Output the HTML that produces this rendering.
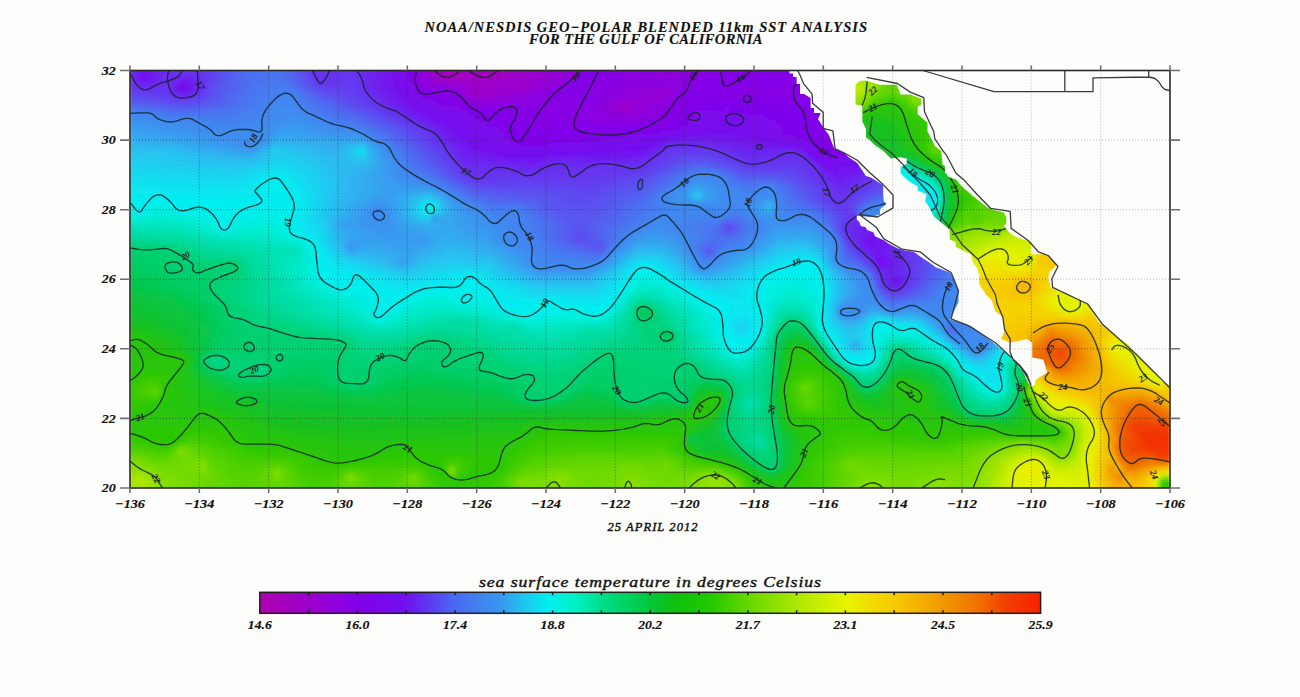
<!DOCTYPE html><html><head><meta charset="utf-8"><style>html,body{margin:0;padding:0;background:#fdfdfb;width:1300px;height:697px;overflow:hidden}svg{display:block}</style></head><body>
<svg width="1300" height="697" viewBox="0 0 1300 697">
<defs><clipPath id="plot"><rect x="130.0" y="70.5" width="1040.0" height="417.5"/></clipPath>
<filter id="vb" x="0" y="0" width="1300" height="697" filterUnits="userSpaceOnUse"><feGaussianBlur stdDeviation="1 2.2"/></filter>
<linearGradient id="g0" gradientUnits="userSpaceOnUse" x1="130" x2="1170"><stop offset=".001" stop-color="#692cf0"/><stop offset=".013" stop-color="#7310f0"/><stop offset=".039" stop-color="#6830f0"/><stop offset=".064" stop-color="#6830f0"/><stop offset=".113" stop-color="#4c6ff0"/><stop offset=".145" stop-color="#4a75f0"/><stop offset=".166" stop-color="#5b51f0"/><stop offset=".178" stop-color="#6830f0"/><stop offset=".214" stop-color="#6634f0"/><stop offset=".261" stop-color="#7a09ec"/><stop offset=".280" stop-color="#8a00e1"/><stop offset=".293" stop-color="#a500c0"/><stop offset=".357" stop-color="#a200c3"/><stop offset=".411" stop-color="#9400d5"/><stop offset=".439" stop-color="#8400e8"/><stop offset=".511" stop-color="#8e00dc"/><stop offset=".576" stop-color="#8400e8"/><stop offset=".670" stop-color="#8400e8"/><stop offset=".672" stop-color="#b8ea00"/><stop offset=".695" stop-color="#b8ea00"/><stop offset=".697" stop-color="#a8e600"/><stop offset=".705" stop-color="#a1e500"/><stop offset=".709" stop-color="#87df00"/><stop offset=".711" stop-color="#96e200"/><stop offset=".716" stop-color="#96e200"/><stop offset=".722" stop-color="#9fe400"/><stop offset=".724" stop-color="#6bd900"/><stop offset=".738" stop-color="#60d600"/><stop offset=".757" stop-color="#60d600"/><stop offset=".759" stop-color="#6dd900"/><stop offset=".761" stop-color="#6dd900"/><stop offset=".762" stop-color="#87df00"/><stop offset=".770" stop-color="#87df00"/><stop offset=".774" stop-color="#7edd00"/><stop offset=".905" stop-color="#7edd00"/><stop offset=".907" stop-color="#51d100"/><stop offset=".916" stop-color="#51d100"/><stop offset=".918" stop-color="#68d800"/><stop offset=".999" stop-color="#68d800"/></linearGradient><linearGradient id="g1" gradientUnits="userSpaceOnUse" x1="130" x2="1170"><stop offset=".001" stop-color="#692ef0"/><stop offset=".013" stop-color="#730ff0"/><stop offset=".039" stop-color="#6830f0"/><stop offset=".064" stop-color="#6830f0"/><stop offset=".113" stop-color="#4c6ff0"/><stop offset=".145" stop-color="#4a75f0"/><stop offset=".166" stop-color="#5b52f0"/><stop offset=".178" stop-color="#6830f0"/><stop offset=".214" stop-color="#6634f0"/><stop offset=".261" stop-color="#7a09ec"/><stop offset=".280" stop-color="#8a00e1"/><stop offset=".295" stop-color="#a500c0"/><stop offset=".355" stop-color="#a400c1"/><stop offset=".409" stop-color="#9400d5"/><stop offset=".439" stop-color="#8400e8"/><stop offset=".511" stop-color="#8e00dc"/><stop offset=".576" stop-color="#8400e8"/><stop offset=".670" stop-color="#8400e8"/><stop offset=".672" stop-color="#b8ea00"/><stop offset=".695" stop-color="#b8ea00"/><stop offset=".697" stop-color="#a8e600"/><stop offset=".705" stop-color="#a1e500"/><stop offset=".709" stop-color="#87df00"/><stop offset=".711" stop-color="#96e200"/><stop offset=".716" stop-color="#96e200"/><stop offset=".722" stop-color="#9fe400"/><stop offset=".724" stop-color="#6bd900"/><stop offset=".738" stop-color="#60d600"/><stop offset=".757" stop-color="#66d700"/><stop offset=".761" stop-color="#6dd900"/><stop offset=".762" stop-color="#87df00"/><stop offset=".770" stop-color="#87df00"/><stop offset=".774" stop-color="#7edd00"/><stop offset=".899" stop-color="#7edd00"/><stop offset=".901" stop-color="#66d700"/><stop offset=".905" stop-color="#66d700"/><stop offset=".907" stop-color="#51d100"/><stop offset=".914" stop-color="#51d100"/><stop offset=".918" stop-color="#68d800"/><stop offset=".999" stop-color="#68d800"/></linearGradient><linearGradient id="g2" gradientUnits="userSpaceOnUse" x1="130" x2="1170"><stop offset=".001" stop-color="#6830f0"/><stop offset=".013" stop-color="#750eef"/><stop offset=".036" stop-color="#6830f0"/><stop offset=".049" stop-color="#6a2bf0"/><stop offset=".061" stop-color="#6a2bf0"/><stop offset=".111" stop-color="#4d6ef0"/><stop offset=".145" stop-color="#4976f0"/><stop offset=".164" stop-color="#5858f0"/><stop offset=".180" stop-color="#6830f0"/><stop offset=".214" stop-color="#6635f0"/><stop offset=".259" stop-color="#780aed"/><stop offset=".284" stop-color="#8f00dc"/><stop offset=".305" stop-color="#a700bc"/><stop offset=".328" stop-color="#a200c3"/><stop offset=".349" stop-color="#a400c1"/><stop offset=".409" stop-color="#9400d5"/><stop offset=".418" stop-color="#9200d8"/><stop offset=".430" stop-color="#8400e8"/><stop offset=".512" stop-color="#8e00dc"/><stop offset=".570" stop-color="#8400e8"/><stop offset=".670" stop-color="#8400e8"/><stop offset=".672" stop-color="#00eacb"/><stop offset=".674" stop-color="#b8ea00"/><stop offset=".697" stop-color="#b8ea00"/><stop offset=".699" stop-color="#a8e600"/><stop offset=".705" stop-color="#a1e500"/><stop offset=".709" stop-color="#87df00"/><stop offset=".711" stop-color="#96e200"/><stop offset=".720" stop-color="#9fe400"/><stop offset=".724" stop-color="#6bd900"/><stop offset=".738" stop-color="#60d600"/><stop offset=".753" stop-color="#60d600"/><stop offset=".755" stop-color="#6dd900"/><stop offset=".759" stop-color="#6dd900"/><stop offset=".762" stop-color="#87df00"/><stop offset=".768" stop-color="#87df00"/><stop offset=".772" stop-color="#7edd00"/><stop offset=".889" stop-color="#7edd00"/><stop offset=".891" stop-color="#66d700"/><stop offset=".895" stop-color="#66d700"/><stop offset=".897" stop-color="#51d100"/><stop offset=".911" stop-color="#51d100"/><stop offset=".914" stop-color="#68d800"/><stop offset=".999" stop-color="#68d800"/></linearGradient><linearGradient id="g3" gradientUnits="userSpaceOnUse" x1="130" x2="1170"><stop offset=".001" stop-color="#6831f0"/><stop offset=".005" stop-color="#6830f0"/><stop offset=".011" stop-color="#7310f0"/><stop offset=".016" stop-color="#7015f0"/><stop offset=".030" stop-color="#692ef0"/><stop offset=".045" stop-color="#6b27f0"/><stop offset=".053" stop-color="#6f1af0"/><stop offset=".099" stop-color="#5264f0"/><stop offset=".139" stop-color="#477af0"/><stop offset=".161" stop-color="#5264f0"/><stop offset=".182" stop-color="#6830f0"/><stop offset=".211" stop-color="#643af0"/><stop offset=".263" stop-color="#7a08ec"/><stop offset=".295" stop-color="#9900d0"/><stop offset=".307" stop-color="#a100c4"/><stop offset=".330" stop-color="#a000c6"/><stop offset=".364" stop-color="#9d00ca"/><stop offset=".409" stop-color="#9300d7"/><stop offset=".416" stop-color="#9900d0"/><stop offset=".424" stop-color="#8400e8"/><stop offset=".514" stop-color="#8e00dc"/><stop offset=".564" stop-color="#8301e8"/><stop offset=".672" stop-color="#8400e8"/><stop offset=".674" stop-color="#b8ea00"/><stop offset=".699" stop-color="#b8ea00"/><stop offset=".707" stop-color="#95e200"/><stop offset=".709" stop-color="#87df00"/><stop offset=".711" stop-color="#96e200"/><stop offset=".713" stop-color="#96e200"/><stop offset=".714" stop-color="#a6e600"/><stop offset=".718" stop-color="#9fe400"/><stop offset=".722" stop-color="#71da00"/><stop offset=".734" stop-color="#5fd500"/><stop offset=".751" stop-color="#66d700"/><stop offset=".759" stop-color="#6dd900"/><stop offset=".761" stop-color="#87df00"/><stop offset=".766" stop-color="#87df00"/><stop offset=".770" stop-color="#7edd00"/><stop offset=".878" stop-color="#7edd00"/><stop offset=".880" stop-color="#56d300"/><stop offset=".882" stop-color="#66d700"/><stop offset=".884" stop-color="#66d700"/><stop offset=".886" stop-color="#51d100"/><stop offset=".907" stop-color="#51d100"/><stop offset=".911" stop-color="#68d800"/><stop offset=".999" stop-color="#68d800"/></linearGradient><linearGradient id="g4" gradientUnits="userSpaceOnUse" x1="130" x2="1170"><stop offset=".001" stop-color="#6733f0"/><stop offset=".014" stop-color="#6d21f0"/><stop offset=".032" stop-color="#6831f0"/><stop offset=".041" stop-color="#6a29f0"/><stop offset=".049" stop-color="#750def"/><stop offset=".057" stop-color="#7017f0"/><stop offset=".080" stop-color="#5d4cf0"/><stop offset=".120" stop-color="#4976f0"/><stop offset=".151" stop-color="#4878f0"/><stop offset=".176" stop-color="#5f46f0"/><stop offset=".184" stop-color="#6634f0"/><stop offset=".209" stop-color="#633df0"/><stop offset=".261" stop-color="#780aed"/><stop offset=".291" stop-color="#8f00db"/><stop offset=".347" stop-color="#9e00c9"/><stop offset=".388" stop-color="#9500d4"/><stop offset=".418" stop-color="#8600e5"/><stop offset=".461" stop-color="#8b00e0"/><stop offset=".518" stop-color="#8d00de"/><stop offset=".564" stop-color="#8301e8"/><stop offset=".637" stop-color="#8500e7"/><stop offset=".672" stop-color="#8400e8"/><stop offset=".674" stop-color="#00eacb"/><stop offset=".676" stop-color="#b9ea00"/><stop offset=".703" stop-color="#b3e900"/><stop offset=".707" stop-color="#99e300"/><stop offset=".709" stop-color="#87df00"/><stop offset=".711" stop-color="#a6e600"/><stop offset=".714" stop-color="#a6e600"/><stop offset=".718" stop-color="#92e100"/><stop offset=".720" stop-color="#7bdc00"/><stop offset=".730" stop-color="#61d600"/><stop offset=".747" stop-color="#60d600"/><stop offset=".753" stop-color="#6dd900"/><stop offset=".757" stop-color="#6dd900"/><stop offset=".759" stop-color="#87df00"/><stop offset=".764" stop-color="#87df00"/><stop offset=".768" stop-color="#7edd00"/><stop offset=".863" stop-color="#7edd00"/><stop offset=".864" stop-color="#56d300"/><stop offset=".870" stop-color="#56d300"/><stop offset=".872" stop-color="#31c800"/><stop offset=".874" stop-color="#41cd00"/><stop offset=".876" stop-color="#41cd00"/><stop offset=".878" stop-color="#51d100"/><stop offset=".903" stop-color="#51d100"/><stop offset=".907" stop-color="#68d800"/><stop offset=".997" stop-color="#68d800"/><stop offset=".999" stop-color="#caee00"/></linearGradient><linearGradient id="g5" gradientUnits="userSpaceOnUse" x1="130" x2="1170"><stop offset=".001" stop-color="#6439f0"/><stop offset=".018" stop-color="#682ff0"/><stop offset=".036" stop-color="#6732f0"/><stop offset=".043" stop-color="#6c22f0"/><stop offset=".049" stop-color="#770bee"/><stop offset=".057" stop-color="#7016f0"/><stop offset=".082" stop-color="#5b51f0"/><stop offset=".124" stop-color="#477af0"/><stop offset=".153" stop-color="#467cf0"/><stop offset=".186" stop-color="#6142f0"/><stop offset=".216" stop-color="#643af0"/><stop offset=".261" stop-color="#770bee"/><stop offset=".293" stop-color="#8a00e1"/><stop offset=".314" stop-color="#8e00dd"/><stop offset=".336" stop-color="#9c00cc"/><stop offset=".384" stop-color="#9900d0"/><stop offset=".424" stop-color="#8400e8"/><stop offset=".514" stop-color="#9100d9"/><stop offset=".551" stop-color="#8202e9"/><stop offset=".622" stop-color="#8900e2"/><stop offset=".634" stop-color="#8800e3"/><stop offset=".674" stop-color="#8400e8"/><stop offset=".676" stop-color="#bdeb00"/><stop offset=".705" stop-color="#c0eb00"/><stop offset=".709" stop-color="#87df00"/><stop offset=".711" stop-color="#9ce400"/><stop offset=".714" stop-color="#9be300"/><stop offset=".722" stop-color="#6dd900"/><stop offset=".734" stop-color="#5ed500"/><stop offset=".741" stop-color="#69d800"/><stop offset=".743" stop-color="#72da00"/><stop offset=".747" stop-color="#61d600"/><stop offset=".753" stop-color="#6dd900"/><stop offset=".755" stop-color="#6dd900"/><stop offset=".759" stop-color="#87df00"/><stop offset=".762" stop-color="#87df00"/><stop offset=".766" stop-color="#7edd00"/><stop offset=".847" stop-color="#7edd00"/><stop offset=".849" stop-color="#56d300"/><stop offset=".855" stop-color="#56d300"/><stop offset=".857" stop-color="#31c800"/><stop offset=".864" stop-color="#31c800"/><stop offset=".866" stop-color="#41cd00"/><stop offset=".868" stop-color="#41cd00"/><stop offset=".870" stop-color="#51d100"/><stop offset=".899" stop-color="#51d100"/><stop offset=".903" stop-color="#68d800"/><stop offset=".995" stop-color="#68d800"/><stop offset=".997" stop-color="#f7cb00"/><stop offset=".999" stop-color="#f7cb00"/></linearGradient><linearGradient id="g6" gradientUnits="userSpaceOnUse" x1="130" x2="1170"><stop offset=".001" stop-color="#6141f0"/><stop offset=".018" stop-color="#6538f0"/><stop offset=".036" stop-color="#6537f0"/><stop offset=".051" stop-color="#7113f0"/><stop offset=".084" stop-color="#5956f0"/><stop offset=".128" stop-color="#457df0"/><stop offset=".155" stop-color="#4185f0"/><stop offset=".184" stop-color="#5c4ef0"/><stop offset=".222" stop-color="#6537f0"/><stop offset=".263" stop-color="#770bee"/><stop offset=".291" stop-color="#8500e7"/><stop offset=".316" stop-color="#8800e3"/><stop offset=".330" stop-color="#9c00cc"/><stop offset=".389" stop-color="#9000da"/><stop offset=".422" stop-color="#8400e8"/><stop offset=".514" stop-color="#9300d6"/><stop offset=".537" stop-color="#8301e8"/><stop offset=".622" stop-color="#8900e2"/><stop offset=".632" stop-color="#8b00e0"/><stop offset=".653" stop-color="#8400e8"/><stop offset=".674" stop-color="#8400e8"/><stop offset=".676" stop-color="#b6e900"/><stop offset=".705" stop-color="#b3e900"/><stop offset=".707" stop-color="#92e100"/><stop offset=".713" stop-color="#82de00"/><stop offset=".722" stop-color="#62d600"/><stop offset=".734" stop-color="#58d300"/><stop offset=".738" stop-color="#63d700"/><stop offset=".739" stop-color="#72da00"/><stop offset=".741" stop-color="#72da00"/><stop offset=".745" stop-color="#5bd400"/><stop offset=".753" stop-color="#6dd900"/><stop offset=".757" stop-color="#87df00"/><stop offset=".761" stop-color="#87df00"/><stop offset=".764" stop-color="#7edd00"/><stop offset=".832" stop-color="#7edd00"/><stop offset=".834" stop-color="#56d300"/><stop offset=".839" stop-color="#56d300"/><stop offset=".841" stop-color="#31c800"/><stop offset=".857" stop-color="#31c800"/><stop offset=".859" stop-color="#41cd00"/><stop offset=".861" stop-color="#41cd00"/><stop offset=".863" stop-color="#51d100"/><stop offset=".895" stop-color="#51d100"/><stop offset=".899" stop-color="#68d800"/><stop offset=".991" stop-color="#68d800"/><stop offset=".993" stop-color="#caee00"/><stop offset=".995" stop-color="#f7cb00"/><stop offset=".999" stop-color="#f7cb00"/></linearGradient><linearGradient id="g7" gradientUnits="userSpaceOnUse" x1="130" x2="1170"><stop offset=".001" stop-color="#5d4bf0"/><stop offset=".036" stop-color="#623ef0"/><stop offset=".053" stop-color="#6a2bf0"/><stop offset=".066" stop-color="#633df0"/><stop offset=".099" stop-color="#4e6cf0"/><stop offset=".151" stop-color="#4088f0"/><stop offset=".161" stop-color="#447ff0"/><stop offset=".189" stop-color="#5a54f0"/><stop offset=".224" stop-color="#6439f0"/><stop offset=".266" stop-color="#780bed"/><stop offset=".293" stop-color="#8202e9"/><stop offset=".320" stop-color="#8600e5"/><stop offset=".326" stop-color="#9c00cc"/><stop offset=".401" stop-color="#8600e5"/><stop offset=".453" stop-color="#8900e2"/><stop offset=".489" stop-color="#9100d9"/><stop offset=".512" stop-color="#9900d0"/><stop offset=".530" stop-color="#8400e8"/><stop offset=".622" stop-color="#8700e4"/><stop offset=".676" stop-color="#8400e8"/><stop offset=".678" stop-color="#a5e500"/><stop offset=".701" stop-color="#a3e500"/><stop offset=".718" stop-color="#60d600"/><stop offset=".724" stop-color="#5fd500"/><stop offset=".732" stop-color="#48cf00"/><stop offset=".747" stop-color="#60d600"/><stop offset=".755" stop-color="#87df00"/><stop offset=".759" stop-color="#87df00"/><stop offset=".762" stop-color="#7edd00"/><stop offset=".816" stop-color="#7edd00"/><stop offset=".818" stop-color="#56d300"/><stop offset=".824" stop-color="#56d300"/><stop offset=".826" stop-color="#31c800"/><stop offset=".849" stop-color="#31c800"/><stop offset=".851" stop-color="#41cd00"/><stop offset=".853" stop-color="#41cd00"/><stop offset=".855" stop-color="#51d100"/><stop offset=".889" stop-color="#51d100"/><stop offset=".893" stop-color="#68d800"/><stop offset=".988" stop-color="#68d800"/><stop offset=".989" stop-color="#caee00"/><stop offset=".991" stop-color="#f7cb00"/><stop offset=".999" stop-color="#f7cb00"/></linearGradient><linearGradient id="g8" gradientUnits="userSpaceOnUse" x1="130" x2="1170"><stop offset=".001" stop-color="#5857f0"/><stop offset=".037" stop-color="#5f46f0"/><stop offset=".059" stop-color="#633ef0"/><stop offset=".105" stop-color="#4b73f0"/><stop offset=".153" stop-color="#4089f0"/><stop offset=".170" stop-color="#4a75f0"/><stop offset=".203" stop-color="#5a54f0"/><stop offset=".270" stop-color="#780bed"/><stop offset=".322" stop-color="#8400e8"/><stop offset=".330" stop-color="#9200d7"/><stop offset=".438" stop-color="#8400e8"/><stop offset=".480" stop-color="#9300d6"/><stop offset=".516" stop-color="#8d00de"/><stop offset=".536" stop-color="#8102e9"/><stop offset=".678" stop-color="#8400e8"/><stop offset=".680" stop-color="#97e300"/><stop offset=".701" stop-color="#95e200"/><stop offset=".707" stop-color="#87df00"/><stop offset=".713" stop-color="#5dd500"/><stop offset=".732" stop-color="#2fc801"/><stop offset=".747" stop-color="#5ad400"/><stop offset=".753" stop-color="#87df00"/><stop offset=".770" stop-color="#7ddd00"/><stop offset=".801" stop-color="#7ddd00"/><stop offset=".803" stop-color="#56d300"/><stop offset=".809" stop-color="#56d300"/><stop offset=".811" stop-color="#31c800"/><stop offset=".841" stop-color="#31c800"/><stop offset=".843" stop-color="#41cd00"/><stop offset=".845" stop-color="#41cd00"/><stop offset=".847" stop-color="#51d100"/><stop offset=".886" stop-color="#51d100"/><stop offset=".889" stop-color="#68d800"/><stop offset=".984" stop-color="#68d800"/><stop offset=".986" stop-color="#caee00"/><stop offset=".988" stop-color="#f7cb00"/><stop offset=".999" stop-color="#f7cb00"/></linearGradient><linearGradient id="g9" gradientUnits="userSpaceOnUse" x1="130" x2="1170"><stop offset=".001" stop-color="#5165f0"/><stop offset=".043" stop-color="#5c4ef0"/><stop offset=".070" stop-color="#5857f0"/><stop offset=".138" stop-color="#4089f0"/><stop offset=".166" stop-color="#4382f0"/><stop offset=".234" stop-color="#6536f0"/><stop offset=".276" stop-color="#780bed"/><stop offset=".330" stop-color="#8a00e1"/><stop offset=".449" stop-color="#8800e3"/><stop offset=".474" stop-color="#9a00ce"/><stop offset=".505" stop-color="#8e00dc"/><stop offset=".545" stop-color="#7e05eb"/><stop offset=".678" stop-color="#8400e8"/><stop offset=".680" stop-color="#00efe6"/><stop offset=".682" stop-color="#93e200"/><stop offset=".703" stop-color="#8de000"/><stop offset=".705" stop-color="#87df00"/><stop offset=".711" stop-color="#4ed100"/><stop offset=".716" stop-color="#30c800"/><stop offset=".736" stop-color="#2ac608"/><stop offset=".743" stop-color="#3ccb00"/><stop offset=".755" stop-color="#6bd900"/><stop offset=".761" stop-color="#6ad800"/><stop offset=".764" stop-color="#75db00"/><stop offset=".787" stop-color="#75db00"/><stop offset=".789" stop-color="#53d200"/><stop offset=".795" stop-color="#53d200"/><stop offset=".797" stop-color="#31c800"/><stop offset=".834" stop-color="#31c800"/><stop offset=".836" stop-color="#41cd00"/><stop offset=".838" stop-color="#41cd00"/><stop offset=".839" stop-color="#51d100"/><stop offset=".882" stop-color="#51d100"/><stop offset=".886" stop-color="#68d800"/><stop offset=".980" stop-color="#68d800"/><stop offset=".982" stop-color="#caee00"/><stop offset=".984" stop-color="#f7cb00"/><stop offset=".999" stop-color="#f7cb00"/></linearGradient><linearGradient id="g10" gradientUnits="userSpaceOnUse" x1="130" x2="1170"><stop offset=".001" stop-color="#4a75f0"/><stop offset=".032" stop-color="#5165f0"/><stop offset=".059" stop-color="#555ef0"/><stop offset=".151" stop-color="#3e8df0"/><stop offset=".184" stop-color="#4a74f0"/><stop offset=".263" stop-color="#6d1ff0"/><stop offset=".278" stop-color="#760dee"/><stop offset=".355" stop-color="#8500e7"/><stop offset=".451" stop-color="#8900e2"/><stop offset=".474" stop-color="#9c00cc"/><stop offset=".497" stop-color="#8d00de"/><stop offset=".574" stop-color="#7c07ec"/><stop offset=".680" stop-color="#8400e8"/><stop offset=".682" stop-color="#93e200"/><stop offset=".699" stop-color="#93e200"/><stop offset=".701" stop-color="#65d700"/><stop offset=".703" stop-color="#4bd000"/><stop offset=".707" stop-color="#42cd00"/><stop offset=".711" stop-color="#2ec702"/><stop offset=".734" stop-color="#28c50a"/><stop offset=".743" stop-color="#2dc704"/><stop offset=".755" stop-color="#53d200"/><stop offset=".762" stop-color="#5fd500"/><stop offset=".766" stop-color="#75db00"/><stop offset=".774" stop-color="#75db00"/><stop offset=".776" stop-color="#53d200"/><stop offset=".782" stop-color="#53d200"/><stop offset=".784" stop-color="#31c800"/><stop offset=".826" stop-color="#31c800"/><stop offset=".828" stop-color="#41cd00"/><stop offset=".830" stop-color="#41cd00"/><stop offset=".832" stop-color="#51d100"/><stop offset=".878" stop-color="#51d100"/><stop offset=".882" stop-color="#68d800"/><stop offset=".976" stop-color="#68d800"/><stop offset=".978" stop-color="#caee00"/><stop offset=".980" stop-color="#f7cb00"/><stop offset=".999" stop-color="#f7cb00"/></linearGradient><linearGradient id="g11" gradientUnits="userSpaceOnUse" x1="130" x2="1170"><stop offset=".001" stop-color="#4284f0"/><stop offset=".024" stop-color="#457df0"/><stop offset=".045" stop-color="#4e6cf0"/><stop offset=".103" stop-color="#477bf0"/><stop offset=".157" stop-color="#3e8ef0"/><stop offset=".214" stop-color="#5460f0"/><stop offset=".268" stop-color="#6d1ff0"/><stop offset=".286" stop-color="#750def"/><stop offset=".366" stop-color="#8400e8"/><stop offset=".455" stop-color="#8b00e0"/><stop offset=".476" stop-color="#9400d5"/><stop offset=".547" stop-color="#7b08ec"/><stop offset=".680" stop-color="#8400e8"/><stop offset=".682" stop-color="#00efe6"/><stop offset=".684" stop-color="#93e200"/><stop offset=".693" stop-color="#93e200"/><stop offset=".697" stop-color="#2ac608"/><stop offset=".736" stop-color="#26c50d"/><stop offset=".747" stop-color="#33c900"/><stop offset=".759" stop-color="#44ce00"/><stop offset=".768" stop-color="#33c900"/><stop offset=".818" stop-color="#31c800"/><stop offset=".820" stop-color="#41cd00"/><stop offset=".822" stop-color="#41cd00"/><stop offset=".824" stop-color="#51d100"/><stop offset=".874" stop-color="#51d100"/><stop offset=".878" stop-color="#68d800"/><stop offset=".972" stop-color="#68d800"/><stop offset=".974" stop-color="#a2e500"/><stop offset=".976" stop-color="#f7cb00"/><stop offset=".999" stop-color="#f7cb00"/></linearGradient><linearGradient id="g12" gradientUnits="userSpaceOnUse" x1="130" x2="1170"><stop offset=".001" stop-color="#3e8df0"/><stop offset=".028" stop-color="#4382f0"/><stop offset=".047" stop-color="#467cf0"/><stop offset=".061" stop-color="#447ff0"/><stop offset=".087" stop-color="#4878f0"/><stop offset=".161" stop-color="#3d90f0"/><stop offset=".214" stop-color="#4f69f0"/><stop offset=".274" stop-color="#6d20f0"/><stop offset=".291" stop-color="#740eef"/><stop offset=".368" stop-color="#8400e8"/><stop offset=".459" stop-color="#8b00e0"/><stop offset=".486" stop-color="#8c00de"/><stop offset=".574" stop-color="#790aed"/><stop offset=".682" stop-color="#8400e8"/><stop offset=".684" stop-color="#00efe6"/><stop offset=".686" stop-color="#93e200"/><stop offset=".688" stop-color="#56d300"/><stop offset=".689" stop-color="#56d300"/><stop offset=".691" stop-color="#26c50e"/><stop offset=".732" stop-color="#22c312"/><stop offset=".757" stop-color="#38ca00"/><stop offset=".811" stop-color="#31c800"/><stop offset=".812" stop-color="#41cd00"/><stop offset=".814" stop-color="#41cd00"/><stop offset=".816" stop-color="#51d100"/><stop offset=".870" stop-color="#51d100"/><stop offset=".874" stop-color="#68d800"/><stop offset=".968" stop-color="#68d800"/><stop offset=".970" stop-color="#a2e500"/><stop offset=".972" stop-color="#ede700"/><stop offset=".974" stop-color="#f7cb00"/><stop offset=".999" stop-color="#f7cb00"/></linearGradient><linearGradient id="g13" gradientUnits="userSpaceOnUse" x1="130" x2="1170"><stop offset=".001" stop-color="#3c92f0"/><stop offset=".045" stop-color="#4186f0"/><stop offset=".066" stop-color="#4283f0"/><stop offset=".099" stop-color="#447ff0"/><stop offset=".161" stop-color="#3b94f0"/><stop offset=".216" stop-color="#4c70f0"/><stop offset=".297" stop-color="#740eef"/><stop offset=".370" stop-color="#8400e8"/><stop offset=".466" stop-color="#8c00df"/><stop offset=".578" stop-color="#780bed"/><stop offset=".684" stop-color="#8400e8"/><stop offset=".686" stop-color="#2bbdf0"/><stop offset=".688" stop-color="#22c312"/><stop offset=".718" stop-color="#1ac11d"/><stop offset=".743" stop-color="#28c50a"/><stop offset=".764" stop-color="#32c900"/><stop offset=".803" stop-color="#31c800"/><stop offset=".805" stop-color="#45ce00"/><stop offset=".807" stop-color="#45ce00"/><stop offset=".809" stop-color="#55d300"/><stop offset=".868" stop-color="#4dd000"/><stop offset=".870" stop-color="#68d800"/><stop offset=".963" stop-color="#68d800"/><stop offset=".964" stop-color="#a2e500"/><stop offset=".966" stop-color="#a2e500"/><stop offset=".968" stop-color="#ede700"/><stop offset=".970" stop-color="#f7cb00"/><stop offset=".999" stop-color="#f7cb00"/></linearGradient><linearGradient id="g14" gradientUnits="userSpaceOnUse" x1="130" x2="1170"><stop offset=".001" stop-color="#3a98f0"/><stop offset=".049" stop-color="#3e8ef0"/><stop offset=".097" stop-color="#4382f0"/><stop offset=".136" stop-color="#3d90f0"/><stop offset=".168" stop-color="#3a96f0"/><stop offset=".220" stop-color="#4976f0"/><stop offset=".305" stop-color="#740eef"/><stop offset=".376" stop-color="#8400e8"/><stop offset=".497" stop-color="#8500e7"/><stop offset=".572" stop-color="#760cee"/><stop offset=".686" stop-color="#8400e8"/><stop offset=".688" stop-color="#22c313"/><stop offset=".716" stop-color="#18c020"/><stop offset=".724" stop-color="#14c128"/><stop offset=".759" stop-color="#30c800"/><stop offset=".795" stop-color="#37ca00"/><stop offset=".797" stop-color="#45ce00"/><stop offset=".799" stop-color="#45ce00"/><stop offset=".801" stop-color="#5ad400"/><stop offset=".816" stop-color="#51d100"/><stop offset=".864" stop-color="#4bd000"/><stop offset=".866" stop-color="#49cf00"/><stop offset=".868" stop-color="#68d800"/><stop offset=".959" stop-color="#68d800"/><stop offset=".963" stop-color="#d2ef00"/><stop offset=".964" stop-color="#d2ef00"/><stop offset=".966" stop-color="#ede700"/><stop offset=".968" stop-color="#f7cb00"/><stop offset=".999" stop-color="#f7cb00"/></linearGradient><linearGradient id="g15" gradientUnits="userSpaceOnUse" x1="130" x2="1170"><stop offset=".001" stop-color="#379ef0"/><stop offset=".080" stop-color="#4186f0"/><stop offset=".132" stop-color="#3e8ef0"/><stop offset=".155" stop-color="#379ef0"/><stop offset=".220" stop-color="#4480f0"/><stop offset=".286" stop-color="#692ef0"/><stop offset=".311" stop-color="#750eef"/><stop offset=".388" stop-color="#8301e9"/><stop offset=".501" stop-color="#8102e9"/><stop offset=".572" stop-color="#740eef"/><stop offset=".688" stop-color="#8400e8"/><stop offset=".689" stop-color="#22c313"/><stop offset=".726" stop-color="#16c024"/><stop offset=".759" stop-color="#2fc802"/><stop offset=".791" stop-color="#3ccb00"/><stop offset=".795" stop-color="#5ad400"/><stop offset=".816" stop-color="#51d100"/><stop offset=".859" stop-color="#4cd000"/><stop offset=".861" stop-color="#45ce00"/><stop offset=".864" stop-color="#49cf00"/><stop offset=".866" stop-color="#68d800"/><stop offset=".955" stop-color="#68d800"/><stop offset=".959" stop-color="#d2ef00"/><stop offset=".961" stop-color="#d2ef00"/><stop offset=".963" stop-color="#ede700"/><stop offset=".964" stop-color="#f7cb00"/><stop offset=".999" stop-color="#f7cb00"/></linearGradient><linearGradient id="g16" gradientUnits="userSpaceOnUse" x1="130" x2="1170"><stop offset=".001" stop-color="#35a4f0"/><stop offset=".076" stop-color="#3f8cf0"/><stop offset=".130" stop-color="#3e8df0"/><stop offset=".149" stop-color="#35a2f0"/><stop offset=".220" stop-color="#3f8af0"/><stop offset=".286" stop-color="#6634f0"/><stop offset=".297" stop-color="#6b26f0"/><stop offset=".312" stop-color="#740fef"/><stop offset=".386" stop-color="#8202e9"/><stop offset=".499" stop-color="#7f05ea"/><stop offset=".570" stop-color="#730ff0"/><stop offset=".647" stop-color="#8103e9"/><stop offset=".689" stop-color="#8400e8"/><stop offset=".691" stop-color="#1dc219"/><stop offset=".728" stop-color="#16c023"/><stop offset=".762" stop-color="#30c800"/><stop offset=".787" stop-color="#44ce00"/><stop offset=".791" stop-color="#5ad400"/><stop offset=".812" stop-color="#51d100"/><stop offset=".855" stop-color="#4cd000"/><stop offset=".859" stop-color="#44ce00"/><stop offset=".863" stop-color="#49cf00"/><stop offset=".864" stop-color="#68d800"/><stop offset=".951" stop-color="#68d800"/><stop offset=".955" stop-color="#d2ef00"/><stop offset=".959" stop-color="#d2ef00"/><stop offset=".961" stop-color="#ede700"/><stop offset=".963" stop-color="#f7cb00"/><stop offset=".999" stop-color="#f7cb00"/></linearGradient><linearGradient id="g17" gradientUnits="userSpaceOnUse" x1="130" x2="1170"><stop offset=".001" stop-color="#33aaf0"/><stop offset=".072" stop-color="#3b95f0"/><stop offset=".091" stop-color="#3f8cf0"/><stop offset=".128" stop-color="#3f8af0"/><stop offset=".143" stop-color="#34a7f0"/><stop offset=".222" stop-color="#3b94f0"/><stop offset=".286" stop-color="#643af0"/><stop offset=".318" stop-color="#740eef"/><stop offset=".384" stop-color="#8102e9"/><stop offset=".447" stop-color="#8202e9"/><stop offset=".511" stop-color="#760cee"/><stop offset=".559" stop-color="#7017f0"/><stop offset=".647" stop-color="#7f05ea"/><stop offset=".689" stop-color="#8400e8"/><stop offset=".691" stop-color="#2bbdf0"/><stop offset=".693" stop-color="#17c022"/><stop offset=".736" stop-color="#18c020"/><stop offset=".762" stop-color="#31c800"/><stop offset=".782" stop-color="#44ce00"/><stop offset=".789" stop-color="#5ad400"/><stop offset=".805" stop-color="#51d100"/><stop offset=".851" stop-color="#4cd000"/><stop offset=".855" stop-color="#44ce00"/><stop offset=".861" stop-color="#49cf00"/><stop offset=".863" stop-color="#68d800"/><stop offset=".947" stop-color="#68d800"/><stop offset=".951" stop-color="#d2ef00"/><stop offset=".955" stop-color="#d2ef00"/><stop offset=".957" stop-color="#ede700"/><stop offset=".959" stop-color="#f7cb00"/><stop offset=".999" stop-color="#f7ca00"/></linearGradient><linearGradient id="g18" gradientUnits="userSpaceOnUse" x1="130" x2="1170"><stop offset=".001" stop-color="#30b1f0"/><stop offset=".068" stop-color="#379ef0"/><stop offset=".124" stop-color="#4088f0"/><stop offset=".141" stop-color="#31aef0"/><stop offset=".211" stop-color="#34a5f0"/><stop offset=".224" stop-color="#36a1f0"/><stop offset=".236" stop-color="#4087f0"/><stop offset=".257" stop-color="#5067f0"/><stop offset=".312" stop-color="#7017f0"/><stop offset=".380" stop-color="#8202e9"/><stop offset=".439" stop-color="#7e05eb"/><stop offset=".509" stop-color="#740eef"/><stop offset=".539" stop-color="#6c22f0"/><stop offset=".647" stop-color="#7c07ec"/><stop offset=".676" stop-color="#8400e8"/><stop offset=".693" stop-color="#7f05ea"/><stop offset=".695" stop-color="#17c022"/><stop offset=".736" stop-color="#16c125"/><stop offset=".761" stop-color="#2fc801"/><stop offset=".774" stop-color="#44ce00"/><stop offset=".786" stop-color="#5ad400"/><stop offset=".801" stop-color="#51d100"/><stop offset=".832" stop-color="#51d100"/><stop offset=".834" stop-color="#41cd00"/><stop offset=".838" stop-color="#3ecc00"/><stop offset=".839" stop-color="#4cd000"/><stop offset=".849" stop-color="#45ce00"/><stop offset=".851" stop-color="#3dcc00"/><stop offset=".853" stop-color="#49cf00"/><stop offset=".857" stop-color="#49cf00"/><stop offset=".861" stop-color="#68d800"/><stop offset=".943" stop-color="#68d800"/><stop offset=".947" stop-color="#d2ef00"/><stop offset=".953" stop-color="#d2ef00"/><stop offset=".955" stop-color="#f7cb00"/><stop offset=".999" stop-color="#f7ca00"/></linearGradient><linearGradient id="g19" gradientUnits="userSpaceOnUse" x1="130" x2="1170"><stop offset=".001" stop-color="#2db7f0"/><stop offset=".047" stop-color="#31adf0"/><stop offset=".109" stop-color="#3e8ef0"/><stop offset=".124" stop-color="#3e8df0"/><stop offset=".139" stop-color="#2cb9f0"/><stop offset=".205" stop-color="#32abf0"/><stop offset=".222" stop-color="#2bbcf0"/><stop offset=".239" stop-color="#3f8cf0"/><stop offset=".251" stop-color="#457ef0"/><stop offset=".282" stop-color="#5e49f0"/><stop offset=".326" stop-color="#730ff0"/><stop offset=".382" stop-color="#7e05eb"/><stop offset=".503" stop-color="#730fef"/><stop offset=".520" stop-color="#692cf0"/><stop offset=".564" stop-color="#6c24f0"/><stop offset=".647" stop-color="#780aed"/><stop offset=".670" stop-color="#8400e8"/><stop offset=".695" stop-color="#7f05ea"/><stop offset=".697" stop-color="#29c2f0"/><stop offset=".699" stop-color="#17c022"/><stop offset=".734" stop-color="#10c230"/><stop offset=".757" stop-color="#2cc706"/><stop offset=".770" stop-color="#47cf00"/><stop offset=".778" stop-color="#5dd500"/><stop offset=".795" stop-color="#51d100"/><stop offset=".824" stop-color="#51d100"/><stop offset=".826" stop-color="#3ccb00"/><stop offset=".828" stop-color="#3ccb00"/><stop offset=".830" stop-color="#2ec703"/><stop offset=".834" stop-color="#3ecc00"/><stop offset=".836" stop-color="#4cd000"/><stop offset=".845" stop-color="#45ce00"/><stop offset=".847" stop-color="#3dcc00"/><stop offset=".853" stop-color="#49cf00"/><stop offset=".855" stop-color="#49cf00"/><stop offset=".859" stop-color="#68d800"/><stop offset=".938" stop-color="#68d800"/><stop offset=".939" stop-color="#a2e500"/><stop offset=".941" stop-color="#a2e500"/><stop offset=".943" stop-color="#d2ef00"/><stop offset=".949" stop-color="#d2ef00"/><stop offset=".951" stop-color="#ede700"/><stop offset=".953" stop-color="#f7cb00"/><stop offset=".999" stop-color="#f7ca00"/></linearGradient><linearGradient id="g20" gradientUnits="userSpaceOnUse" x1="130" x2="1170"><stop offset=".001" stop-color="#2bbdf0"/><stop offset=".036" stop-color="#2cbaf0"/><stop offset=".111" stop-color="#3b94f0"/><stop offset=".118" stop-color="#3e8ef0"/><stop offset=".139" stop-color="#24c9f0"/><stop offset=".195" stop-color="#31adf0"/><stop offset=".214" stop-color="#29c0f0"/><stop offset=".222" stop-color="#17d8f0"/><stop offset=".224" stop-color="#18d7f0"/><stop offset=".232" stop-color="#33aaf0"/><stop offset=".249" stop-color="#4088f0"/><stop offset=".286" stop-color="#5e4af0"/><stop offset=".332" stop-color="#730ff0"/><stop offset=".389" stop-color="#780aed"/><stop offset=".499" stop-color="#7211f0"/><stop offset=".518" stop-color="#6732f0"/><stop offset=".557" stop-color="#6830f0"/><stop offset=".611" stop-color="#6e1cf0"/><stop offset=".636" stop-color="#6d1ff0"/><stop offset=".666" stop-color="#8400e8"/><stop offset=".699" stop-color="#760cee"/><stop offset=".701" stop-color="#20cdf0"/><stop offset=".703" stop-color="#17c022"/><stop offset=".736" stop-color="#12c12b"/><stop offset=".764" stop-color="#35c900"/><stop offset=".772" stop-color="#5fd500"/><stop offset=".791" stop-color="#51d100"/><stop offset=".816" stop-color="#51d100"/><stop offset=".818" stop-color="#3ccb00"/><stop offset=".820" stop-color="#3ccb00"/><stop offset=".822" stop-color="#2bc607"/><stop offset=".828" stop-color="#30c800"/><stop offset=".832" stop-color="#4cd000"/><stop offset=".841" stop-color="#45ce00"/><stop offset=".843" stop-color="#3dcc00"/><stop offset=".849" stop-color="#49cf00"/><stop offset=".853" stop-color="#49cf00"/><stop offset=".857" stop-color="#68d800"/><stop offset=".934" stop-color="#68d800"/><stop offset=".938" stop-color="#d2ef00"/><stop offset=".947" stop-color="#d2ef00"/><stop offset=".949" stop-color="#f7cb00"/><stop offset=".999" stop-color="#f7cb00"/></linearGradient><linearGradient id="g21" gradientUnits="userSpaceOnUse" x1="130" x2="1170"><stop offset=".001" stop-color="#28c3f0"/><stop offset=".030" stop-color="#26c7f0"/><stop offset=".116" stop-color="#36a0f0"/><stop offset=".139" stop-color="#20cdf0"/><stop offset=".197" stop-color="#2fb2f0"/><stop offset=".214" stop-color="#26c7f0"/><stop offset=".220" stop-color="#10e0f0"/><stop offset=".224" stop-color="#10e0f0"/><stop offset=".230" stop-color="#2cbaf0"/><stop offset=".243" stop-color="#3b94f0"/><stop offset=".320" stop-color="#6e1ef0"/><stop offset=".357" stop-color="#750def"/><stop offset=".493" stop-color="#7113f0"/><stop offset=".516" stop-color="#6636f0"/><stop offset=".553" stop-color="#633cf0"/><stop offset=".603" stop-color="#6c22f0"/><stop offset=".636" stop-color="#692ef0"/><stop offset=".645" stop-color="#6c22f0"/><stop offset=".655" stop-color="#770bee"/><stop offset=".676" stop-color="#8300e8"/><stop offset=".705" stop-color="#7310f0"/><stop offset=".707" stop-color="#1cd2f0"/><stop offset=".709" stop-color="#14c127"/><stop offset=".741" stop-color="#14c127"/><stop offset=".755" stop-color="#1fc217"/><stop offset=".768" stop-color="#3ecc00"/><stop offset=".772" stop-color="#55d300"/><stop offset=".809" stop-color="#4fd100"/><stop offset=".811" stop-color="#3ccb00"/><stop offset=".812" stop-color="#3ccb00"/><stop offset=".814" stop-color="#2bc607"/><stop offset=".824" stop-color="#30c800"/><stop offset=".828" stop-color="#4cd000"/><stop offset=".838" stop-color="#45ce00"/><stop offset=".841" stop-color="#3bcb00"/><stop offset=".847" stop-color="#49cf00"/><stop offset=".851" stop-color="#49cf00"/><stop offset=".855" stop-color="#68d800"/><stop offset=".930" stop-color="#68d800"/><stop offset=".934" stop-color="#d2ef00"/><stop offset=".943" stop-color="#d2ef00"/><stop offset=".945" stop-color="#ede700"/><stop offset=".947" stop-color="#f7cb00"/><stop offset=".999" stop-color="#f7cb00"/></linearGradient><linearGradient id="g22" gradientUnits="userSpaceOnUse" x1="130" x2="1170"><stop offset=".001" stop-color="#25c8f0"/><stop offset=".034" stop-color="#25c8f0"/><stop offset=".113" stop-color="#31adf0"/><stop offset=".143" stop-color="#1fcef0"/><stop offset=".199" stop-color="#2db7f0"/><stop offset=".224" stop-color="#1ecff0"/><stop offset=".241" stop-color="#389bf0"/><stop offset=".318" stop-color="#6b25f0"/><stop offset=".368" stop-color="#740eef"/><stop offset=".422" stop-color="#7114f0"/><stop offset=".489" stop-color="#6f1af0"/><stop offset=".530" stop-color="#5f46f0"/><stop offset=".561" stop-color="#6142f0"/><stop offset=".591" stop-color="#6a29f0"/><stop offset=".647" stop-color="#6830f0"/><stop offset=".657" stop-color="#750eef"/><stop offset=".680" stop-color="#8301e8"/><stop offset=".709" stop-color="#7310f0"/><stop offset=".711" stop-color="#1ed0f0"/><stop offset=".713" stop-color="#13c12a"/><stop offset=".741" stop-color="#14c128"/><stop offset=".743" stop-color="#10c231"/><stop offset=".747" stop-color="#14c128"/><stop offset=".753" stop-color="#12c12b"/><stop offset=".768" stop-color="#30c800"/><stop offset=".778" stop-color="#42cd00"/><stop offset=".795" stop-color="#42cd00"/><stop offset=".797" stop-color="#36ca00"/><stop offset=".805" stop-color="#37ca00"/><stop offset=".809" stop-color="#2bc607"/><stop offset=".820" stop-color="#30c800"/><stop offset=".824" stop-color="#4cd000"/><stop offset=".834" stop-color="#45ce00"/><stop offset=".838" stop-color="#3bcb00"/><stop offset=".843" stop-color="#49cf00"/><stop offset=".849" stop-color="#49cf00"/><stop offset=".853" stop-color="#68d800"/><stop offset=".926" stop-color="#68d800"/><stop offset=".930" stop-color="#d2ef00"/><stop offset=".939" stop-color="#d2ef00"/><stop offset=".941" stop-color="#ede700"/><stop offset=".943" stop-color="#f7cb00"/><stop offset=".999" stop-color="#f7cb00"/></linearGradient><linearGradient id="g23" gradientUnits="userSpaceOnUse" x1="130" x2="1170"><stop offset=".001" stop-color="#22cbf0"/><stop offset=".045" stop-color="#26c7f0"/><stop offset=".113" stop-color="#2cb9f0"/><stop offset=".145" stop-color="#1cd2f0"/><stop offset=".201" stop-color="#2cb9f0"/><stop offset=".224" stop-color="#28c4f0"/><stop offset=".253" stop-color="#3f8cf0"/><stop offset=".322" stop-color="#6b26f0"/><stop offset=".386" stop-color="#7113f0"/><stop offset=".416" stop-color="#6c24f0"/><stop offset=".439" stop-color="#6e1ef0"/><stop offset=".474" stop-color="#6d20f0"/><stop offset=".495" stop-color="#6a2bf0"/><stop offset=".541" stop-color="#5a53f0"/><stop offset=".568" stop-color="#5f46f0"/><stop offset=".591" stop-color="#692ef0"/><stop offset=".645" stop-color="#6733f0"/><stop offset=".653" stop-color="#692cf0"/><stop offset=".661" stop-color="#740eef"/><stop offset=".684" stop-color="#7c08ec"/><stop offset=".711" stop-color="#7113f0"/><stop offset=".713" stop-color="#6f1af0"/><stop offset=".714" stop-color="#19d6f0"/><stop offset=".716" stop-color="#12c12b"/><stop offset=".739" stop-color="#13c12a"/><stop offset=".741" stop-color="#0bc33a"/><stop offset=".745" stop-color="#08c440"/><stop offset=".747" stop-color="#04ca58"/><stop offset=".749" stop-color="#04ca5a"/><stop offset=".755" stop-color="#0bc33a"/><stop offset=".770" stop-color="#2ac608"/><stop offset=".784" stop-color="#34c900"/><stop offset=".801" stop-color="#2bc607"/><stop offset=".816" stop-color="#30c800"/><stop offset=".820" stop-color="#4cd000"/><stop offset=".830" stop-color="#45ce00"/><stop offset=".836" stop-color="#39cb00"/><stop offset=".838" stop-color="#49cf00"/><stop offset=".847" stop-color="#49cf00"/><stop offset=".851" stop-color="#68d800"/><stop offset=".922" stop-color="#68d800"/><stop offset=".926" stop-color="#d2ef00"/><stop offset=".938" stop-color="#d2ef00"/><stop offset=".939" stop-color="#ede700"/><stop offset=".941" stop-color="#f7cb00"/><stop offset=".999" stop-color="#f7cb00"/></linearGradient><linearGradient id="g24" gradientUnits="userSpaceOnUse" x1="130" x2="1170"><stop offset=".001" stop-color="#1ed0f0"/><stop offset=".068" stop-color="#28c4f0"/><stop offset=".116" stop-color="#26c6f0"/><stop offset=".145" stop-color="#17d8f0"/><stop offset=".201" stop-color="#2cbaf0"/><stop offset=".226" stop-color="#2cb9f0"/><stop offset=".324" stop-color="#6a29f0"/><stop offset=".351" stop-color="#6a2af0"/><stop offset=".388" stop-color="#6e1ef0"/><stop offset=".412" stop-color="#6830f0"/><stop offset=".436" stop-color="#6b25f0"/><stop offset=".463" stop-color="#6831f0"/><stop offset=".489" stop-color="#692cf0"/><stop offset=".547" stop-color="#5362f0"/><stop offset=".572" stop-color="#5c4df0"/><stop offset=".599" stop-color="#6830f0"/><stop offset=".639" stop-color="#643af0"/><stop offset=".657" stop-color="#692cf0"/><stop offset=".666" stop-color="#740eef"/><stop offset=".703" stop-color="#7211f0"/><stop offset=".713" stop-color="#6f1af0"/><stop offset=".716" stop-color="#6830f0"/><stop offset=".718" stop-color="#12ddf0"/><stop offset=".720" stop-color="#12c22d"/><stop offset=".734" stop-color="#12c12b"/><stop offset=".736" stop-color="#00d992"/><stop offset=".738" stop-color="#00f0f0"/><stop offset=".741" stop-color="#00f0f0"/><stop offset=".745" stop-color="#00eaca"/><stop offset=".747" stop-color="#00db9d"/><stop offset=".751" stop-color="#00d278"/><stop offset=".753" stop-color="#04ca58"/><stop offset=".772" stop-color="#1fc217"/><stop offset=".778" stop-color="#2bc606"/><stop offset=".811" stop-color="#2ec703"/><stop offset=".814" stop-color="#3ecc00"/><stop offset=".816" stop-color="#4cd000"/><stop offset=".826" stop-color="#45ce00"/><stop offset=".832" stop-color="#39cb00"/><stop offset=".838" stop-color="#49cf00"/><stop offset=".845" stop-color="#49cf00"/><stop offset=".847" stop-color="#68d800"/><stop offset=".918" stop-color="#68d800"/><stop offset=".922" stop-color="#d2ef00"/><stop offset=".934" stop-color="#d2ef00"/><stop offset=".936" stop-color="#ede700"/><stop offset=".938" stop-color="#f7cb00"/><stop offset=".999" stop-color="#f7cb00"/></linearGradient><linearGradient id="g25" gradientUnits="userSpaceOnUse" x1="130" x2="1170"><stop offset=".001" stop-color="#1ad4f0"/><stop offset=".109" stop-color="#23caf0"/><stop offset=".145" stop-color="#12def0"/><stop offset=".201" stop-color="#2bbcf0"/><stop offset=".230" stop-color="#30b0f0"/><stop offset=".295" stop-color="#565cf0"/><stop offset=".322" stop-color="#692ef0"/><stop offset=".347" stop-color="#682ff0"/><stop offset=".376" stop-color="#6b26f0"/><stop offset=".420" stop-color="#6830f0"/><stop offset=".441" stop-color="#6831f0"/><stop offset=".493" stop-color="#6634f0"/><stop offset=".549" stop-color="#4b72f0"/><stop offset=".570" stop-color="#555ef0"/><stop offset=".599" stop-color="#633cf0"/><stop offset=".637" stop-color="#6240f0"/><stop offset=".661" stop-color="#692cf0"/><stop offset=".670" stop-color="#730ff0"/><stop offset=".703" stop-color="#7017f0"/><stop offset=".711" stop-color="#6e1ef0"/><stop offset=".714" stop-color="#6830f0"/><stop offset=".722" stop-color="#6538f0"/><stop offset=".724" stop-color="#0ae6f0"/><stop offset=".726" stop-color="#12c12b"/><stop offset=".728" stop-color="#12c12b"/><stop offset=".730" stop-color="#00d992"/><stop offset=".732" stop-color="#00d992"/><stop offset=".734" stop-color="#00f0f0"/><stop offset=".745" stop-color="#00f0f0"/><stop offset=".751" stop-color="#00dea7"/><stop offset=".753" stop-color="#00d27a"/><stop offset=".757" stop-color="#00d173"/><stop offset=".761" stop-color="#02cd65"/><stop offset=".764" stop-color="#03cc5e"/><stop offset=".772" stop-color="#0ec233"/><stop offset=".782" stop-color="#2ac608"/><stop offset=".786" stop-color="#2ac608"/><stop offset=".787" stop-color="#1cc11a"/><stop offset=".791" stop-color="#1ec218"/><stop offset=".793" stop-color="#14c128"/><stop offset=".795" stop-color="#2bc607"/><stop offset=".809" stop-color="#30c800"/><stop offset=".812" stop-color="#4cd000"/><stop offset=".822" stop-color="#45ce00"/><stop offset=".830" stop-color="#3acb00"/><stop offset=".832" stop-color="#49cf00"/><stop offset=".843" stop-color="#49cf00"/><stop offset=".845" stop-color="#68d800"/><stop offset=".912" stop-color="#68d800"/><stop offset=".914" stop-color="#a2e500"/><stop offset=".916" stop-color="#a2e500"/><stop offset=".918" stop-color="#d2ef00"/><stop offset=".932" stop-color="#d2ef00"/><stop offset=".934" stop-color="#ede700"/><stop offset=".936" stop-color="#f7cb00"/><stop offset=".999" stop-color="#f7cb00"/></linearGradient><linearGradient id="g26" gradientUnits="userSpaceOnUse" x1="130" x2="1170"><stop offset=".001" stop-color="#17d8f0"/><stop offset=".107" stop-color="#1ecff0"/><stop offset=".143" stop-color="#0ae6f0"/><stop offset=".199" stop-color="#2bbdf0"/><stop offset=".234" stop-color="#33a8f0"/><stop offset=".289" stop-color="#4d6ef0"/><stop offset=".326" stop-color="#682ff0"/><stop offset=".372" stop-color="#6831f0"/><stop offset=".397" stop-color="#6732f0"/><stop offset=".443" stop-color="#6634f0"/><stop offset=".491" stop-color="#643af0"/><stop offset=".551" stop-color="#4283f0"/><stop offset=".566" stop-color="#4977f0"/><stop offset=".589" stop-color="#5c4ef0"/><stop offset=".641" stop-color="#6043f0"/><stop offset=".664" stop-color="#6a2af0"/><stop offset=".678" stop-color="#7210f0"/><stop offset=".705" stop-color="#6d1ff0"/><stop offset=".716" stop-color="#6830f0"/><stop offset=".724" stop-color="#6141f0"/><stop offset=".726" stop-color="#6141f0"/><stop offset=".728" stop-color="#36a0f0"/><stop offset=".730" stop-color="#00f0f0"/><stop offset=".751" stop-color="#00f0f0"/><stop offset=".757" stop-color="#00e0b1"/><stop offset=".766" stop-color="#00d37d"/><stop offset=".772" stop-color="#02cd63"/><stop offset=".776" stop-color="#0ac33b"/><stop offset=".782" stop-color="#16c024"/><stop offset=".787" stop-color="#13c12a"/><stop offset=".789" stop-color="#14c128"/><stop offset=".793" stop-color="#2bc607"/><stop offset=".805" stop-color="#30c800"/><stop offset=".809" stop-color="#4cd000"/><stop offset=".818" stop-color="#45ce00"/><stop offset=".826" stop-color="#3acb00"/><stop offset=".832" stop-color="#49cf00"/><stop offset=".841" stop-color="#49cf00"/><stop offset=".843" stop-color="#68d800"/><stop offset=".909" stop-color="#68d800"/><stop offset=".912" stop-color="#d2ef00"/><stop offset=".928" stop-color="#d2ef00"/><stop offset=".930" stop-color="#ede700"/><stop offset=".932" stop-color="#f7cb00"/><stop offset=".999" stop-color="#f7cb00"/></linearGradient><linearGradient id="g27" gradientUnits="userSpaceOnUse" x1="130" x2="1170"><stop offset=".001" stop-color="#13dcf0"/><stop offset=".105" stop-color="#1ad4f0"/><stop offset=".143" stop-color="#02eef0"/><stop offset=".193" stop-color="#29c0f0"/><stop offset=".245" stop-color="#389cf0"/><stop offset=".289" stop-color="#4977f0"/><stop offset=".330" stop-color="#6830f0"/><stop offset=".368" stop-color="#6538f0"/><stop offset=".391" stop-color="#6634f0"/><stop offset=".441" stop-color="#6536f0"/><stop offset=".495" stop-color="#5f46f0"/><stop offset=".545" stop-color="#3f8af0"/><stop offset=".568" stop-color="#4284f0"/><stop offset=".588" stop-color="#565cf0"/><stop offset=".632" stop-color="#5b50f0"/><stop offset=".668" stop-color="#6b27f0"/><stop offset=".684" stop-color="#7016f0"/><stop offset=".716" stop-color="#6732f0"/><stop offset=".722" stop-color="#6141f0"/><stop offset=".730" stop-color="#5b50f0"/><stop offset=".732" stop-color="#00f0f0"/><stop offset=".755" stop-color="#00f0f0"/><stop offset=".761" stop-color="#00e8c5"/><stop offset=".772" stop-color="#00d68a"/><stop offset=".780" stop-color="#08c440"/><stop offset=".787" stop-color="#1ec218"/><stop offset=".789" stop-color="#2ac608"/><stop offset=".801" stop-color="#30c800"/><stop offset=".805" stop-color="#4cd000"/><stop offset=".814" stop-color="#45ce00"/><stop offset=".824" stop-color="#3acb00"/><stop offset=".826" stop-color="#49cf00"/><stop offset=".839" stop-color="#4cd000"/><stop offset=".841" stop-color="#68d800"/><stop offset=".905" stop-color="#68d800"/><stop offset=".909" stop-color="#d2ef00"/><stop offset=".926" stop-color="#d2ef00"/><stop offset=".928" stop-color="#f7cb00"/><stop offset=".999" stop-color="#f7cb00"/></linearGradient><linearGradient id="g28" gradientUnits="userSpaceOnUse" x1="130" x2="1170"><stop offset=".001" stop-color="#10e0f0"/><stop offset=".103" stop-color="#16d9f0"/><stop offset=".141" stop-color="#00f0f0"/><stop offset=".201" stop-color="#2bbdf0"/><stop offset=".291" stop-color="#457df0"/><stop offset=".336" stop-color="#6830f0"/><stop offset=".359" stop-color="#6141f0"/><stop offset=".399" stop-color="#643af0"/><stop offset=".443" stop-color="#643af0"/><stop offset=".495" stop-color="#5c4df0"/><stop offset=".543" stop-color="#3d90f0"/><stop offset=".572" stop-color="#4185f0"/><stop offset=".588" stop-color="#5067f0"/><stop offset=".618" stop-color="#5166f0"/><stop offset=".684" stop-color="#6e1ef0"/><stop offset=".716" stop-color="#6439f0"/><stop offset=".728" stop-color="#5b50f0"/><stop offset=".732" stop-color="#5b50f0"/><stop offset=".734" stop-color="#36a0f0"/><stop offset=".736" stop-color="#00f0f0"/><stop offset=".761" stop-color="#00f0f0"/><stop offset=".764" stop-color="#00eee0"/><stop offset=".774" stop-color="#00da96"/><stop offset=".776" stop-color="#00d37d"/><stop offset=".780" stop-color="#02ce66"/><stop offset=".786" stop-color="#13c12a"/><stop offset=".789" stop-color="#26c50d"/><stop offset=".797" stop-color="#30c800"/><stop offset=".801" stop-color="#4cd000"/><stop offset=".811" stop-color="#45ce00"/><stop offset=".820" stop-color="#3acb00"/><stop offset=".826" stop-color="#49cf00"/><stop offset=".836" stop-color="#4cd000"/><stop offset=".841" stop-color="#68d800"/><stop offset=".901" stop-color="#68d800"/><stop offset=".905" stop-color="#d2ef00"/><stop offset=".922" stop-color="#d2ef00"/><stop offset=".924" stop-color="#ede700"/><stop offset=".926" stop-color="#f7cb00"/><stop offset=".999" stop-color="#f7cb00"/></linearGradient><linearGradient id="g29" gradientUnits="userSpaceOnUse" x1="130" x2="1170"><stop offset=".001" stop-color="#0de3f0"/><stop offset=".105" stop-color="#12def0"/><stop offset=".136" stop-color="#00f0f0"/><stop offset=".157" stop-color="#0ae6f0"/><stop offset=".207" stop-color="#2db8f0"/><stop offset=".261" stop-color="#3999f0"/><stop offset=".293" stop-color="#4185f0"/><stop offset=".336" stop-color="#623ff0"/><stop offset=".372" stop-color="#6044f0"/><stop offset=".447" stop-color="#623ef0"/><stop offset=".497" stop-color="#5956f0"/><stop offset=".545" stop-color="#399af0"/><stop offset=".576" stop-color="#4382f0"/><stop offset=".593" stop-color="#4c6ff0"/><stop offset=".613" stop-color="#4381f0"/><stop offset=".647" stop-color="#5c4df0"/><stop offset=".684" stop-color="#6c24f0"/><stop offset=".713" stop-color="#6439f0"/><stop offset=".728" stop-color="#5b50f0"/><stop offset=".734" stop-color="#5b50f0"/><stop offset=".736" stop-color="#36a0f0"/><stop offset=".738" stop-color="#00f0f0"/><stop offset=".768" stop-color="#00f0f0"/><stop offset=".780" stop-color="#00d278"/><stop offset=".782" stop-color="#00d070"/><stop offset=".784" stop-color="#06c74b"/><stop offset=".791" stop-color="#27c50c"/><stop offset=".795" stop-color="#37ca00"/><stop offset=".797" stop-color="#4cd000"/><stop offset=".807" stop-color="#45ce00"/><stop offset=".816" stop-color="#3acb00"/><stop offset=".826" stop-color="#49cf00"/><stop offset=".834" stop-color="#4ed100"/><stop offset=".836" stop-color="#5fd500"/><stop offset=".845" stop-color="#68d800"/><stop offset=".897" stop-color="#68d800"/><stop offset=".901" stop-color="#d2ef00"/><stop offset=".920" stop-color="#d2ef00"/><stop offset=".922" stop-color="#f7cb00"/><stop offset=".999" stop-color="#f7cb00"/></linearGradient><linearGradient id="g30" gradientUnits="userSpaceOnUse" x1="130" x2="1170"><stop offset=".001" stop-color="#0ae6f0"/><stop offset=".064" stop-color="#10e0f0"/><stop offset=".113" stop-color="#09e7f0"/><stop offset=".136" stop-color="#00f0f0"/><stop offset=".157" stop-color="#07e9f0"/><stop offset=".205" stop-color="#2cb9f0"/><stop offset=".255" stop-color="#389bf0"/><stop offset=".286" stop-color="#389bf0"/><stop offset=".334" stop-color="#5c4ef0"/><stop offset=".445" stop-color="#6142f0"/><stop offset=".495" stop-color="#575af0"/><stop offset=".547" stop-color="#34a7f0"/><stop offset=".574" stop-color="#4088f0"/><stop offset=".593" stop-color="#4879f0"/><stop offset=".614" stop-color="#4088f0"/><stop offset=".649" stop-color="#5b50f0"/><stop offset=".680" stop-color="#6a2af0"/><stop offset=".705" stop-color="#6536f0"/><stop offset=".726" stop-color="#5a53f0"/><stop offset=".736" stop-color="#5a53f0"/><stop offset=".738" stop-color="#35a4f0"/><stop offset=".739" stop-color="#00f0f0"/><stop offset=".770" stop-color="#02eef0"/><stop offset=".772" stop-color="#00f0f0"/><stop offset=".778" stop-color="#00dda5"/><stop offset=".786" stop-color="#0ac43d"/><stop offset=".795" stop-color="#2ec702"/><stop offset=".797" stop-color="#43cd00"/><stop offset=".803" stop-color="#45ce00"/><stop offset=".812" stop-color="#3acb00"/><stop offset=".816" stop-color="#3dcc00"/><stop offset=".818" stop-color="#49cf00"/><stop offset=".830" stop-color="#4ed100"/><stop offset=".838" stop-color="#68d800"/><stop offset=".893" stop-color="#68d800"/><stop offset=".897" stop-color="#d2ef00"/><stop offset=".916" stop-color="#d2ef00"/><stop offset=".918" stop-color="#ede700"/><stop offset=".920" stop-color="#f7cb00"/><stop offset=".999" stop-color="#f7cb00"/></linearGradient><linearGradient id="g31" gradientUnits="userSpaceOnUse" x1="130" x2="1170"><stop offset=".001" stop-color="#07e9f0"/><stop offset=".039" stop-color="#07e9f0"/><stop offset=".107" stop-color="#0ae6f0"/><stop offset=".141" stop-color="#00f0ee"/><stop offset=".161" stop-color="#09e7f0"/><stop offset=".207" stop-color="#2eb6f0"/><stop offset=".249" stop-color="#389cf0"/><stop offset=".287" stop-color="#32acf0"/><stop offset=".326" stop-color="#5264f0"/><stop offset=".353" stop-color="#5956f0"/><stop offset=".443" stop-color="#6044f0"/><stop offset=".495" stop-color="#5461f0"/><stop offset=".518" stop-color="#4088f0"/><stop offset=".534" stop-color="#3b95f0"/><stop offset=".541" stop-color="#30b0f0"/><stop offset=".545" stop-color="#2bbdf0"/><stop offset=".549" stop-color="#30b1f0"/><stop offset=".562" stop-color="#3c92f0"/><stop offset=".593" stop-color="#447ff0"/><stop offset=".616" stop-color="#3f8af0"/><stop offset=".678" stop-color="#692df0"/><stop offset=".699" stop-color="#6536f0"/><stop offset=".724" stop-color="#575bf0"/><stop offset=".738" stop-color="#575bf0"/><stop offset=".739" stop-color="#33aaf0"/><stop offset=".741" stop-color="#00f0f0"/><stop offset=".762" stop-color="#0ae6f0"/><stop offset=".766" stop-color="#13dcf0"/><stop offset=".774" stop-color="#00f0f0"/><stop offset=".776" stop-color="#00eee0"/><stop offset=".780" stop-color="#00db9c"/><stop offset=".782" stop-color="#00d070"/><stop offset=".787" stop-color="#0dc336"/><stop offset=".797" stop-color="#2fc802"/><stop offset=".814" stop-color="#3fcc00"/><stop offset=".818" stop-color="#49cf00"/><stop offset=".830" stop-color="#59d400"/><stop offset=".841" stop-color="#68d800"/><stop offset=".887" stop-color="#68d800"/><stop offset=".889" stop-color="#a2e500"/><stop offset=".891" stop-color="#a2e500"/><stop offset=".893" stop-color="#d2ef00"/><stop offset=".912" stop-color="#d2ef00"/><stop offset=".914" stop-color="#ede700"/><stop offset=".916" stop-color="#f7cb00"/><stop offset=".999" stop-color="#f7cb00"/></linearGradient><linearGradient id="g32" gradientUnits="userSpaceOnUse" x1="130" x2="1170"><stop offset=".001" stop-color="#04ecf0"/><stop offset=".047" stop-color="#06eaf0"/><stop offset=".111" stop-color="#06eaf0"/><stop offset=".159" stop-color="#04ecf0"/><stop offset=".205" stop-color="#2db7f0"/><stop offset=".245" stop-color="#399af0"/><stop offset=".276" stop-color="#2eb6f0"/><stop offset=".289" stop-color="#29c0f0"/><stop offset=".312" stop-color="#4186f0"/><stop offset=".341" stop-color="#5362f0"/><stop offset=".439" stop-color="#5f46f0"/><stop offset=".493" stop-color="#5264f0"/><stop offset=".516" stop-color="#4088f0"/><stop offset=".536" stop-color="#3999f0"/><stop offset=".541" stop-color="#2fb3f0"/><stop offset=".543" stop-color="#28c4f0"/><stop offset=".547" stop-color="#28c4f0"/><stop offset=".553" stop-color="#35a2f0"/><stop offset=".574" stop-color="#4089f0"/><stop offset=".595" stop-color="#4186f0"/><stop offset=".616" stop-color="#3d8ff0"/><stop offset=".670" stop-color="#6537f0"/><stop offset=".688" stop-color="#682ff0"/><stop offset=".724" stop-color="#5068f0"/><stop offset=".734" stop-color="#5068f0"/><stop offset=".736" stop-color="#4976f0"/><stop offset=".739" stop-color="#4976f0"/><stop offset=".741" stop-color="#28c4f0"/><stop offset=".743" stop-color="#01eff0"/><stop offset=".759" stop-color="#08e8f0"/><stop offset=".764" stop-color="#18d7f0"/><stop offset=".776" stop-color="#00f0f0"/><stop offset=".778" stop-color="#00eedd"/><stop offset=".782" stop-color="#00d47e"/><stop offset=".784" stop-color="#00d070"/><stop offset=".787" stop-color="#0bc33a"/><stop offset=".795" stop-color="#28c50b"/><stop offset=".807" stop-color="#3ccb00"/><stop offset=".826" stop-color="#53d200"/><stop offset=".830" stop-color="#5fd500"/><stop offset=".845" stop-color="#68d800"/><stop offset=".884" stop-color="#68d800"/><stop offset=".887" stop-color="#d2ef00"/><stop offset=".911" stop-color="#d2ef00"/><stop offset=".912" stop-color="#ede700"/><stop offset=".914" stop-color="#f7cb00"/><stop offset=".999" stop-color="#f7cb00"/></linearGradient><linearGradient id="g33" gradientUnits="userSpaceOnUse" x1="130" x2="1170"><stop offset=".001" stop-color="#01eff0"/><stop offset=".109" stop-color="#04ecf0"/><stop offset=".161" stop-color="#04ecf0"/><stop offset=".205" stop-color="#2eb6f0"/><stop offset=".243" stop-color="#3a98f0"/><stop offset=".270" stop-color="#2fb3f0"/><stop offset=".287" stop-color="#16d9f0"/><stop offset=".297" stop-color="#2abff0"/><stop offset=".311" stop-color="#3d90f0"/><stop offset=".345" stop-color="#4f69f0"/><stop offset=".380" stop-color="#555ff0"/><stop offset=".436" stop-color="#5e49f0"/><stop offset=".489" stop-color="#5165f0"/><stop offset=".514" stop-color="#4088f0"/><stop offset=".537" stop-color="#3a98f0"/><stop offset=".545" stop-color="#33aaf0"/><stop offset=".570" stop-color="#3f8af0"/><stop offset=".597" stop-color="#4089f0"/><stop offset=".614" stop-color="#389cf0"/><stop offset=".630" stop-color="#477bf0"/><stop offset=".666" stop-color="#5f47f0"/><stop offset=".678" stop-color="#6830f0"/><stop offset=".693" stop-color="#643af0"/><stop offset=".718" stop-color="#4b73f0"/><stop offset=".728" stop-color="#457df0"/><stop offset=".732" stop-color="#4088f0"/><stop offset=".743" stop-color="#4088f0"/><stop offset=".745" stop-color="#06eaf0"/><stop offset=".768" stop-color="#0be5f0"/><stop offset=".776" stop-color="#00f0f0"/><stop offset=".786" stop-color="#06c74d"/><stop offset=".787" stop-color="#0dc336"/><stop offset=".799" stop-color="#2ec702"/><stop offset=".832" stop-color="#62d600"/><stop offset=".880" stop-color="#68d800"/><stop offset=".884" stop-color="#d2ef00"/><stop offset=".907" stop-color="#d2ef00"/><stop offset=".909" stop-color="#ede700"/><stop offset=".911" stop-color="#f7cb00"/><stop offset=".999" stop-color="#f7cb00"/></linearGradient><linearGradient id="g34" gradientUnits="userSpaceOnUse" x1="130" x2="1170"><stop offset=".001" stop-color="#00f0f0"/><stop offset=".036" stop-color="#00efea"/><stop offset=".114" stop-color="#01eff0"/><stop offset=".163" stop-color="#06eaf0"/><stop offset=".207" stop-color="#2fb2f0"/><stop offset=".241" stop-color="#3c93f0"/><stop offset=".268" stop-color="#2fb2f0"/><stop offset=".280" stop-color="#19d6f0"/><stop offset=".286" stop-color="#04ecf0"/><stop offset=".293" stop-color="#07e9f0"/><stop offset=".299" stop-color="#28c3f0"/><stop offset=".311" stop-color="#3999f0"/><stop offset=".349" stop-color="#4c71f0"/><stop offset=".374" stop-color="#4c6ff0"/><stop offset=".412" stop-color="#5c4ff0"/><stop offset=".459" stop-color="#5a53f0"/><stop offset=".520" stop-color="#4088f0"/><stop offset=".561" stop-color="#3d8ff0"/><stop offset=".593" stop-color="#4088f0"/><stop offset=".609" stop-color="#36a0f0"/><stop offset=".614" stop-color="#30b1f0"/><stop offset=".616" stop-color="#30b0f0"/><stop offset=".622" stop-color="#4088f0"/><stop offset=".661" stop-color="#575af0"/><stop offset=".682" stop-color="#6732f0"/><stop offset=".697" stop-color="#5d4af0"/><stop offset=".713" stop-color="#467cf0"/><stop offset=".734" stop-color="#4088f0"/><stop offset=".743" stop-color="#4088f0"/><stop offset=".745" stop-color="#29c0f0"/><stop offset=".747" stop-color="#07e9f0"/><stop offset=".770" stop-color="#05ebf0"/><stop offset=".776" stop-color="#00f0f0"/><stop offset=".782" stop-color="#00d070"/><stop offset=".784" stop-color="#02ce66"/><stop offset=".786" stop-color="#09c43e"/><stop offset=".787" stop-color="#14c128"/><stop offset=".791" stop-color="#14c128"/><stop offset=".799" stop-color="#2fc801"/><stop offset=".824" stop-color="#5fd500"/><stop offset=".855" stop-color="#68d800"/><stop offset=".876" stop-color="#68d800"/><stop offset=".880" stop-color="#d2ef00"/><stop offset=".905" stop-color="#d2ef00"/><stop offset=".907" stop-color="#ede700"/><stop offset=".909" stop-color="#f7cb00"/><stop offset=".999" stop-color="#f7cb00"/></linearGradient><linearGradient id="g35" gradientUnits="userSpaceOnUse" x1="130" x2="1170"><stop offset=".001" stop-color="#00f0ed"/><stop offset=".014" stop-color="#00efeb"/><stop offset=".032" stop-color="#00eee0"/><stop offset=".049" stop-color="#01eff0"/><stop offset=".155" stop-color="#00f0ee"/><stop offset=".209" stop-color="#31adf0"/><stop offset=".241" stop-color="#3f8af0"/><stop offset=".272" stop-color="#2abef0"/><stop offset=".282" stop-color="#0ce4f0"/><stop offset=".284" stop-color="#00f0f0"/><stop offset=".293" stop-color="#00f0f0"/><stop offset=".299" stop-color="#26c6f0"/><stop offset=".311" stop-color="#379ef0"/><stop offset=".349" stop-color="#4879f0"/><stop offset=".372" stop-color="#457ef0"/><stop offset=".401" stop-color="#5859f0"/><stop offset=".445" stop-color="#5b50f0"/><stop offset=".522" stop-color="#4088f0"/><stop offset=".578" stop-color="#4186f0"/><stop offset=".599" stop-color="#3f8cf0"/><stop offset=".611" stop-color="#32abf0"/><stop offset=".613" stop-color="#2db8f0"/><stop offset=".616" stop-color="#2db8f0"/><stop offset=".622" stop-color="#4088f0"/><stop offset=".657" stop-color="#4e6cf0"/><stop offset=".682" stop-color="#643bf0"/><stop offset=".693" stop-color="#6142f0"/><stop offset=".703" stop-color="#4c6ff0"/><stop offset=".709" stop-color="#4088f0"/><stop offset=".745" stop-color="#4088f0"/><stop offset=".747" stop-color="#0ae6f0"/><stop offset=".768" stop-color="#03edf0"/><stop offset=".774" stop-color="#00f0f0"/><stop offset=".776" stop-color="#00eede"/><stop offset=".782" stop-color="#00d070"/><stop offset=".786" stop-color="#0bc33a"/><stop offset=".787" stop-color="#13c12a"/><stop offset=".791" stop-color="#17c022"/><stop offset=".797" stop-color="#2fc802"/><stop offset=".809" stop-color="#4bd000"/><stop offset=".828" stop-color="#62d600"/><stop offset=".872" stop-color="#68d800"/><stop offset=".876" stop-color="#d2ef00"/><stop offset=".901" stop-color="#d2ef00"/><stop offset=".903" stop-color="#ede700"/><stop offset=".905" stop-color="#f7cb00"/><stop offset=".997" stop-color="#f7cb00"/><stop offset=".999" stop-color="#f1de00"/></linearGradient><linearGradient id="g36" gradientUnits="userSpaceOnUse" x1="130" x2="1170"><stop offset=".001" stop-color="#00efe6"/><stop offset=".011" stop-color="#00f0f0"/><stop offset=".024" stop-color="#00edd8"/><stop offset=".039" stop-color="#00eede"/><stop offset=".049" stop-color="#00f0f0"/><stop offset=".072" stop-color="#00efea"/><stop offset=".109" stop-color="#00f0ed"/><stop offset=".147" stop-color="#00efeb"/><stop offset=".168" stop-color="#0ce4f0"/><stop offset=".211" stop-color="#33a8f0"/><stop offset=".237" stop-color="#4088f0"/><stop offset=".249" stop-color="#3c93f0"/><stop offset=".276" stop-color="#25c8f0"/><stop offset=".286" stop-color="#00f0f0"/><stop offset=".291" stop-color="#00f0f0"/><stop offset=".297" stop-color="#27c5f0"/><stop offset=".312" stop-color="#379ef0"/><stop offset=".355" stop-color="#447ff0"/><stop offset=".374" stop-color="#4185f0"/><stop offset=".395" stop-color="#5363f0"/><stop offset=".438" stop-color="#5b50f0"/><stop offset=".491" stop-color="#4977f0"/><stop offset=".526" stop-color="#4088f0"/><stop offset=".574" stop-color="#4186f0"/><stop offset=".589" stop-color="#4381f0"/><stop offset=".609" stop-color="#389cf0"/><stop offset=".616" stop-color="#36a1f0"/><stop offset=".622" stop-color="#4088f0"/><stop offset=".653" stop-color="#457ef0"/><stop offset=".686" stop-color="#633ef0"/><stop offset=".697" stop-color="#5f47f0"/><stop offset=".699" stop-color="#5956f0"/><stop offset=".701" stop-color="#467cf0"/><stop offset=".709" stop-color="#4087f0"/><stop offset=".745" stop-color="#4088f0"/><stop offset=".747" stop-color="#0ae6f0"/><stop offset=".761" stop-color="#05ebf0"/><stop offset=".766" stop-color="#00f0f0"/><stop offset=".768" stop-color="#00edd8"/><stop offset=".770" stop-color="#00edd8"/><stop offset=".776" stop-color="#00e1b2"/><stop offset=".782" stop-color="#00d070"/><stop offset=".786" stop-color="#0bc33a"/><stop offset=".793" stop-color="#2ac608"/><stop offset=".799" stop-color="#42cd00"/><stop offset=".803" stop-color="#51d100"/><stop offset=".818" stop-color="#5bd400"/><stop offset=".845" stop-color="#68d800"/><stop offset=".866" stop-color="#68d800"/><stop offset=".868" stop-color="#a1e500"/><stop offset=".870" stop-color="#a1e500"/><stop offset=".872" stop-color="#d2ef00"/><stop offset=".899" stop-color="#d2ef00"/><stop offset=".901" stop-color="#f7cb00"/><stop offset=".993" stop-color="#f7cb00"/><stop offset=".997" stop-color="#e8f400"/><stop offset=".999" stop-color="#e8f400"/></linearGradient><linearGradient id="g37" gradientUnits="userSpaceOnUse" x1="130" x2="1170"><stop offset=".001" stop-color="#00edda"/><stop offset=".009" stop-color="#00efe6"/><stop offset=".024" stop-color="#00ebce"/><stop offset=".043" stop-color="#00edd8"/><stop offset=".057" stop-color="#00eede"/><stop offset=".078" stop-color="#00efeb"/><stop offset=".107" stop-color="#00efea"/><stop offset=".139" stop-color="#00efe5"/><stop offset=".164" stop-color="#08e8f0"/><stop offset=".209" stop-color="#33a8f0"/><stop offset=".237" stop-color="#4088f0"/><stop offset=".247" stop-color="#3e8ef0"/><stop offset=".282" stop-color="#1ecff0"/><stop offset=".287" stop-color="#1dd1f0"/><stop offset=".289" stop-color="#28c4f0"/><stop offset=".291" stop-color="#36a0f0"/><stop offset=".295" stop-color="#36a0f0"/><stop offset=".299" stop-color="#31adf0"/><stop offset=".353" stop-color="#4283f0"/><stop offset=".376" stop-color="#4283f0"/><stop offset=".411" stop-color="#575af0"/><stop offset=".447" stop-color="#5955f0"/><stop offset=".514" stop-color="#4088f0"/><stop offset=".570" stop-color="#4284f0"/><stop offset=".582" stop-color="#4977f0"/><stop offset=".614" stop-color="#3a98f0"/><stop offset=".624" stop-color="#4088f0"/><stop offset=".657" stop-color="#4185f0"/><stop offset=".689" stop-color="#6439f0"/><stop offset=".699" stop-color="#6830f0"/><stop offset=".701" stop-color="#5264f0"/><stop offset=".703" stop-color="#477af0"/><stop offset=".713" stop-color="#4087f0"/><stop offset=".745" stop-color="#4088f0"/><stop offset=".747" stop-color="#0ae6f0"/><stop offset=".759" stop-color="#00f0f0"/><stop offset=".761" stop-color="#00edd8"/><stop offset=".762" stop-color="#00edd8"/><stop offset=".764" stop-color="#00e8c6"/><stop offset=".770" stop-color="#00e8c6"/><stop offset=".778" stop-color="#00d688"/><stop offset=".780" stop-color="#00d070"/><stop offset=".782" stop-color="#02ce66"/><stop offset=".784" stop-color="#07c545"/><stop offset=".791" stop-color="#27c50c"/><stop offset=".797" stop-color="#40cd00"/><stop offset=".801" stop-color="#55d300"/><stop offset=".814" stop-color="#53d200"/><stop offset=".832" stop-color="#69d800"/><stop offset=".863" stop-color="#69d800"/><stop offset=".866" stop-color="#cfef00"/><stop offset=".895" stop-color="#d2ef00"/><stop offset=".897" stop-color="#ede700"/><stop offset=".899" stop-color="#f7cb00"/><stop offset=".988" stop-color="#f7cb00"/><stop offset=".991" stop-color="#e8f400"/><stop offset=".999" stop-color="#e8f400"/></linearGradient><linearGradient id="g38" gradientUnits="userSpaceOnUse" x1="130" x2="1170"><stop offset=".001" stop-color="#00ebcd"/><stop offset=".041" stop-color="#00eaca"/><stop offset=".076" stop-color="#00eee2"/><stop offset=".087" stop-color="#00f0f0"/><stop offset=".105" stop-color="#00efe6"/><stop offset=".132" stop-color="#00eedd"/><stop offset=".164" stop-color="#07e9f0"/><stop offset=".193" stop-color="#2abff0"/><stop offset=".205" stop-color="#34a6f0"/><stop offset=".234" stop-color="#3e8df0"/><stop offset=".245" stop-color="#3e8df0"/><stop offset=".284" stop-color="#29c2f0"/><stop offset=".289" stop-color="#30b1f0"/><stop offset=".293" stop-color="#35a2f0"/><stop offset=".309" stop-color="#34a6f0"/><stop offset=".355" stop-color="#4087f0"/><stop offset=".378" stop-color="#4382f0"/><stop offset=".424" stop-color="#5a54f0"/><stop offset=".457" stop-color="#555ef0"/><stop offset=".509" stop-color="#4089f0"/><stop offset=".566" stop-color="#457ef0"/><stop offset=".578" stop-color="#5067f0"/><stop offset=".614" stop-color="#3c93f0"/><stop offset=".634" stop-color="#4089f0"/><stop offset=".655" stop-color="#3f8cf0"/><stop offset=".670" stop-color="#4e6cf0"/><stop offset=".691" stop-color="#6732f0"/><stop offset=".701" stop-color="#692df0"/><stop offset=".703" stop-color="#5b50f0"/><stop offset=".705" stop-color="#5a53f0"/><stop offset=".707" stop-color="#4284f0"/><stop offset=".745" stop-color="#4088f0"/><stop offset=".747" stop-color="#05ebf0"/><stop offset=".751" stop-color="#00f0f0"/><stop offset=".753" stop-color="#00edd8"/><stop offset=".755" stop-color="#00edd8"/><stop offset=".757" stop-color="#00e8c6"/><stop offset=".766" stop-color="#00e8c6"/><stop offset=".780" stop-color="#00d070"/><stop offset=".782" stop-color="#06c64a"/><stop offset=".789" stop-color="#27c50c"/><stop offset=".795" stop-color="#41cd00"/><stop offset=".803" stop-color="#59d400"/><stop offset=".814" stop-color="#4cd000"/><stop offset=".822" stop-color="#68d800"/><stop offset=".841" stop-color="#6bd900"/><stop offset=".857" stop-color="#6bd900"/><stop offset=".861" stop-color="#cbee00"/><stop offset=".893" stop-color="#d2ef00"/><stop offset=".895" stop-color="#f7cb00"/><stop offset=".982" stop-color="#f7cb00"/><stop offset=".984" stop-color="#f1de00"/><stop offset=".986" stop-color="#f1de00"/><stop offset=".988" stop-color="#e8f400"/><stop offset=".999" stop-color="#e8f400"/></linearGradient><linearGradient id="g39" gradientUnits="userSpaceOnUse" x1="130" x2="1170"><stop offset=".001" stop-color="#00e6c1"/><stop offset=".043" stop-color="#00e6c1"/><stop offset=".076" stop-color="#00edd8"/><stop offset=".087" stop-color="#00f0f0"/><stop offset=".099" stop-color="#00efea"/><stop offset=".120" stop-color="#00edd6"/><stop offset=".147" stop-color="#00efe6"/><stop offset=".163" stop-color="#05ebf0"/><stop offset=".189" stop-color="#24c9f0"/><stop offset=".203" stop-color="#36a0f0"/><stop offset=".228" stop-color="#3a96f0"/><stop offset=".245" stop-color="#3d90f0"/><stop offset=".284" stop-color="#2eb4f0"/><stop offset=".303" stop-color="#33a8f0"/><stop offset=".359" stop-color="#4088f0"/><stop offset=".382" stop-color="#447ff0"/><stop offset=".432" stop-color="#5a52f0"/><stop offset=".464" stop-color="#4f69f0"/><stop offset=".507" stop-color="#3e8df0"/><stop offset=".564" stop-color="#4977f0"/><stop offset=".576" stop-color="#5c4ff0"/><stop offset=".580" stop-color="#5859f0"/><stop offset=".593" stop-color="#457df0"/><stop offset=".618" stop-color="#3c93f0"/><stop offset=".657" stop-color="#3d8ff0"/><stop offset=".668" stop-color="#457ef0"/><stop offset=".689" stop-color="#6830f0"/><stop offset=".705" stop-color="#6b26f0"/><stop offset=".713" stop-color="#6f1bf0"/><stop offset=".714" stop-color="#5c4ef0"/><stop offset=".722" stop-color="#5d4cf0"/><stop offset=".724" stop-color="#4088f0"/><stop offset=".732" stop-color="#4088f0"/><stop offset=".734" stop-color="#5c4ef0"/><stop offset=".739" stop-color="#5c4ef0"/><stop offset=".741" stop-color="#6f1bf0"/><stop offset=".747" stop-color="#6830f0"/><stop offset=".749" stop-color="#399af0"/><stop offset=".751" stop-color="#00e8c6"/><stop offset=".762" stop-color="#00e8c6"/><stop offset=".774" stop-color="#00d27a"/><stop offset=".778" stop-color="#00d070"/><stop offset=".782" stop-color="#0dc336"/><stop offset=".789" stop-color="#2ec702"/><stop offset=".799" stop-color="#5fd500"/><stop offset=".807" stop-color="#65d700"/><stop offset=".812" stop-color="#5ad400"/><stop offset=".824" stop-color="#75db00"/><stop offset=".849" stop-color="#70da00"/><stop offset=".853" stop-color="#9ce400"/><stop offset=".855" stop-color="#c4ec00"/><stop offset=".874" stop-color="#d2ef00"/><stop offset=".889" stop-color="#d2ef00"/><stop offset=".891" stop-color="#ede700"/><stop offset=".893" stop-color="#f7cb00"/><stop offset=".978" stop-color="#f7cb00"/><stop offset=".982" stop-color="#e8f400"/><stop offset=".999" stop-color="#eaee00"/></linearGradient><linearGradient id="g40" gradientUnits="userSpaceOnUse" x1="130" x2="1170"><stop offset=".001" stop-color="#00e2b5"/><stop offset=".047" stop-color="#00e4ba"/><stop offset=".080" stop-color="#00edd6"/><stop offset=".087" stop-color="#00f0f0"/><stop offset=".095" stop-color="#00f0f0"/><stop offset=".105" stop-color="#00edd5"/><stop offset=".136" stop-color="#00edd5"/><stop offset=".157" stop-color="#01eff0"/><stop offset=".186" stop-color="#1cd2f0"/><stop offset=".199" stop-color="#31adf0"/><stop offset=".207" stop-color="#35a2f0"/><stop offset=".245" stop-color="#3b94f0"/><stop offset=".287" stop-color="#32acf0"/><stop offset=".334" stop-color="#399af0"/><stop offset=".361" stop-color="#4088f0"/><stop offset=".386" stop-color="#457ef0"/><stop offset=".434" stop-color="#5b51f0"/><stop offset=".470" stop-color="#4a74f0"/><stop offset=".509" stop-color="#3c92f0"/><stop offset=".564" stop-color="#4c70f0"/><stop offset=".572" stop-color="#5955f0"/><stop offset=".574" stop-color="#5e48f0"/><stop offset=".578" stop-color="#5e48f0"/><stop offset=".588" stop-color="#4b72f0"/><stop offset=".620" stop-color="#3a98f0"/><stop offset=".655" stop-color="#3a98f0"/><stop offset=".672" stop-color="#457df0"/><stop offset=".688" stop-color="#6830f0"/><stop offset=".711" stop-color="#6f1bf0"/><stop offset=".728" stop-color="#7112f0"/><stop offset=".738" stop-color="#7015f0"/><stop offset=".749" stop-color="#6830f0"/><stop offset=".753" stop-color="#6634f0"/><stop offset=".755" stop-color="#389cf0"/><stop offset=".757" stop-color="#00e8c6"/><stop offset=".759" stop-color="#00e8c6"/><stop offset=".770" stop-color="#00d27a"/><stop offset=".774" stop-color="#00d070"/><stop offset=".778" stop-color="#0dc336"/><stop offset=".782" stop-color="#18c020"/><stop offset=".784" stop-color="#18c020"/><stop offset=".787" stop-color="#2ac608"/><stop offset=".789" stop-color="#4ed100"/><stop offset=".799" stop-color="#73db00"/><stop offset=".816" stop-color="#87df00"/><stop offset=".843" stop-color="#86df00"/><stop offset=".851" stop-color="#c4ec00"/><stop offset=".876" stop-color="#d2ef00"/><stop offset=".886" stop-color="#d2ef00"/><stop offset=".887" stop-color="#ede700"/><stop offset=".889" stop-color="#f7cb00"/><stop offset=".972" stop-color="#f7cb00"/><stop offset=".976" stop-color="#e8f400"/><stop offset=".995" stop-color="#eaee00"/><stop offset=".999" stop-color="#ede700"/></linearGradient><linearGradient id="g41" gradientUnits="userSpaceOnUse" x1="130" x2="1170"><stop offset=".001" stop-color="#00deaa"/><stop offset=".045" stop-color="#00dfae"/><stop offset=".082" stop-color="#00eccf"/><stop offset=".087" stop-color="#00efe5"/><stop offset=".109" stop-color="#00eaca"/><stop offset=".143" stop-color="#00edd6"/><stop offset=".157" stop-color="#01eff0"/><stop offset=".182" stop-color="#14dbf0"/><stop offset=".209" stop-color="#34a5f0"/><stop offset=".243" stop-color="#3a96f0"/><stop offset=".311" stop-color="#32abf0"/><stop offset=".368" stop-color="#4088f0"/><stop offset=".389" stop-color="#457df0"/><stop offset=".434" stop-color="#5c4ef0"/><stop offset=".468" stop-color="#4976f0"/><stop offset=".503" stop-color="#3a96f0"/><stop offset=".561" stop-color="#4b73f0"/><stop offset=".576" stop-color="#5857f0"/><stop offset=".597" stop-color="#4382f0"/><stop offset=".626" stop-color="#36a1f0"/><stop offset=".655" stop-color="#379ff0"/><stop offset=".674" stop-color="#4284f0"/><stop offset=".688" stop-color="#6634f0"/><stop offset=".720" stop-color="#7210f0"/><stop offset=".736" stop-color="#6f1bf0"/><stop offset=".747" stop-color="#6830f0"/><stop offset=".759" stop-color="#6634f0"/><stop offset=".761" stop-color="#32abf0"/><stop offset=".762" stop-color="#00d992"/><stop offset=".768" stop-color="#00d175"/><stop offset=".770" stop-color="#00d070"/><stop offset=".774" stop-color="#0dc336"/><stop offset=".778" stop-color="#18c020"/><stop offset=".780" stop-color="#18c020"/><stop offset=".782" stop-color="#43cd00"/><stop offset=".784" stop-color="#51d100"/><stop offset=".786" stop-color="#75db00"/><stop offset=".814" stop-color="#92e100"/><stop offset=".836" stop-color="#91e100"/><stop offset=".847" stop-color="#b6e900"/><stop offset=".849" stop-color="#c4ec00"/><stop offset=".874" stop-color="#d2ef00"/><stop offset=".884" stop-color="#d2ef00"/><stop offset=".886" stop-color="#ede700"/><stop offset=".887" stop-color="#f7cb00"/><stop offset=".966" stop-color="#f7cb00"/><stop offset=".968" stop-color="#f1de00"/><stop offset=".970" stop-color="#f1de00"/><stop offset=".972" stop-color="#e8f400"/><stop offset=".991" stop-color="#eaee00"/><stop offset=".999" stop-color="#ede700"/></linearGradient><linearGradient id="g42" gradientUnits="userSpaceOnUse" x1="130" x2="1170"><stop offset=".001" stop-color="#00db9e"/><stop offset=".049" stop-color="#00dea7"/><stop offset=".091" stop-color="#00e9c7"/><stop offset=".132" stop-color="#00e9c9"/><stop offset=".151" stop-color="#00eddb"/><stop offset=".159" stop-color="#00f0ed"/><stop offset=".180" stop-color="#0ee2f0"/><stop offset=".209" stop-color="#34a6f0"/><stop offset=".241" stop-color="#3a96f0"/><stop offset=".276" stop-color="#389bf0"/><stop offset=".284" stop-color="#379ef0"/><stop offset=".305" stop-color="#31aef0"/><stop offset=".345" stop-color="#3999f0"/><stop offset=".364" stop-color="#4088f0"/><stop offset=".389" stop-color="#4480f0"/><stop offset=".428" stop-color="#5c4ef0"/><stop offset=".436" stop-color="#5c4df0"/><stop offset=".463" stop-color="#4c70f0"/><stop offset=".495" stop-color="#399af0"/><stop offset=".520" stop-color="#3a96f0"/><stop offset=".578" stop-color="#5068f0"/><stop offset=".624" stop-color="#33a8f0"/><stop offset=".651" stop-color="#32abf0"/><stop offset=".678" stop-color="#4382f0"/><stop offset=".689" stop-color="#6634f0"/><stop offset=".714" stop-color="#7210f0"/><stop offset=".734" stop-color="#6f1bf0"/><stop offset=".745" stop-color="#6830f0"/><stop offset=".764" stop-color="#6536f0"/><stop offset=".766" stop-color="#25c8f0"/><stop offset=".768" stop-color="#06c84e"/><stop offset=".770" stop-color="#0dc336"/><stop offset=".774" stop-color="#18c020"/><stop offset=".776" stop-color="#47cf00"/><stop offset=".778" stop-color="#47cf00"/><stop offset=".780" stop-color="#86df00"/><stop offset=".799" stop-color="#90e100"/><stop offset=".811" stop-color="#a2e500"/><stop offset=".830" stop-color="#a7e600"/><stop offset=".839" stop-color="#baea00"/><stop offset=".864" stop-color="#d2ef00"/><stop offset=".880" stop-color="#d2ef00"/><stop offset=".882" stop-color="#ede700"/><stop offset=".884" stop-color="#f7cb00"/><stop offset=".963" stop-color="#f7cb00"/><stop offset=".966" stop-color="#e8f400"/><stop offset=".988" stop-color="#eaee00"/><stop offset=".999" stop-color="#ede700"/></linearGradient><linearGradient id="g43" gradientUnits="userSpaceOnUse" x1="130" x2="1170"><stop offset=".001" stop-color="#00d891"/><stop offset=".047" stop-color="#00db9d"/><stop offset=".091" stop-color="#00e3b9"/><stop offset=".113" stop-color="#00e4bb"/><stop offset=".157" stop-color="#00edd5"/><stop offset=".174" stop-color="#02eef0"/><stop offset=".205" stop-color="#31aef0"/><stop offset=".216" stop-color="#379ff0"/><stop offset=".276" stop-color="#3999f0"/><stop offset=".282" stop-color="#3b94f0"/><stop offset=".295" stop-color="#31aef0"/><stop offset=".334" stop-color="#33a8f0"/><stop offset=".364" stop-color="#4088f0"/><stop offset=".389" stop-color="#4283f0"/><stop offset=".428" stop-color="#5a52f0"/><stop offset=".436" stop-color="#5b50f0"/><stop offset=".455" stop-color="#5460f0"/><stop offset=".480" stop-color="#3c92f0"/><stop offset=".505" stop-color="#34a5f0"/><stop offset=".532" stop-color="#3e8df0"/><stop offset=".562" stop-color="#4c6ff0"/><stop offset=".589" stop-color="#457ef0"/><stop offset=".605" stop-color="#3c93f0"/><stop offset=".628" stop-color="#2fb3f0"/><stop offset=".653" stop-color="#2fb3f0"/><stop offset=".680" stop-color="#4283f0"/><stop offset=".689" stop-color="#6240f0"/><stop offset=".695" stop-color="#692ef0"/><stop offset=".711" stop-color="#740eef"/><stop offset=".736" stop-color="#6d1ff0"/><stop offset=".743" stop-color="#6830f0"/><stop offset=".766" stop-color="#6536f0"/><stop offset=".768" stop-color="#623ef0"/><stop offset=".770" stop-color="#05ebf0"/><stop offset=".772" stop-color="#89df00"/><stop offset=".793" stop-color="#8fe100"/><stop offset=".820" stop-color="#b1e800"/><stop offset=".866" stop-color="#d2ef00"/><stop offset=".878" stop-color="#d2ef00"/><stop offset=".880" stop-color="#f7cb00"/><stop offset=".957" stop-color="#f7cb00"/><stop offset=".961" stop-color="#e8f400"/><stop offset=".984" stop-color="#eaee00"/><stop offset=".999" stop-color="#ede700"/></linearGradient><linearGradient id="g44" gradientUnits="userSpaceOnUse" x1="130" x2="1170"><stop offset=".001" stop-color="#00d480"/><stop offset=".039" stop-color="#00d688"/><stop offset=".084" stop-color="#00dfad"/><stop offset=".101" stop-color="#00deaa"/><stop offset=".147" stop-color="#00e7c2"/><stop offset=".157" stop-color="#00e7c3"/><stop offset=".174" stop-color="#00f0ee"/><stop offset=".201" stop-color="#2bbdf0"/><stop offset=".211" stop-color="#3a98f0"/><stop offset=".234" stop-color="#34a5f0"/><stop offset=".282" stop-color="#379ff0"/><stop offset=".303" stop-color="#2eb6f0"/><stop offset=".343" stop-color="#34a6f0"/><stop offset=".366" stop-color="#4088f0"/><stop offset=".391" stop-color="#4382f0"/><stop offset=".436" stop-color="#5858f0"/><stop offset=".453" stop-color="#5a53f0"/><stop offset=".466" stop-color="#4382f0"/><stop offset=".495" stop-color="#32acf0"/><stop offset=".518" stop-color="#34a5f0"/><stop offset=".559" stop-color="#4f6af0"/><stop offset=".601" stop-color="#3d90f0"/><stop offset=".622" stop-color="#2db8f0"/><stop offset=".649" stop-color="#29c2f0"/><stop offset=".674" stop-color="#3b94f0"/><stop offset=".680" stop-color="#4088f0"/><stop offset=".691" stop-color="#6142f0"/><stop offset=".697" stop-color="#682ff0"/><stop offset=".711" stop-color="#750eef"/><stop offset=".734" stop-color="#6d1ff0"/><stop offset=".741" stop-color="#6830f0"/><stop offset=".772" stop-color="#623ef0"/><stop offset=".774" stop-color="#89df00"/><stop offset=".789" stop-color="#8de000"/><stop offset=".809" stop-color="#aee800"/><stop offset=".838" stop-color="#ceef00"/><stop offset=".874" stop-color="#d2ef00"/><stop offset=".876" stop-color="#ecea00"/><stop offset=".878" stop-color="#f7cc00"/><stop offset=".951" stop-color="#f7cb00"/><stop offset=".953" stop-color="#f1de00"/><stop offset=".955" stop-color="#f1de00"/><stop offset=".957" stop-color="#e8f400"/><stop offset=".980" stop-color="#eaee00"/><stop offset=".999" stop-color="#ede700"/></linearGradient><linearGradient id="g45" gradientUnits="userSpaceOnUse" x1="130" x2="1170"><stop offset=".001" stop-color="#00d070"/><stop offset=".039" stop-color="#00d175"/><stop offset=".064" stop-color="#00da9a"/><stop offset=".114" stop-color="#00e0af"/><stop offset=".147" stop-color="#00e4bc"/><stop offset=".157" stop-color="#00e0b0"/><stop offset=".168" stop-color="#00eddb"/><stop offset=".182" stop-color="#06eaf0"/><stop offset=".205" stop-color="#2eb6f0"/><stop offset=".211" stop-color="#3b94f0"/><stop offset=".214" stop-color="#3b94f0"/><stop offset=".222" stop-color="#33aaf0"/><stop offset=".259" stop-color="#379ff0"/><stop offset=".270" stop-color="#36a0f0"/><stop offset=".311" stop-color="#2cbaf0"/><stop offset=".349" stop-color="#34a6f0"/><stop offset=".370" stop-color="#3e8df0"/><stop offset=".414" stop-color="#4b72f0"/><stop offset=".447" stop-color="#5956f0"/><stop offset=".453" stop-color="#5b50f0"/><stop offset=".463" stop-color="#4480f0"/><stop offset=".491" stop-color="#2eb4f0"/><stop offset=".514" stop-color="#30b1f0"/><stop offset=".547" stop-color="#4879f0"/><stop offset=".557" stop-color="#565df0"/><stop offset=".570" stop-color="#457df0"/><stop offset=".597" stop-color="#3d8ff0"/><stop offset=".620" stop-color="#2abff0"/><stop offset=".649" stop-color="#22cbf0"/><stop offset=".664" stop-color="#2eb4f0"/><stop offset=".682" stop-color="#457df0"/><stop offset=".697" stop-color="#6634f0"/><stop offset=".713" stop-color="#7113f0"/><stop offset=".732" stop-color="#6c22f0"/><stop offset=".751" stop-color="#6634f0"/><stop offset=".770" stop-color="#6044f0"/><stop offset=".774" stop-color="#5e4af0"/><stop offset=".776" stop-color="#00db9e"/><stop offset=".778" stop-color="#89df00"/><stop offset=".786" stop-color="#89df00"/><stop offset=".791" stop-color="#9ae300"/><stop offset=".836" stop-color="#e0f200"/><stop offset=".861" stop-color="#d3f000"/><stop offset=".870" stop-color="#d5f000"/><stop offset=".872" stop-color="#e9f100"/><stop offset=".874" stop-color="#f4d400"/><stop offset=".891" stop-color="#f7ca00"/><stop offset=".947" stop-color="#f7cb00"/><stop offset=".951" stop-color="#e8f400"/><stop offset=".976" stop-color="#eaee00"/><stop offset=".997" stop-color="#ede700"/><stop offset=".999" stop-color="#ede700"/></linearGradient><linearGradient id="g46" gradientUnits="userSpaceOnUse" x1="130" x2="1170"><stop offset=".001" stop-color="#01cf6d"/><stop offset=".047" stop-color="#00d175"/><stop offset=".070" stop-color="#00d995"/><stop offset=".109" stop-color="#00dda2"/><stop offset=".147" stop-color="#00e3b9"/><stop offset=".157" stop-color="#00e1b3"/><stop offset=".180" stop-color="#00f0f0"/><stop offset=".207" stop-color="#2db8f0"/><stop offset=".214" stop-color="#33a8f0"/><stop offset=".234" stop-color="#2fb3f0"/><stop offset=".266" stop-color="#36a0f0"/><stop offset=".307" stop-color="#29c0f0"/><stop offset=".347" stop-color="#31aef0"/><stop offset=".395" stop-color="#4382f0"/><stop offset=".453" stop-color="#5165f0"/><stop offset=".463" stop-color="#4088f0"/><stop offset=".491" stop-color="#29c0f0"/><stop offset=".512" stop-color="#2bbdf0"/><stop offset=".547" stop-color="#477bf0"/><stop offset=".555" stop-color="#5858f0"/><stop offset=".559" stop-color="#5858f0"/><stop offset=".566" stop-color="#4284f0"/><stop offset=".597" stop-color="#389cf0"/><stop offset=".622" stop-color="#22cbf0"/><stop offset=".651" stop-color="#18d7f0"/><stop offset=".666" stop-color="#2db8f0"/><stop offset=".701" stop-color="#6439f0"/><stop offset=".720" stop-color="#7015f0"/><stop offset=".734" stop-color="#6b27f0"/><stop offset=".755" stop-color="#6536f0"/><stop offset=".768" stop-color="#6044f0"/><stop offset=".778" stop-color="#5956f0"/><stop offset=".780" stop-color="#00d995"/><stop offset=".782" stop-color="#00d995"/><stop offset=".784" stop-color="#92e100"/><stop offset=".807" stop-color="#b8ea00"/><stop offset=".822" stop-color="#dcf100"/><stop offset=".843" stop-color="#e0f200"/><stop offset=".866" stop-color="#daf100"/><stop offset=".870" stop-color="#ede800"/><stop offset=".876" stop-color="#f6cf00"/><stop offset=".941" stop-color="#f7cb00"/><stop offset=".945" stop-color="#e8f400"/><stop offset=".972" stop-color="#eaee00"/><stop offset=".993" stop-color="#ede700"/><stop offset=".999" stop-color="#ede700"/></linearGradient><linearGradient id="g47" gradientUnits="userSpaceOnUse" x1="130" x2="1170"><stop offset=".001" stop-color="#01ce6a"/><stop offset=".053" stop-color="#00d173"/><stop offset=".076" stop-color="#00d88e"/><stop offset=".101" stop-color="#00d891"/><stop offset=".141" stop-color="#00e2b6"/><stop offset=".159" stop-color="#00e6bf"/><stop offset=".182" stop-color="#03edf0"/><stop offset=".214" stop-color="#2bbcf0"/><stop offset=".243" stop-color="#2eb4f0"/><stop offset=".264" stop-color="#35a4f0"/><stop offset=".305" stop-color="#27c5f0"/><stop offset=".347" stop-color="#2db7f0"/><stop offset=".393" stop-color="#4185f0"/><stop offset=".449" stop-color="#4b73f0"/><stop offset=".487" stop-color="#24c9f0"/><stop offset=".507" stop-color="#22cbf0"/><stop offset=".532" stop-color="#34a5f0"/><stop offset=".557" stop-color="#4d6df0"/><stop offset=".566" stop-color="#4089f0"/><stop offset=".601" stop-color="#2fb2f0"/><stop offset=".628" stop-color="#16d9f0"/><stop offset=".653" stop-color="#0ee2f0"/><stop offset=".668" stop-color="#2bbcf0"/><stop offset=".678" stop-color="#4088f0"/><stop offset=".720" stop-color="#7112f0"/><stop offset=".730" stop-color="#6f1bf0"/><stop offset=".743" stop-color="#6830f0"/><stop offset=".774" stop-color="#5b50f0"/><stop offset=".782" stop-color="#5460f0"/><stop offset=".784" stop-color="#4f6af0"/><stop offset=".786" stop-color="#00d27a"/><stop offset=".787" stop-color="#00d070"/><stop offset=".789" stop-color="#a0e400"/><stop offset=".799" stop-color="#a9e600"/><stop offset=".807" stop-color="#caee00"/><stop offset=".830" stop-color="#e9f300"/><stop offset=".863" stop-color="#def200"/><stop offset=".868" stop-color="#e4f300"/><stop offset=".876" stop-color="#f6ce00"/><stop offset=".936" stop-color="#f7cb00"/><stop offset=".938" stop-color="#efe100"/><stop offset=".939" stop-color="#f1de00"/><stop offset=".941" stop-color="#e8f400"/><stop offset=".968" stop-color="#eaee00"/><stop offset=".989" stop-color="#ede700"/><stop offset=".999" stop-color="#ede700"/></linearGradient><linearGradient id="g48" gradientUnits="userSpaceOnUse" x1="130" x2="1170"><stop offset=".001" stop-color="#02ce66"/><stop offset=".061" stop-color="#00d276"/><stop offset=".078" stop-color="#00d583"/><stop offset=".097" stop-color="#00d276"/><stop offset=".118" stop-color="#00dca1"/><stop offset=".163" stop-color="#00e8c6"/><stop offset=".182" stop-color="#02eef0"/><stop offset=".218" stop-color="#24c9f0"/><stop offset=".249" stop-color="#2eb4f0"/><stop offset=".263" stop-color="#36a1f0"/><stop offset=".291" stop-color="#26c6f0"/><stop offset=".318" stop-color="#26c7f0"/><stop offset=".345" stop-color="#29c0f0"/><stop offset=".391" stop-color="#4186f0"/><stop offset=".447" stop-color="#457ef0"/><stop offset=".459" stop-color="#3d8ff0"/><stop offset=".486" stop-color="#1cd2f0"/><stop offset=".501" stop-color="#16d9f0"/><stop offset=".528" stop-color="#2db7f0"/><stop offset=".549" stop-color="#4381f0"/><stop offset=".559" stop-color="#4382f0"/><stop offset=".614" stop-color="#1bd3f0"/><stop offset=".651" stop-color="#00f0f0"/><stop offset=".662" stop-color="#13dcf0"/><stop offset=".674" stop-color="#34a5f0"/><stop offset=".678" stop-color="#4088f0"/><stop offset=".701" stop-color="#5955f0"/><stop offset=".716" stop-color="#6c23f0"/><stop offset=".720" stop-color="#750def"/><stop offset=".732" stop-color="#6e1cf0"/><stop offset=".778" stop-color="#5956f0"/><stop offset=".782" stop-color="#4f6af0"/><stop offset=".786" stop-color="#4f6af0"/><stop offset=".789" stop-color="#4a75f0"/><stop offset=".791" stop-color="#4a75f0"/><stop offset=".793" stop-color="#01cf6d"/><stop offset=".795" stop-color="#a9e600"/><stop offset=".799" stop-color="#b5e900"/><stop offset=".803" stop-color="#d4f000"/><stop offset=".824" stop-color="#ebed00"/><stop offset=".863" stop-color="#e0f200"/><stop offset=".868" stop-color="#ecea00"/><stop offset=".874" stop-color="#f8c800"/><stop offset=".930" stop-color="#f7cb00"/><stop offset=".932" stop-color="#efe100"/><stop offset=".934" stop-color="#efe100"/><stop offset=".936" stop-color="#e0f200"/><stop offset=".943" stop-color="#e8f400"/><stop offset=".964" stop-color="#eaee00"/><stop offset=".986" stop-color="#ede700"/><stop offset=".993" stop-color="#ede700"/><stop offset=".999" stop-color="#f1dc00"/></linearGradient><linearGradient id="g49" gradientUnits="userSpaceOnUse" x1="130" x2="1170"><stop offset=".001" stop-color="#02cd63"/><stop offset=".064" stop-color="#00d276"/><stop offset=".087" stop-color="#00d072"/><stop offset=".103" stop-color="#00d173"/><stop offset=".114" stop-color="#00da97"/><stop offset=".166" stop-color="#00ebcd"/><stop offset=".182" stop-color="#02eef0"/><stop offset=".222" stop-color="#1cd2f0"/><stop offset=".251" stop-color="#2db8f0"/><stop offset=".261" stop-color="#36a0f0"/><stop offset=".280" stop-color="#28c4f0"/><stop offset=".320" stop-color="#1fcef0"/><stop offset=".349" stop-color="#27c5f0"/><stop offset=".384" stop-color="#3c92f0"/><stop offset=".393" stop-color="#4087f0"/><stop offset=".447" stop-color="#4088f0"/><stop offset=".459" stop-color="#389bf0"/><stop offset=".489" stop-color="#0be5f0"/><stop offset=".499" stop-color="#0ae6f0"/><stop offset=".532" stop-color="#2db7f0"/><stop offset=".549" stop-color="#4186f0"/><stop offset=".561" stop-color="#3e8df0"/><stop offset=".607" stop-color="#1cd2f0"/><stop offset=".639" stop-color="#00f0f0"/><stop offset=".661" stop-color="#00f0f0"/><stop offset=".674" stop-color="#30b1f0"/><stop offset=".680" stop-color="#3e8ef0"/><stop offset=".703" stop-color="#5362f0"/><stop offset=".718" stop-color="#6b25f0"/><stop offset=".720" stop-color="#770bee"/><stop offset=".732" stop-color="#6f1bf0"/><stop offset=".778" stop-color="#5362f0"/><stop offset=".787" stop-color="#4a75f0"/><stop offset=".797" stop-color="#4879f0"/><stop offset=".799" stop-color="#ddf200"/><stop offset=".812" stop-color="#e3f300"/><stop offset=".830" stop-color="#f0e000"/><stop offset=".845" stop-color="#e0f200"/><stop offset=".861" stop-color="#e6f300"/><stop offset=".876" stop-color="#f7ca00"/><stop offset=".924" stop-color="#f7cb00"/><stop offset=".926" stop-color="#efe100"/><stop offset=".928" stop-color="#efe100"/><stop offset=".930" stop-color="#e0f200"/><stop offset=".953" stop-color="#e8f400"/><stop offset=".972" stop-color="#ede700"/><stop offset=".988" stop-color="#ede700"/><stop offset=".993" stop-color="#f4d500"/><stop offset=".999" stop-color="#efe300"/></linearGradient><linearGradient id="g50" gradientUnits="userSpaceOnUse" x1="130" x2="1170"><stop offset=".001" stop-color="#03cc5e"/><stop offset=".032" stop-color="#01cf6d"/><stop offset=".105" stop-color="#00d070"/><stop offset=".113" stop-color="#00d890"/><stop offset=".170" stop-color="#00ecd3"/><stop offset=".182" stop-color="#01eff0"/><stop offset=".241" stop-color="#21ccf0"/><stop offset=".263" stop-color="#2fb3f0"/><stop offset=".286" stop-color="#1fcef0"/><stop offset=".336" stop-color="#18d7f0"/><stop offset=".378" stop-color="#34a6f0"/><stop offset=".393" stop-color="#4088f0"/><stop offset=".422" stop-color="#3f8af0"/><stop offset=".445" stop-color="#3d90f0"/><stop offset=".476" stop-color="#1bd3f0"/><stop offset=".489" stop-color="#00f0f0"/><stop offset=".511" stop-color="#0de3f0"/><stop offset=".536" stop-color="#2db8f0"/><stop offset=".549" stop-color="#4088f0"/><stop offset=".561" stop-color="#3a98f0"/><stop offset=".601" stop-color="#1dd1f0"/><stop offset=".626" stop-color="#00f0f0"/><stop offset=".664" stop-color="#03edf0"/><stop offset=".676" stop-color="#2eb4f0"/><stop offset=".688" stop-color="#3f8cf0"/><stop offset=".703" stop-color="#4879f0"/><stop offset=".720" stop-color="#6b25f0"/><stop offset=".724" stop-color="#7015f0"/><stop offset=".757" stop-color="#623ff0"/><stop offset=".787" stop-color="#4a75f0"/><stop offset=".799" stop-color="#457ef0"/><stop offset=".801" stop-color="#0ec335"/><stop offset=".803" stop-color="#ddf200"/><stop offset=".818" stop-color="#ede700"/><stop offset=".834" stop-color="#efe300"/><stop offset=".855" stop-color="#eaee00"/><stop offset=".880" stop-color="#f7cc00"/><stop offset=".918" stop-color="#f7cb00"/><stop offset=".922" stop-color="#e0f200"/><stop offset=".932" stop-color="#e0f200"/><stop offset=".939" stop-color="#e8f400"/><stop offset=".957" stop-color="#eaee00"/><stop offset=".978" stop-color="#ede700"/><stop offset=".982" stop-color="#ede700"/><stop offset=".989" stop-color="#f5d000"/><stop offset=".993" stop-color="#efe300"/><stop offset=".999" stop-color="#efe300"/></linearGradient><linearGradient id="g51" gradientUnits="userSpaceOnUse" x1="130" x2="1170"><stop offset=".001" stop-color="#04ca5a"/><stop offset=".032" stop-color="#01ce6a"/><stop offset=".093" stop-color="#00d070"/><stop offset=".105" stop-color="#00d278"/><stop offset=".120" stop-color="#00da9a"/><stop offset=".170" stop-color="#00ecd0"/><stop offset=".182" stop-color="#00f0f0"/><stop offset=".212" stop-color="#09e7f0"/><stop offset=".224" stop-color="#0be5f0"/><stop offset=".263" stop-color="#28c4f0"/><stop offset=".326" stop-color="#0ae6f0"/><stop offset=".380" stop-color="#32acf0"/><stop offset=".397" stop-color="#3a96f0"/><stop offset=".439" stop-color="#3999f0"/><stop offset=".468" stop-color="#22cbf0"/><stop offset=".487" stop-color="#00f0ee"/><stop offset=".512" stop-color="#06eaf0"/><stop offset=".541" stop-color="#2eb4f0"/><stop offset=".553" stop-color="#389cf0"/><stop offset=".597" stop-color="#1bd3f0"/><stop offset=".618" stop-color="#00f0f0"/><stop offset=".662" stop-color="#00f0ee"/><stop offset=".668" stop-color="#0de3f0"/><stop offset=".680" stop-color="#30b0f0"/><stop offset=".693" stop-color="#3d8ff0"/><stop offset=".707" stop-color="#4382f0"/><stop offset=".722" stop-color="#692df0"/><stop offset=".732" stop-color="#6d20f0"/><stop offset=".753" stop-color="#643af0"/><stop offset=".789" stop-color="#4879f0"/><stop offset=".801" stop-color="#447ff0"/><stop offset=".803" stop-color="#12c22c"/><stop offset=".805" stop-color="#ebed00"/><stop offset=".834" stop-color="#f1de00"/><stop offset=".857" stop-color="#f1dd00"/><stop offset=".897" stop-color="#f7cb00"/><stop offset=".911" stop-color="#f7cb00"/><stop offset=".912" stop-color="#efe100"/><stop offset=".914" stop-color="#efe100"/><stop offset=".916" stop-color="#e0f200"/><stop offset=".930" stop-color="#e0f200"/><stop offset=".938" stop-color="#e8f400"/><stop offset=".953" stop-color="#eaee00"/><stop offset=".974" stop-color="#ede700"/><stop offset=".986" stop-color="#f5d000"/><stop offset=".989" stop-color="#efe300"/><stop offset=".997" stop-color="#efe300"/><stop offset=".999" stop-color="#ebed00"/></linearGradient><linearGradient id="g52" gradientUnits="userSpaceOnUse" x1="130" x2="1170"><stop offset=".001" stop-color="#05c955"/><stop offset=".055" stop-color="#01cf6b"/><stop offset=".101" stop-color="#00d276"/><stop offset=".130" stop-color="#00dda2"/><stop offset=".172" stop-color="#00ecd2"/><stop offset=".184" stop-color="#01eff0"/><stop offset=".212" stop-color="#03edf0"/><stop offset=".226" stop-color="#06eaf0"/><stop offset=".261" stop-color="#20cdf0"/><stop offset=".330" stop-color="#02eef0"/><stop offset=".389" stop-color="#33aaf0"/><stop offset=".439" stop-color="#34a7f0"/><stop offset=".468" stop-color="#1bd3f0"/><stop offset=".484" stop-color="#00f0ee"/><stop offset=".501" stop-color="#00eee3"/><stop offset=".520" stop-color="#09e7f0"/><stop offset=".551" stop-color="#2fb2f0"/><stop offset=".588" stop-color="#21ccf0"/><stop offset=".613" stop-color="#00f0ee"/><stop offset=".653" stop-color="#00efe8"/><stop offset=".666" stop-color="#00f0f0"/><stop offset=".680" stop-color="#2cb9f0"/><stop offset=".695" stop-color="#3c93f0"/><stop offset=".711" stop-color="#4381f0"/><stop offset=".720" stop-color="#633cf0"/><stop offset=".726" stop-color="#6a29f0"/><stop offset=".739" stop-color="#6d20f0"/><stop offset=".787" stop-color="#467cf0"/><stop offset=".803" stop-color="#4284f0"/><stop offset=".805" stop-color="#16c125"/><stop offset=".807" stop-color="#eee500"/><stop offset=".832" stop-color="#f3d800"/><stop offset=".855" stop-color="#f5d000"/><stop offset=".897" stop-color="#f7cb00"/><stop offset=".899" stop-color="#f1de00"/><stop offset=".907" stop-color="#f0e100"/><stop offset=".909" stop-color="#e1f200"/><stop offset=".928" stop-color="#e0f200"/><stop offset=".936" stop-color="#e8f400"/><stop offset=".949" stop-color="#eaee00"/><stop offset=".970" stop-color="#ede700"/><stop offset=".978" stop-color="#f4d500"/><stop offset=".984" stop-color="#f7cb00"/><stop offset=".986" stop-color="#efe300"/><stop offset=".993" stop-color="#efe300"/><stop offset=".999" stop-color="#e3f300"/></linearGradient><linearGradient id="g53" gradientUnits="userSpaceOnUse" x1="130" x2="1170"><stop offset=".001" stop-color="#05c850"/><stop offset=".101" stop-color="#00d27a"/><stop offset=".138" stop-color="#00dea6"/><stop offset=".174" stop-color="#00ecd2"/><stop offset=".186" stop-color="#00f0f0"/><stop offset=".230" stop-color="#05ebf0"/><stop offset=".263" stop-color="#18d7f0"/><stop offset=".336" stop-color="#02eef0"/><stop offset=".389" stop-color="#2db7f0"/><stop offset=".439" stop-color="#2fb3f0"/><stop offset=".466" stop-color="#18d7f0"/><stop offset=".482" stop-color="#00f0ee"/><stop offset=".495" stop-color="#00edda"/><stop offset=".512" stop-color="#00efe8"/><stop offset=".532" stop-color="#11dff0"/><stop offset=".557" stop-color="#29c0f0"/><stop offset=".593" stop-color="#16d9f0"/><stop offset=".611" stop-color="#00f0ed"/><stop offset=".645" stop-color="#00eee2"/><stop offset=".666" stop-color="#00f0f0"/><stop offset=".682" stop-color="#2db8f0"/><stop offset=".699" stop-color="#3c93f0"/><stop offset=".711" stop-color="#4088f0"/><stop offset=".724" stop-color="#6830f0"/><stop offset=".738" stop-color="#7113f0"/><stop offset=".761" stop-color="#5b52f0"/><stop offset=".791" stop-color="#4382f0"/><stop offset=".805" stop-color="#4185f0"/><stop offset=".807" stop-color="#f3d800"/><stop offset=".847" stop-color="#f5d000"/><stop offset=".859" stop-color="#f6bc00"/><stop offset=".887" stop-color="#f5d200"/><stop offset=".893" stop-color="#f5d200"/><stop offset=".897" stop-color="#e9f300"/><stop offset=".926" stop-color="#e0f200"/><stop offset=".934" stop-color="#e8f400"/><stop offset=".947" stop-color="#ecea00"/><stop offset=".964" stop-color="#ede700"/><stop offset=".972" stop-color="#f4d500"/><stop offset=".980" stop-color="#f7cb00"/><stop offset=".984" stop-color="#efe300"/><stop offset=".991" stop-color="#efe300"/><stop offset=".997" stop-color="#e3f300"/><stop offset=".999" stop-color="#e0f200"/></linearGradient><linearGradient id="g54" gradientUnits="userSpaceOnUse" x1="130" x2="1170"><stop offset=".001" stop-color="#06c74b"/><stop offset=".105" stop-color="#00d480"/><stop offset=".149" stop-color="#00dfae"/><stop offset=".178" stop-color="#00ecd3"/><stop offset=".191" stop-color="#00f0f0"/><stop offset=".236" stop-color="#06eaf0"/><stop offset=".264" stop-color="#11dff0"/><stop offset=".330" stop-color="#00f0f0"/><stop offset=".353" stop-color="#0ee2f0"/><stop offset=".397" stop-color="#29c2f0"/><stop offset=".443" stop-color="#28c3f0"/><stop offset=".478" stop-color="#00f0f0"/><stop offset=".493" stop-color="#00eccf"/><stop offset=".511" stop-color="#00edd8"/><stop offset=".528" stop-color="#02eef0"/><stop offset=".559" stop-color="#22cbf0"/><stop offset=".591" stop-color="#13dcf0"/><stop offset=".609" stop-color="#00f0ed"/><stop offset=".641" stop-color="#00eddb"/><stop offset=".668" stop-color="#06eaf0"/><stop offset=".684" stop-color="#2eb6f0"/><stop offset=".705" stop-color="#3e8ef0"/><stop offset=".713" stop-color="#4283f0"/><stop offset=".724" stop-color="#6830f0"/><stop offset=".734" stop-color="#6e1cf0"/><stop offset=".738" stop-color="#7210f0"/><stop offset=".739" stop-color="#7210f0"/><stop offset=".743" stop-color="#692df0"/><stop offset=".774" stop-color="#4c70f0"/><stop offset=".789" stop-color="#4186f0"/><stop offset=".805" stop-color="#4087f0"/><stop offset=".807" stop-color="#f3d600"/><stop offset=".845" stop-color="#f6cd00"/><stop offset=".855" stop-color="#f6b700"/><stop offset=".866" stop-color="#f6b900"/><stop offset=".878" stop-color="#f5d100"/><stop offset=".889" stop-color="#f2db00"/><stop offset=".893" stop-color="#e9f300"/><stop offset=".924" stop-color="#e0f200"/><stop offset=".932" stop-color="#e8f400"/><stop offset=".955" stop-color="#ede700"/><stop offset=".959" stop-color="#ede700"/><stop offset=".966" stop-color="#f4d500"/><stop offset=".976" stop-color="#f7cb00"/><stop offset=".980" stop-color="#efe300"/><stop offset=".988" stop-color="#efe300"/><stop offset=".993" stop-color="#e3f300"/><stop offset=".999" stop-color="#e0f200"/></linearGradient><linearGradient id="g55" gradientUnits="userSpaceOnUse" x1="130" x2="1170"><stop offset=".001" stop-color="#07c545"/><stop offset=".076" stop-color="#00d06e"/><stop offset=".109" stop-color="#00d585"/><stop offset=".180" stop-color="#00eccf"/><stop offset=".197" stop-color="#00f0f0"/><stop offset=".230" stop-color="#00f0ee"/><stop offset=".264" stop-color="#0ae6f0"/><stop offset=".309" stop-color="#00f0ee"/><stop offset=".349" stop-color="#05ebf0"/><stop offset=".389" stop-color="#20cdf0"/><stop offset=".447" stop-color="#20cdf0"/><stop offset=".476" stop-color="#00f0ed"/><stop offset=".489" stop-color="#00eaca"/><stop offset=".509" stop-color="#00eacb"/><stop offset=".534" stop-color="#02eef0"/><stop offset=".564" stop-color="#1bd3f0"/><stop offset=".595" stop-color="#0be5f0"/><stop offset=".613" stop-color="#00efe6"/><stop offset=".639" stop-color="#00edd5"/><stop offset=".668" stop-color="#02eef0"/><stop offset=".684" stop-color="#2db8f0"/><stop offset=".701" stop-color="#3c93f0"/><stop offset=".713" stop-color="#4088f0"/><stop offset=".726" stop-color="#6536f0"/><stop offset=".738" stop-color="#6a29f0"/><stop offset=".770" stop-color="#4c6ff0"/><stop offset=".787" stop-color="#4088f0"/><stop offset=".807" stop-color="#4087f0"/><stop offset=".809" stop-color="#f3d600"/><stop offset=".847" stop-color="#f8c700"/><stop offset=".855" stop-color="#f6b700"/><stop offset=".866" stop-color="#f6b900"/><stop offset=".880" stop-color="#f4d500"/><stop offset=".889" stop-color="#efe300"/><stop offset=".893" stop-color="#e9f300"/><stop offset=".922" stop-color="#e0f200"/><stop offset=".930" stop-color="#e8f400"/><stop offset=".949" stop-color="#ede700"/><stop offset=".953" stop-color="#ede700"/><stop offset=".961" stop-color="#f4d500"/><stop offset=".974" stop-color="#f7cb00"/><stop offset=".978" stop-color="#efe300"/><stop offset=".986" stop-color="#efe300"/><stop offset=".991" stop-color="#e3f300"/><stop offset=".999" stop-color="#e0f200"/></linearGradient><linearGradient id="g56" gradientUnits="userSpaceOnUse" x1="130" x2="1170"><stop offset=".001" stop-color="#08c43f"/><stop offset=".064" stop-color="#02cc62"/><stop offset=".114" stop-color="#00d78d"/><stop offset=".180" stop-color="#00e9c9"/><stop offset=".205" stop-color="#00efeb"/><stop offset=".226" stop-color="#00efea"/><stop offset=".266" stop-color="#04ecf0"/><stop offset=".309" stop-color="#00efe8"/><stop offset=".336" stop-color="#00f0ed"/><stop offset=".359" stop-color="#0be5f0"/><stop offset=".393" stop-color="#19d6f0"/><stop offset=".447" stop-color="#1ad5f0"/><stop offset=".474" stop-color="#00f0ed"/><stop offset=".486" stop-color="#00e8c4"/><stop offset=".503" stop-color="#00e4bc"/><stop offset=".530" stop-color="#00eee3"/><stop offset=".543" stop-color="#06eaf0"/><stop offset=".576" stop-color="#15daf0"/><stop offset=".609" stop-color="#00efea"/><stop offset=".636" stop-color="#00eccf"/><stop offset=".661" stop-color="#00efe5"/><stop offset=".668" stop-color="#00f0f0"/><stop offset=".684" stop-color="#2db7f0"/><stop offset=".701" stop-color="#3b94f0"/><stop offset=".714" stop-color="#4088f0"/><stop offset=".728" stop-color="#5f46f0"/><stop offset=".734" stop-color="#6536f0"/><stop offset=".745" stop-color="#5e4af0"/><stop offset=".784" stop-color="#4088f0"/><stop offset=".807" stop-color="#4087f0"/><stop offset=".809" stop-color="#f4d500"/><stop offset=".849" stop-color="#f8c500"/><stop offset=".859" stop-color="#f6b700"/><stop offset=".866" stop-color="#f7c000"/><stop offset=".895" stop-color="#e6f400"/><stop offset=".920" stop-color="#e0f200"/><stop offset=".928" stop-color="#e8f400"/><stop offset=".945" stop-color="#ede700"/><stop offset=".955" stop-color="#f4d500"/><stop offset=".970" stop-color="#f7cb00"/><stop offset=".974" stop-color="#efe300"/><stop offset=".982" stop-color="#efe300"/><stop offset=".988" stop-color="#e3f300"/><stop offset=".999" stop-color="#e0f200"/></linearGradient><linearGradient id="g57" gradientUnits="userSpaceOnUse" x1="130" x2="1170"><stop offset=".001" stop-color="#0ac43c"/><stop offset=".045" stop-color="#06c84e"/><stop offset=".116" stop-color="#00d88e"/><stop offset=".138" stop-color="#00db9d"/><stop offset=".195" stop-color="#00ecd3"/><stop offset=".249" stop-color="#05ebf0"/><stop offset=".274" stop-color="#00efea"/><stop offset=".301" stop-color="#00eedd"/><stop offset=".326" stop-color="#00f0f0"/><stop offset=".345" stop-color="#00efeb"/><stop offset=".391" stop-color="#12def0"/><stop offset=".409" stop-color="#0fe1f0"/><stop offset=".447" stop-color="#14dbf0"/><stop offset=".472" stop-color="#00efeb"/><stop offset=".482" stop-color="#00e7c2"/><stop offset=".495" stop-color="#00dfac"/><stop offset=".524" stop-color="#00ebcd"/><stop offset=".543" stop-color="#00f0f0"/><stop offset=".582" stop-color="#10e0f0"/><stop offset=".607" stop-color="#00efea"/><stop offset=".632" stop-color="#00eaca"/><stop offset=".655" stop-color="#00edd6"/><stop offset=".668" stop-color="#02eef0"/><stop offset=".684" stop-color="#2fb3f0"/><stop offset=".699" stop-color="#3b94f0"/><stop offset=".716" stop-color="#4088f0"/><stop offset=".730" stop-color="#5a54f0"/><stop offset=".739" stop-color="#5b51f0"/><stop offset=".772" stop-color="#467cf0"/><stop offset=".789" stop-color="#4088f0"/><stop offset=".807" stop-color="#4088f0"/><stop offset=".809" stop-color="#1ec218"/><stop offset=".811" stop-color="#f4d400"/><stop offset=".855" stop-color="#f8c500"/><stop offset=".864" stop-color="#f8c500"/><stop offset=".891" stop-color="#e8f400"/><stop offset=".897" stop-color="#e1f200"/><stop offset=".918" stop-color="#e0f200"/><stop offset=".926" stop-color="#e8f400"/><stop offset=".939" stop-color="#ede700"/><stop offset=".949" stop-color="#f4d500"/><stop offset=".959" stop-color="#f5d000"/><stop offset=".968" stop-color="#f7cb00"/><stop offset=".970" stop-color="#efe300"/><stop offset=".980" stop-color="#efe300"/><stop offset=".986" stop-color="#e3f300"/><stop offset=".999" stop-color="#e0f200"/></linearGradient><linearGradient id="g58" gradientUnits="userSpaceOnUse" x1="130" x2="1170"><stop offset=".001" stop-color="#0cc339"/><stop offset=".047" stop-color="#06c74b"/><stop offset=".116" stop-color="#00d78d"/><stop offset=".128" stop-color="#00db9b"/><stop offset=".166" stop-color="#00dfae"/><stop offset=".243" stop-color="#02eef0"/><stop offset=".266" stop-color="#00efea"/><stop offset=".295" stop-color="#00ecd3"/><stop offset=".314" stop-color="#00eee2"/><stop offset=".320" stop-color="#00f0f0"/><stop offset=".341" stop-color="#00eee3"/><stop offset=".362" stop-color="#07e9f0"/><stop offset=".395" stop-color="#09e7f0"/><stop offset=".405" stop-color="#02eef0"/><stop offset=".443" stop-color="#10e0f0"/><stop offset=".468" stop-color="#00f0f0"/><stop offset=".482" stop-color="#00e2b6"/><stop offset=".495" stop-color="#00da9a"/><stop offset=".551" stop-color="#01eff0"/><stop offset=".588" stop-color="#0ce4f0"/><stop offset=".607" stop-color="#00efea"/><stop offset=".630" stop-color="#00e8c4"/><stop offset=".651" stop-color="#00eacb"/><stop offset=".668" stop-color="#06eaf0"/><stop offset=".684" stop-color="#31adf0"/><stop offset=".697" stop-color="#3c93f0"/><stop offset=".718" stop-color="#4088f0"/><stop offset=".732" stop-color="#5264f0"/><stop offset=".745" stop-color="#4d6df0"/><stop offset=".762" stop-color="#477af0"/><stop offset=".795" stop-color="#4088f0"/><stop offset=".809" stop-color="#4088f0"/><stop offset=".811" stop-color="#f4d300"/><stop offset=".866" stop-color="#f7cc00"/><stop offset=".889" stop-color="#eaef00"/><stop offset=".897" stop-color="#e0f200"/><stop offset=".916" stop-color="#e0f200"/><stop offset=".928" stop-color="#ecea00"/><stop offset=".936" stop-color="#ede700"/><stop offset=".943" stop-color="#f4d500"/><stop offset=".955" stop-color="#f5d000"/><stop offset=".964" stop-color="#f7cb00"/><stop offset=".968" stop-color="#efe300"/><stop offset=".976" stop-color="#efe300"/><stop offset=".982" stop-color="#e3f300"/><stop offset=".999" stop-color="#e0f200"/></linearGradient><linearGradient id="g59" gradientUnits="userSpaceOnUse" x1="130" x2="1170"><stop offset=".001" stop-color="#0ec335"/><stop offset=".051" stop-color="#06c64a"/><stop offset=".132" stop-color="#00d995"/><stop offset=".191" stop-color="#00e6bf"/><stop offset=".226" stop-color="#00eede"/><stop offset=".243" stop-color="#01eff0"/><stop offset=".261" stop-color="#00efe8"/><stop offset=".287" stop-color="#00ebcd"/><stop offset=".312" stop-color="#00ecd3"/><stop offset=".322" stop-color="#00efea"/><stop offset=".339" stop-color="#00edda"/><stop offset=".359" stop-color="#02eef0"/><stop offset=".393" stop-color="#05ebf0"/><stop offset=".420" stop-color="#06eaf0"/><stop offset=".457" stop-color="#06eaf0"/><stop offset=".466" stop-color="#00efeb"/><stop offset=".493" stop-color="#00d37b"/><stop offset=".530" stop-color="#00e8c6"/><stop offset=".559" stop-color="#01eff0"/><stop offset=".591" stop-color="#09e7f0"/><stop offset=".607" stop-color="#00efeb"/><stop offset=".626" stop-color="#00e6c1"/><stop offset=".645" stop-color="#00e5bd"/><stop offset=".661" stop-color="#00eedd"/><stop offset=".668" stop-color="#07e9f0"/><stop offset=".684" stop-color="#35a2f0"/><stop offset=".693" stop-color="#3d8ff0"/><stop offset=".716" stop-color="#3c92f0"/><stop offset=".734" stop-color="#4a74f0"/><stop offset=".755" stop-color="#4186f0"/><stop offset=".811" stop-color="#4088f0"/><stop offset=".812" stop-color="#f5d200"/><stop offset=".870" stop-color="#f5d200"/><stop offset=".889" stop-color="#ebec00"/><stop offset=".897" stop-color="#e0f200"/><stop offset=".916" stop-color="#e6f300"/><stop offset=".934" stop-color="#f1de00"/><stop offset=".939" stop-color="#f4d500"/><stop offset=".963" stop-color="#f6cd00"/><stop offset=".964" stop-color="#efe300"/><stop offset=".974" stop-color="#efe300"/><stop offset=".980" stop-color="#e3f300"/><stop offset=".999" stop-color="#e0f200"/></linearGradient><linearGradient id="g60" gradientUnits="userSpaceOnUse" x1="130" x2="1170"><stop offset=".001" stop-color="#10c231"/><stop offset=".053" stop-color="#07c646"/><stop offset=".136" stop-color="#00d992"/><stop offset=".222" stop-color="#00ecd2"/><stop offset=".239" stop-color="#00f0f0"/><stop offset=".255" stop-color="#00efe8"/><stop offset=".280" stop-color="#00e9c9"/><stop offset=".314" stop-color="#00eaca"/><stop offset=".347" stop-color="#00edd8"/><stop offset=".359" stop-color="#01eff0"/><stop offset=".414" stop-color="#00f0ee"/><stop offset=".461" stop-color="#01eff0"/><stop offset=".484" stop-color="#00d995"/><stop offset=".487" stop-color="#00d070"/><stop offset=".497" stop-color="#01ce6a"/><stop offset=".503" stop-color="#00d278"/><stop offset=".509" stop-color="#00da96"/><stop offset=".561" stop-color="#00f0ee"/><stop offset=".593" stop-color="#09e7f0"/><stop offset=".609" stop-color="#00efe8"/><stop offset=".624" stop-color="#00e5bd"/><stop offset=".639" stop-color="#00e0af"/><stop offset=".659" stop-color="#00ecd0"/><stop offset=".666" stop-color="#00f0f0"/><stop offset=".678" stop-color="#2db8f0"/><stop offset=".684" stop-color="#3d8ff0"/><stop offset=".701" stop-color="#4089f0"/><stop offset=".714" stop-color="#379ff0"/><stop offset=".732" stop-color="#4381f0"/><stop offset=".755" stop-color="#3d8ff0"/><stop offset=".778" stop-color="#4087f0"/><stop offset=".811" stop-color="#4088f0"/><stop offset=".812" stop-color="#1fc217"/><stop offset=".814" stop-color="#f5d200"/><stop offset=".876" stop-color="#f4d300"/><stop offset=".891" stop-color="#eceb00"/><stop offset=".903" stop-color="#e0f200"/><stop offset=".914" stop-color="#e4f300"/><stop offset=".936" stop-color="#f4d500"/><stop offset=".959" stop-color="#f6cd00"/><stop offset=".963" stop-color="#efe300"/><stop offset=".970" stop-color="#efe300"/><stop offset=".976" stop-color="#e3f300"/><stop offset=".999" stop-color="#e0f200"/></linearGradient><linearGradient id="g61" gradientUnits="userSpaceOnUse" x1="130" x2="1170"><stop offset=".001" stop-color="#12c22d"/><stop offset=".055" stop-color="#07c543"/><stop offset=".103" stop-color="#00d175"/><stop offset=".222" stop-color="#00eacc"/><stop offset=".236" stop-color="#00f0f0"/><stop offset=".249" stop-color="#00efe8"/><stop offset=".272" stop-color="#00e8c6"/><stop offset=".312" stop-color="#00e5be"/><stop offset=".351" stop-color="#00edd5"/><stop offset=".364" stop-color="#01eff0"/><stop offset=".395" stop-color="#00efea"/><stop offset=".416" stop-color="#00efe8"/><stop offset=".457" stop-color="#00f0f0"/><stop offset=".463" stop-color="#00eede"/><stop offset=".484" stop-color="#00d88e"/><stop offset=".489" stop-color="#01ce68"/><stop offset=".493" stop-color="#05c850"/><stop offset=".497" stop-color="#05c850"/><stop offset=".509" stop-color="#00d88e"/><stop offset=".561" stop-color="#00efe8"/><stop offset=".591" stop-color="#0be5f0"/><stop offset=".607" stop-color="#00f0f0"/><stop offset=".622" stop-color="#00e3b9"/><stop offset=".637" stop-color="#00dda2"/><stop offset=".651" stop-color="#00e1b3"/><stop offset=".664" stop-color="#00efe6"/><stop offset=".668" stop-color="#07e9f0"/><stop offset=".678" stop-color="#2eb6f0"/><stop offset=".682" stop-color="#3e8ef0"/><stop offset=".703" stop-color="#3e8df0"/><stop offset=".713" stop-color="#31aef0"/><stop offset=".722" stop-color="#32abf0"/><stop offset=".732" stop-color="#4088f0"/><stop offset=".749" stop-color="#35a2f0"/><stop offset=".772" stop-color="#4087f0"/><stop offset=".814" stop-color="#4087f0"/><stop offset=".816" stop-color="#20c316"/><stop offset=".818" stop-color="#f6cf00"/><stop offset=".884" stop-color="#f4d500"/><stop offset=".903" stop-color="#e0f200"/><stop offset=".912" stop-color="#ebec00"/><stop offset=".943" stop-color="#f8c900"/><stop offset=".957" stop-color="#f6ce00"/><stop offset=".959" stop-color="#efe300"/><stop offset=".968" stop-color="#efe300"/><stop offset=".974" stop-color="#e3f300"/><stop offset=".999" stop-color="#e0f200"/></linearGradient><linearGradient id="g62" gradientUnits="userSpaceOnUse" x1="130" x2="1170"><stop offset=".001" stop-color="#14c128"/><stop offset=".059" stop-color="#07c543"/><stop offset=".099" stop-color="#00d070"/><stop offset=".216" stop-color="#00e5be"/><stop offset=".230" stop-color="#00edd6"/><stop offset=".236" stop-color="#00f0f0"/><stop offset=".245" stop-color="#00efe6"/><stop offset=".263" stop-color="#00e9c7"/><stop offset=".301" stop-color="#00e2b4"/><stop offset=".330" stop-color="#00e3b9"/><stop offset=".366" stop-color="#00eee0"/><stop offset=".384" stop-color="#00f0f0"/><stop offset=".409" stop-color="#00edda"/><stop offset=".436" stop-color="#00efe5"/><stop offset=".449" stop-color="#00f0f0"/><stop offset=".482" stop-color="#00d994"/><stop offset=".487" stop-color="#00d070"/><stop offset=".495" stop-color="#04ca58"/><stop offset=".514" stop-color="#00d995"/><stop offset=".570" stop-color="#01eff0"/><stop offset=".591" stop-color="#0ee2f0"/><stop offset=".609" stop-color="#00f0ed"/><stop offset=".620" stop-color="#00e2b6"/><stop offset=".634" stop-color="#00d994"/><stop offset=".647" stop-color="#00db9c"/><stop offset=".662" stop-color="#00eddb"/><stop offset=".666" stop-color="#00f0f0"/><stop offset=".678" stop-color="#2bbdf0"/><stop offset=".684" stop-color="#3c92f0"/><stop offset=".697" stop-color="#3e8ef0"/><stop offset=".716" stop-color="#23caf0"/><stop offset=".726" stop-color="#27c5f0"/><stop offset=".734" stop-color="#2fb2f0"/><stop offset=".755" stop-color="#2fb3f0"/><stop offset=".774" stop-color="#4088f0"/><stop offset=".818" stop-color="#4088f0"/><stop offset=".820" stop-color="#20c315"/><stop offset=".822" stop-color="#f6cf00"/><stop offset=".866" stop-color="#f6cd00"/><stop offset=".893" stop-color="#f4d500"/><stop offset=".907" stop-color="#f0e100"/><stop offset=".939" stop-color="#f8c600"/><stop offset=".953" stop-color="#f6ce00"/><stop offset=".957" stop-color="#efe300"/><stop offset=".964" stop-color="#efe300"/><stop offset=".970" stop-color="#e3f300"/><stop offset=".999" stop-color="#e0f200"/></linearGradient><linearGradient id="g63" gradientUnits="userSpaceOnUse" x1="130" x2="1170"><stop offset=".001" stop-color="#16c023"/><stop offset=".061" stop-color="#08c442"/><stop offset=".099" stop-color="#00d06e"/><stop offset=".209" stop-color="#00e0af"/><stop offset=".234" stop-color="#00edd5"/><stop offset=".239" stop-color="#00efe6"/><stop offset=".253" stop-color="#00e9c9"/><stop offset=".295" stop-color="#00dfac"/><stop offset=".318" stop-color="#00dda4"/><stop offset=".326" stop-color="#00dea6"/><stop offset=".359" stop-color="#00e8c5"/><stop offset=".374" stop-color="#00ecd0"/><stop offset=".386" stop-color="#00eede"/><stop offset=".416" stop-color="#00ecd0"/><stop offset=".451" stop-color="#00edd5"/><stop offset=".480" stop-color="#00da97"/><stop offset=".491" stop-color="#00d070"/><stop offset=".505" stop-color="#00d27a"/><stop offset=".551" stop-color="#00ebcd"/><stop offset=".574" stop-color="#06eaf0"/><stop offset=".589" stop-color="#13dcf0"/><stop offset=".609" stop-color="#00f0f0"/><stop offset=".616" stop-color="#00e6bf"/><stop offset=".632" stop-color="#00d27a"/><stop offset=".645" stop-color="#00d37b"/><stop offset=".661" stop-color="#00eacc"/><stop offset=".664" stop-color="#00f0f0"/><stop offset=".680" stop-color="#2abff0"/><stop offset=".688" stop-color="#34a5f0"/><stop offset=".699" stop-color="#34a7f0"/><stop offset=".713" stop-color="#1bd3f0"/><stop offset=".720" stop-color="#07e9f0"/><stop offset=".728" stop-color="#10e0f0"/><stop offset=".741" stop-color="#21ccf0"/><stop offset=".759" stop-color="#28c3f0"/><stop offset=".780" stop-color="#4088f0"/><stop offset=".822" stop-color="#4088f0"/><stop offset=".824" stop-color="#20c315"/><stop offset=".826" stop-color="#f6cf00"/><stop offset=".861" stop-color="#f5d000"/><stop offset=".889" stop-color="#f8c500"/><stop offset=".932" stop-color="#f8c800"/><stop offset=".951" stop-color="#f5d000"/><stop offset=".955" stop-color="#efe300"/><stop offset=".963" stop-color="#efe300"/><stop offset=".968" stop-color="#e3f300"/><stop offset=".999" stop-color="#e0f200"/></linearGradient><linearGradient id="g64" gradientUnits="userSpaceOnUse" x1="130" x2="1170"><stop offset=".001" stop-color="#19c01e"/><stop offset=".057" stop-color="#0ac43c"/><stop offset=".099" stop-color="#01cf6d"/><stop offset=".157" stop-color="#00d585"/><stop offset=".218" stop-color="#00e1b2"/><stop offset=".241" stop-color="#00eaca"/><stop offset=".295" stop-color="#00dda2"/><stop offset=".326" stop-color="#00dc9f"/><stop offset=".355" stop-color="#00e4ba"/><stop offset=".370" stop-color="#00dfae"/><stop offset=".380" stop-color="#00eaca"/><stop offset=".457" stop-color="#00e6bf"/><stop offset=".484" stop-color="#00d78b"/><stop offset=".495" stop-color="#00d175"/><stop offset=".518" stop-color="#00d78d"/><stop offset=".545" stop-color="#00e6c0"/><stop offset=".572" stop-color="#02eef0"/><stop offset=".588" stop-color="#1dd1f0"/><stop offset=".609" stop-color="#00f0f0"/><stop offset=".614" stop-color="#00e7c2"/><stop offset=".630" stop-color="#00d070"/><stop offset=".645" stop-color="#00d06e"/><stop offset=".649" stop-color="#00d276"/><stop offset=".662" stop-color="#00edd8"/><stop offset=".664" stop-color="#00f0f0"/><stop offset=".688" stop-color="#2eb6f0"/><stop offset=".699" stop-color="#2db7f0"/><stop offset=".711" stop-color="#16d9f0"/><stop offset=".716" stop-color="#00f0f0"/><stop offset=".734" stop-color="#06eaf0"/><stop offset=".747" stop-color="#11dff0"/><stop offset=".759" stop-color="#18d7f0"/><stop offset=".778" stop-color="#3b95f0"/><stop offset=".787" stop-color="#4382f0"/><stop offset=".826" stop-color="#4088f0"/><stop offset=".828" stop-color="#20c315"/><stop offset=".830" stop-color="#f6ce00"/><stop offset=".864" stop-color="#f8c800"/><stop offset=".884" stop-color="#f6b900"/><stop offset=".887" stop-color="#f5b000"/><stop offset=".920" stop-color="#f7bf00"/><stop offset=".949" stop-color="#f5d200"/><stop offset=".951" stop-color="#efe300"/><stop offset=".961" stop-color="#ede700"/><stop offset=".963" stop-color="#e3f300"/><stop offset=".999" stop-color="#e0f200"/></linearGradient><linearGradient id="g65" gradientUnits="userSpaceOnUse" x1="130" x2="1170"><stop offset=".001" stop-color="#1dc219"/><stop offset=".055" stop-color="#0cc337"/><stop offset=".097" stop-color="#01cf6b"/><stop offset=".153" stop-color="#00d37b"/><stop offset=".216" stop-color="#00dea7"/><stop offset=".243" stop-color="#00e4bc"/><stop offset=".297" stop-color="#00da9a"/><stop offset=".330" stop-color="#00dca0"/><stop offset=".361" stop-color="#00e0af"/><stop offset=".370" stop-color="#00dda5"/><stop offset=".384" stop-color="#00e7c2"/><stop offset=".434" stop-color="#00e3b7"/><stop offset=".463" stop-color="#00dfae"/><stop offset=".497" stop-color="#00d278"/><stop offset=".520" stop-color="#00d482"/><stop offset=".536" stop-color="#00e0b0"/><stop offset=".564" stop-color="#00eee0"/><stop offset=".572" stop-color="#02eef0"/><stop offset=".584" stop-color="#18d7f0"/><stop offset=".588" stop-color="#20cdf0"/><stop offset=".605" stop-color="#02eef0"/><stop offset=".607" stop-color="#00f0f0"/><stop offset=".626" stop-color="#00d070"/><stop offset=".641" stop-color="#03cc5e"/><stop offset=".651" stop-color="#00d070"/><stop offset=".662" stop-color="#00eacb"/><stop offset=".664" stop-color="#00efe5"/><stop offset=".668" stop-color="#02eef0"/><stop offset=".689" stop-color="#2abff0"/><stop offset=".701" stop-color="#27c5f0"/><stop offset=".716" stop-color="#00f0ee"/><stop offset=".732" stop-color="#00efea"/><stop offset=".759" stop-color="#06eaf0"/><stop offset=".776" stop-color="#31adf0"/><stop offset=".786" stop-color="#477af0"/><stop offset=".787" stop-color="#5362f0"/><stop offset=".791" stop-color="#4e6bf0"/><stop offset=".793" stop-color="#4185f0"/><stop offset=".828" stop-color="#4088f0"/><stop offset=".830" stop-color="#22c312"/><stop offset=".832" stop-color="#f7cc00"/><stop offset=".863" stop-color="#f8c500"/><stop offset=".878" stop-color="#f5b000"/><stop offset=".882" stop-color="#f08c00"/><stop offset=".886" stop-color="#f08c00"/><stop offset=".893" stop-color="#f39f00"/><stop offset=".947" stop-color="#f4d500"/><stop offset=".949" stop-color="#efe300"/><stop offset=".957" stop-color="#ede700"/><stop offset=".963" stop-color="#e3f300"/><stop offset=".999" stop-color="#e1f200"/></linearGradient><linearGradient id="g66" gradientUnits="userSpaceOnUse" x1="130" x2="1170"><stop offset=".001" stop-color="#22c313"/><stop offset=".053" stop-color="#0fc232"/><stop offset=".095" stop-color="#01ce6a"/><stop offset=".170" stop-color="#00d37b"/><stop offset=".212" stop-color="#00db9b"/><stop offset=".241" stop-color="#00e0b1"/><stop offset=".297" stop-color="#00d890"/><stop offset=".349" stop-color="#00dea7"/><stop offset=".374" stop-color="#00dfae"/><stop offset=".401" stop-color="#00e4bc"/><stop offset=".434" stop-color="#00dfac"/><stop offset=".441" stop-color="#00dca0"/><stop offset=".455" stop-color="#00dfab"/><stop offset=".505" stop-color="#00d175"/><stop offset=".512" stop-color="#00d070"/><stop offset=".514" stop-color="#03cc60"/><stop offset=".518" stop-color="#03cc60"/><stop offset=".528" stop-color="#00d994"/><stop offset=".547" stop-color="#00e4ba"/><stop offset=".566" stop-color="#00eee3"/><stop offset=".572" stop-color="#02eef0"/><stop offset=".589" stop-color="#15daf0"/><stop offset=".607" stop-color="#00f0f0"/><stop offset=".613" stop-color="#00e6bf"/><stop offset=".620" stop-color="#00d78d"/><stop offset=".622" stop-color="#00d278"/><stop offset=".637" stop-color="#06c84e"/><stop offset=".647" stop-color="#04ca58"/><stop offset=".655" stop-color="#00d278"/><stop offset=".666" stop-color="#00edda"/><stop offset=".668" stop-color="#00f0f0"/><stop offset=".693" stop-color="#28c4f0"/><stop offset=".705" stop-color="#1dd1f0"/><stop offset=".716" stop-color="#00f0ed"/><stop offset=".734" stop-color="#00eddb"/><stop offset=".745" stop-color="#00efe8"/><stop offset=".755" stop-color="#00eee3"/><stop offset=".764" stop-color="#09e7f0"/><stop offset=".778" stop-color="#2db7f0"/><stop offset=".786" stop-color="#4088f0"/><stop offset=".787" stop-color="#4a75f0"/><stop offset=".791" stop-color="#4d6df0"/><stop offset=".795" stop-color="#4088f0"/><stop offset=".830" stop-color="#3f8af0"/><stop offset=".832" stop-color="#f7cb00"/><stop offset=".861" stop-color="#f7c300"/><stop offset=".874" stop-color="#f4ab00"/><stop offset=".884" stop-color="#f08900"/><stop offset=".914" stop-color="#f4a800"/><stop offset=".945" stop-color="#f3d800"/><stop offset=".949" stop-color="#efe300"/><stop offset=".963" stop-color="#e3f300"/><stop offset=".999" stop-color="#e2f300"/></linearGradient><linearGradient id="g67" gradientUnits="userSpaceOnUse" x1="130" x2="1170"><stop offset=".001" stop-color="#26c50d"/><stop offset=".053" stop-color="#10c230"/><stop offset=".095" stop-color="#01ce6a"/><stop offset=".199" stop-color="#00d37d"/><stop offset=".232" stop-color="#00dda4"/><stop offset=".263" stop-color="#00db9c"/><stop offset=".293" stop-color="#00d47e"/><stop offset=".401" stop-color="#00e2b5"/><stop offset=".434" stop-color="#00dda3"/><stop offset=".443" stop-color="#00db9d"/><stop offset=".466" stop-color="#00da9a"/><stop offset=".511" stop-color="#00d070"/><stop offset=".514" stop-color="#05c850"/><stop offset=".518" stop-color="#05c850"/><stop offset=".524" stop-color="#00d37d"/><stop offset=".536" stop-color="#00dca1"/><stop offset=".564" stop-color="#00edda"/><stop offset=".572" stop-color="#02eef0"/><stop offset=".593" stop-color="#0ae6f0"/><stop offset=".605" stop-color="#00f0f0"/><stop offset=".614" stop-color="#00dfac"/><stop offset=".622" stop-color="#00d070"/><stop offset=".637" stop-color="#09c43e"/><stop offset=".647" stop-color="#08c442"/><stop offset=".659" stop-color="#00d27a"/><stop offset=".662" stop-color="#00dda2"/><stop offset=".670" stop-color="#00efe8"/><stop offset=".678" stop-color="#0ce4f0"/><stop offset=".695" stop-color="#28c4f0"/><stop offset=".707" stop-color="#16d9f0"/><stop offset=".716" stop-color="#00efeb"/><stop offset=".734" stop-color="#00eacb"/><stop offset=".757" stop-color="#00edd5"/><stop offset=".768" stop-color="#03edf0"/><stop offset=".782" stop-color="#2db8f0"/><stop offset=".789" stop-color="#4088f0"/><stop offset=".832" stop-color="#3e8df0"/><stop offset=".834" stop-color="#f7cb00"/><stop offset=".861" stop-color="#f7bf00"/><stop offset=".887" stop-color="#f07500"/><stop offset=".920" stop-color="#f4ad00"/><stop offset=".943" stop-color="#f1dc00"/><stop offset=".957" stop-color="#e3f300"/><stop offset=".999" stop-color="#e6f300"/></linearGradient><linearGradient id="g68" gradientUnits="userSpaceOnUse" x1="130" x2="1170"><stop offset=".001" stop-color="#2ac608"/><stop offset=".039" stop-color="#1ac11e"/><stop offset=".074" stop-color="#05c850"/><stop offset=".097" stop-color="#01cf6b"/><stop offset=".205" stop-color="#00d175"/><stop offset=".222" stop-color="#00da96"/><stop offset=".255" stop-color="#00da99"/><stop offset=".276" stop-color="#00d47e"/><stop offset=".293" stop-color="#00d070"/><stop offset=".357" stop-color="#00db9e"/><stop offset=".409" stop-color="#00dfae"/><stop offset=".451" stop-color="#00da99"/><stop offset=".512" stop-color="#00d070"/><stop offset=".518" stop-color="#01ce6a"/><stop offset=".536" stop-color="#00db9c"/><stop offset=".564" stop-color="#00ecd3"/><stop offset=".572" stop-color="#00f0f0"/><stop offset=".595" stop-color="#05ebf0"/><stop offset=".603" stop-color="#00efeb"/><stop offset=".630" stop-color="#07c543"/><stop offset=".641" stop-color="#12c22d"/><stop offset=".653" stop-color="#08c440"/><stop offset=".668" stop-color="#00e4bc"/><stop offset=".672" stop-color="#00efe5"/><stop offset=".676" stop-color="#02eef0"/><stop offset=".697" stop-color="#2bbcf0"/><stop offset=".716" stop-color="#00efea"/><stop offset=".734" stop-color="#00e4bb"/><stop offset=".749" stop-color="#00e4bb"/><stop offset=".766" stop-color="#00eedd"/><stop offset=".774" stop-color="#04ecf0"/><stop offset=".786" stop-color="#2bbdf0"/><stop offset=".793" stop-color="#4088f0"/><stop offset=".830" stop-color="#3d8ff0"/><stop offset=".834" stop-color="#379ef0"/><stop offset=".836" stop-color="#f7cb00"/><stop offset=".863" stop-color="#f7c100"/><stop offset=".864" stop-color="#f4ac00"/><stop offset=".887" stop-color="#f06100"/><stop offset=".891" stop-color="#f06600"/><stop offset=".893" stop-color="#f07e00"/><stop offset=".897" stop-color="#f07900"/><stop offset=".899" stop-color="#f06b00"/><stop offset=".939" stop-color="#f3d800"/><stop offset=".953" stop-color="#e8f400"/><stop offset=".988" stop-color="#e1f200"/><stop offset=".999" stop-color="#e8f300"/></linearGradient><linearGradient id="g69" gradientUnits="userSpaceOnUse" x1="130" x2="1170"><stop offset=".001" stop-color="#2ac608"/><stop offset=".032" stop-color="#22c313"/><stop offset=".066" stop-color="#09c43e"/><stop offset=".086" stop-color="#02cd65"/><stop offset=".134" stop-color="#00d070"/><stop offset=".209" stop-color="#00d070"/><stop offset=".222" stop-color="#00d890"/><stop offset=".257" stop-color="#00d88e"/><stop offset=".280" stop-color="#00d070"/><stop offset=".309" stop-color="#00d276"/><stop offset=".391" stop-color="#00dea7"/><stop offset=".432" stop-color="#00db9b"/><stop offset=".518" stop-color="#00d175"/><stop offset=".566" stop-color="#00ecd2"/><stop offset=".574" stop-color="#00f0f0"/><stop offset=".601" stop-color="#00efea"/><stop offset=".618" stop-color="#00d583"/><stop offset=".620" stop-color="#00d070"/><stop offset=".624" stop-color="#03cb5d"/><stop offset=".630" stop-color="#0bc33a"/><stop offset=".639" stop-color="#1cc11a"/><stop offset=".649" stop-color="#17c022"/><stop offset=".657" stop-color="#08c43f"/><stop offset=".661" stop-color="#02ce66"/><stop offset=".664" stop-color="#00d37b"/><stop offset=".670" stop-color="#00e2b5"/><stop offset=".676" stop-color="#00f0f0"/><stop offset=".691" stop-color="#25c8f0"/><stop offset=".695" stop-color="#32acf0"/><stop offset=".699" stop-color="#32acf0"/><stop offset=".705" stop-color="#1cd2f0"/><stop offset=".716" stop-color="#00efea"/><stop offset=".736" stop-color="#00dda2"/><stop offset=".747" stop-color="#00dda4"/><stop offset=".772" stop-color="#00edda"/><stop offset=".782" stop-color="#06eaf0"/><stop offset=".795" stop-color="#379ff0"/><stop offset=".799" stop-color="#3d90f0"/><stop offset=".824" stop-color="#4088f0"/><stop offset=".836" stop-color="#2bbcf0"/><stop offset=".838" stop-color="#41cd00"/><stop offset=".839" stop-color="#41cd00"/><stop offset=".841" stop-color="#f7ca00"/><stop offset=".861" stop-color="#f7c100"/><stop offset=".863" stop-color="#f5b000"/><stop offset=".864" stop-color="#f19300"/><stop offset=".880" stop-color="#f07000"/><stop offset=".886" stop-color="#f06000"/><stop offset=".895" stop-color="#f06b00"/><stop offset=".901" stop-color="#f06000"/><stop offset=".918" stop-color="#f29b00"/><stop offset=".936" stop-color="#f6cd00"/><stop offset=".947" stop-color="#e5f300"/><stop offset=".991" stop-color="#e6f300"/><stop offset=".999" stop-color="#e9f300"/></linearGradient><linearGradient id="g70" gradientUnits="userSpaceOnUse" x1="130" x2="1170"><stop offset=".001" stop-color="#2ac608"/><stop offset=".037" stop-color="#22c312"/><stop offset=".061" stop-color="#0ec233"/><stop offset=".084" stop-color="#02ce66"/><stop offset=".145" stop-color="#00d070"/><stop offset=".207" stop-color="#00d070"/><stop offset=".228" stop-color="#00d78b"/><stop offset=".266" stop-color="#00d37b"/><stop offset=".280" stop-color="#00d06e"/><stop offset=".312" stop-color="#00d276"/><stop offset=".341" stop-color="#00d583"/><stop offset=".376" stop-color="#00db9c"/><stop offset=".422" stop-color="#00db9d"/><stop offset=".466" stop-color="#00d482"/><stop offset=".518" stop-color="#00d276"/><stop offset=".564" stop-color="#00e8c5"/><stop offset=".576" stop-color="#00f0f0"/><stop offset=".597" stop-color="#00efeb"/><stop offset=".618" stop-color="#00d47e"/><stop offset=".628" stop-color="#0bc33a"/><stop offset=".637" stop-color="#2ac608"/><stop offset=".651" stop-color="#25c40f"/><stop offset=".661" stop-color="#09c43e"/><stop offset=".678" stop-color="#00efe6"/><stop offset=".682" stop-color="#04ecf0"/><stop offset=".693" stop-color="#26c6f0"/><stop offset=".695" stop-color="#2db7f0"/><stop offset=".699" stop-color="#2db7f0"/><stop offset=".707" stop-color="#13dcf0"/><stop offset=".716" stop-color="#00f0f0"/><stop offset=".736" stop-color="#00d47e"/><stop offset=".743" stop-color="#00d37d"/><stop offset=".753" stop-color="#00db9e"/><stop offset=".780" stop-color="#00eddb"/><stop offset=".787" stop-color="#06eaf0"/><stop offset=".797" stop-color="#2db8f0"/><stop offset=".809" stop-color="#4088f0"/><stop offset=".822" stop-color="#3e8df0"/><stop offset=".836" stop-color="#1ecff0"/><stop offset=".838" stop-color="#10e0f0"/><stop offset=".843" stop-color="#00f0f0"/><stop offset=".845" stop-color="#4cd000"/><stop offset=".847" stop-color="#4dd000"/><stop offset=".849" stop-color="#f7ca00"/><stop offset=".859" stop-color="#f7c300"/><stop offset=".863" stop-color="#f07f00"/><stop offset=".876" stop-color="#f07400"/><stop offset=".884" stop-color="#f05f00"/><stop offset=".899" stop-color="#f05900"/><stop offset=".907" stop-color="#f06e00"/><stop offset=".916" stop-color="#f19500"/><stop offset=".922" stop-color="#f29d00"/><stop offset=".938" stop-color="#f4d300"/><stop offset=".943" stop-color="#e6f300"/><stop offset=".988" stop-color="#e6f300"/><stop offset=".999" stop-color="#e8f400"/></linearGradient><linearGradient id="g71" gradientUnits="userSpaceOnUse" x1="130" x2="1170"><stop offset=".001" stop-color="#2ac608"/><stop offset=".045" stop-color="#22c312"/><stop offset=".066" stop-color="#08c440"/><stop offset=".078" stop-color="#02ce66"/><stop offset=".145" stop-color="#00d070"/><stop offset=".197" stop-color="#00d06e"/><stop offset=".232" stop-color="#00d583"/><stop offset=".291" stop-color="#01cf6d"/><stop offset=".334" stop-color="#00d072"/><stop offset=".341" stop-color="#00d278"/><stop offset=".362" stop-color="#00d891"/><stop offset=".414" stop-color="#00db9b"/><stop offset=".455" stop-color="#00d278"/><stop offset=".466" stop-color="#00d27a"/><stop offset=".522" stop-color="#00d27a"/><stop offset=".562" stop-color="#00e4ba"/><stop offset=".574" stop-color="#00eedd"/><stop offset=".580" stop-color="#00f0f0"/><stop offset=".593" stop-color="#00efe8"/><stop offset=".616" stop-color="#00d68a"/><stop offset=".628" stop-color="#0ec335"/><stop offset=".637" stop-color="#2ac608"/><stop offset=".655" stop-color="#26c50d"/><stop offset=".661" stop-color="#14c128"/><stop offset=".664" stop-color="#07c543"/><stop offset=".666" stop-color="#02cd63"/><stop offset=".670" stop-color="#00d37b"/><stop offset=".674" stop-color="#00dea6"/><stop offset=".678" stop-color="#00e9c9"/><stop offset=".680" stop-color="#00eee3"/><stop offset=".682" stop-color="#00f0f0"/><stop offset=".697" stop-color="#1dd1f0"/><stop offset=".718" stop-color="#00efeb"/><stop offset=".724" stop-color="#00e4bb"/><stop offset=".732" stop-color="#00d686"/><stop offset=".734" stop-color="#00d070"/><stop offset=".747" stop-color="#00d175"/><stop offset=".757" stop-color="#00d995"/><stop offset=".782" stop-color="#00ebcd"/><stop offset=".789" stop-color="#00f0f0"/><stop offset=".803" stop-color="#2eb6f0"/><stop offset=".812" stop-color="#4088f0"/><stop offset=".818" stop-color="#3e8ef0"/><stop offset=".834" stop-color="#17d8f0"/><stop offset=".839" stop-color="#00f0f0"/><stop offset=".847" stop-color="#00edda"/><stop offset=".853" stop-color="#00e6c1"/><stop offset=".855" stop-color="#5ed500"/><stop offset=".857" stop-color="#67d800"/><stop offset=".859" stop-color="#f07900"/><stop offset=".876" stop-color="#f07000"/><stop offset=".891" stop-color="#f04f00"/><stop offset=".895" stop-color="#f04500"/><stop offset=".899" stop-color="#f05000"/><stop offset=".918" stop-color="#f19400"/><stop offset=".936" stop-color="#f8c800"/><stop offset=".945" stop-color="#ebeb00"/><stop offset=".978" stop-color="#e2f300"/><stop offset=".999" stop-color="#e5f300"/></linearGradient><linearGradient id="g72" gradientUnits="userSpaceOnUse" x1="130" x2="1170"><stop offset=".001" stop-color="#2ac608"/><stop offset=".049" stop-color="#25c40e"/><stop offset=".066" stop-color="#07c543"/><stop offset=".074" stop-color="#01cf6b"/><stop offset=".086" stop-color="#00d276"/><stop offset=".116" stop-color="#00d070"/><stop offset=".186" stop-color="#01ce6a"/><stop offset=".232" stop-color="#00d37b"/><stop offset=".255" stop-color="#00d070"/><stop offset=".299" stop-color="#00d06e"/><stop offset=".343" stop-color="#00d276"/><stop offset=".372" stop-color="#00d890"/><stop offset=".420" stop-color="#00d993"/><stop offset=".459" stop-color="#00d070"/><stop offset=".491" stop-color="#00d278"/><stop offset=".530" stop-color="#00d37d"/><stop offset=".564" stop-color="#00e2b4"/><stop offset=".584" stop-color="#00eedd"/><stop offset=".599" stop-color="#00e7c3"/><stop offset=".616" stop-color="#00d585"/><stop offset=".622" stop-color="#03cb5d"/><stop offset=".628" stop-color="#0fc232"/><stop offset=".636" stop-color="#2ac608"/><stop offset=".659" stop-color="#2ac608"/><stop offset=".668" stop-color="#06c74b"/><stop offset=".676" stop-color="#00db9d"/><stop offset=".686" stop-color="#02eef0"/><stop offset=".701" stop-color="#0fe1f0"/><stop offset=".716" stop-color="#00f0f0"/><stop offset=".718" stop-color="#00efe8"/><stop offset=".722" stop-color="#00e6c0"/><stop offset=".730" stop-color="#00d78b"/><stop offset=".732" stop-color="#00d276"/><stop offset=".743" stop-color="#01ce6a"/><stop offset=".774" stop-color="#00dda4"/><stop offset=".787" stop-color="#00ecd2"/><stop offset=".793" stop-color="#00f0f0"/><stop offset=".809" stop-color="#2fb2f0"/><stop offset=".816" stop-color="#34a5f0"/><stop offset=".830" stop-color="#1cd2f0"/><stop offset=".838" stop-color="#00f0f0"/><stop offset=".855" stop-color="#00dda5"/><stop offset=".857" stop-color="#00da99"/><stop offset=".859" stop-color="#a6e600"/><stop offset=".861" stop-color="#f07500"/><stop offset=".880" stop-color="#f06800"/><stop offset=".895" stop-color="#f04900"/><stop offset=".914" stop-color="#f08400"/><stop offset=".936" stop-color="#f7c200"/><stop offset=".949" stop-color="#eee500"/><stop offset=".964" stop-color="#e2f300"/><stop offset=".999" stop-color="#e3f300"/></linearGradient><linearGradient id="g73" gradientUnits="userSpaceOnUse" x1="130" x2="1170"><stop offset=".001" stop-color="#2ac608"/><stop offset=".053" stop-color="#2ac608"/><stop offset=".066" stop-color="#07c648"/><stop offset=".070" stop-color="#00d070"/><stop offset=".078" stop-color="#00d37b"/><stop offset=".082" stop-color="#00d890"/><stop offset=".086" stop-color="#00d890"/><stop offset=".091" stop-color="#00d175"/><stop offset=".153" stop-color="#01ce6a"/><stop offset=".191" stop-color="#01cf6b"/><stop offset=".228" stop-color="#00d276"/><stop offset=".261" stop-color="#00d06e"/><stop offset=".295" stop-color="#01cf6d"/><stop offset=".343" stop-color="#00d175"/><stop offset=".389" stop-color="#00d890"/><stop offset=".426" stop-color="#00d68a"/><stop offset=".453" stop-color="#00d070"/><stop offset=".507" stop-color="#00d175"/><stop offset=".539" stop-color="#00d37b"/><stop offset=".584" stop-color="#00e9c9"/><stop offset=".599" stop-color="#00e3b9"/><stop offset=".616" stop-color="#00d482"/><stop offset=".620" stop-color="#00d070"/><stop offset=".624" stop-color="#07c545"/><stop offset=".636" stop-color="#2ac608"/><stop offset=".662" stop-color="#2ac608"/><stop offset=".670" stop-color="#0ac43d"/><stop offset=".672" stop-color="#03cc5e"/><stop offset=".678" stop-color="#00d482"/><stop offset=".684" stop-color="#00e6c1"/><stop offset=".688" stop-color="#00f0f0"/><stop offset=".711" stop-color="#02eef0"/><stop offset=".716" stop-color="#00efe8"/><stop offset=".720" stop-color="#00e7c2"/><stop offset=".732" stop-color="#00d070"/><stop offset=".745" stop-color="#03cc5e"/><stop offset=".768" stop-color="#00d480"/><stop offset=".787" stop-color="#00e6bf"/><stop offset=".795" stop-color="#00f0f0"/><stop offset=".812" stop-color="#29c2f0"/><stop offset=".824" stop-color="#22cbf0"/><stop offset=".838" stop-color="#00f0ed"/><stop offset=".847" stop-color="#00e2b5"/><stop offset=".853" stop-color="#00da99"/><stop offset=".859" stop-color="#00d070"/><stop offset=".861" stop-color="#afe800"/><stop offset=".863" stop-color="#f07500"/><stop offset=".884" stop-color="#f06500"/><stop offset=".897" stop-color="#f05900"/><stop offset=".905" stop-color="#f06d00"/><stop offset=".914" stop-color="#f08300"/><stop offset=".945" stop-color="#f3d800"/><stop offset=".966" stop-color="#e2f300"/><stop offset=".995" stop-color="#e3f300"/><stop offset=".999" stop-color="#e3f300"/></linearGradient><linearGradient id="g74" gradientUnits="userSpaceOnUse" x1="130" x2="1170"><stop offset=".001" stop-color="#2ac608"/><stop offset=".051" stop-color="#2ac608"/><stop offset=".066" stop-color="#07c543"/><stop offset=".070" stop-color="#01ce68"/><stop offset=".080" stop-color="#00d47e"/><stop offset=".084" stop-color="#00d68a"/><stop offset=".095" stop-color="#00d070"/><stop offset=".139" stop-color="#00d06e"/><stop offset=".174" stop-color="#02cc62"/><stop offset=".224" stop-color="#00d175"/><stop offset=".287" stop-color="#02cd65"/><stop offset=".309" stop-color="#00d06e"/><stop offset=".343" stop-color="#00d173"/><stop offset=".409" stop-color="#00d78d"/><stop offset=".453" stop-color="#00d06e"/><stop offset=".514" stop-color="#00d175"/><stop offset=".543" stop-color="#00d175"/><stop offset=".561" stop-color="#00db9c"/><stop offset=".588" stop-color="#00e5be"/><stop offset=".605" stop-color="#00dda3"/><stop offset=".618" stop-color="#00d173"/><stop offset=".620" stop-color="#01ce6a"/><stop offset=".624" stop-color="#08c43f"/><stop offset=".636" stop-color="#2ac608"/><stop offset=".661" stop-color="#2cc705"/><stop offset=".668" stop-color="#23c411"/><stop offset=".676" stop-color="#06c64a"/><stop offset=".680" stop-color="#00d070"/><stop offset=".689" stop-color="#00edd5"/><stop offset=".699" stop-color="#01eff0"/><stop offset=".711" stop-color="#00efea"/><stop offset=".714" stop-color="#00eee0"/><stop offset=".722" stop-color="#00dea6"/><stop offset=".730" stop-color="#00d070"/><stop offset=".743" stop-color="#05c850"/><stop offset=".766" stop-color="#02ce66"/><stop offset=".778" stop-color="#00d27a"/><stop offset=".795" stop-color="#00eddb"/><stop offset=".799" stop-color="#02eef0"/><stop offset=".816" stop-color="#1ecff0"/><stop offset=".830" stop-color="#10e0f0"/><stop offset=".836" stop-color="#00f0f0"/><stop offset=".849" stop-color="#00d995"/><stop offset=".851" stop-color="#00d37b"/><stop offset=".861" stop-color="#01cf6d"/><stop offset=".863" stop-color="#afe800"/><stop offset=".864" stop-color="#f07500"/><stop offset=".880" stop-color="#f06d00"/><stop offset=".884" stop-color="#f07200"/><stop offset=".889" stop-color="#f05f00"/><stop offset=".899" stop-color="#f06000"/><stop offset=".907" stop-color="#f08300"/><stop offset=".920" stop-color="#f29800"/><stop offset=".949" stop-color="#f2d900"/><stop offset=".970" stop-color="#e1f200"/><stop offset=".984" stop-color="#e8f400"/><stop offset=".999" stop-color="#e2f300"/></linearGradient><linearGradient id="g75" gradientUnits="userSpaceOnUse" x1="130" x2="1170"><stop offset=".001" stop-color="#2ac608"/><stop offset=".049" stop-color="#29c60a"/><stop offset=".068" stop-color="#07c545"/><stop offset=".078" stop-color="#00d070"/><stop offset=".118" stop-color="#00d173"/><stop offset=".122" stop-color="#00d890"/><stop offset=".126" stop-color="#00d890"/><stop offset=".132" stop-color="#00d173"/><stop offset=".166" stop-color="#03cc5e"/><stop offset=".224" stop-color="#00d173"/><stop offset=".280" stop-color="#03cc60"/><stop offset=".305" stop-color="#00d06e"/><stop offset=".328" stop-color="#01ce6a"/><stop offset=".411" stop-color="#00d686"/><stop offset=".453" stop-color="#01cf6d"/><stop offset=".518" stop-color="#00d173"/><stop offset=".545" stop-color="#00d072"/><stop offset=".568" stop-color="#00db9d"/><stop offset=".591" stop-color="#00e4bb"/><stop offset=".613" stop-color="#00d688"/><stop offset=".618" stop-color="#00d070"/><stop offset=".626" stop-color="#10c231"/><stop offset=".634" stop-color="#2ac608"/><stop offset=".659" stop-color="#30c800"/><stop offset=".672" stop-color="#25c40f"/><stop offset=".680" stop-color="#08c440"/><stop offset=".682" stop-color="#03cb5b"/><stop offset=".684" stop-color="#02cd65"/><stop offset=".686" stop-color="#00d37d"/><stop offset=".695" stop-color="#00e3b9"/><stop offset=".705" stop-color="#00ebcd"/><stop offset=".714" stop-color="#00e4bc"/><stop offset=".726" stop-color="#00d47e"/><stop offset=".738" stop-color="#07c648"/><stop offset=".751" stop-color="#08c43f"/><stop offset=".782" stop-color="#00d070"/><stop offset=".801" stop-color="#02eef0"/><stop offset=".822" stop-color="#16d9f0"/><stop offset=".836" stop-color="#00f0f0"/><stop offset=".849" stop-color="#00d78b"/><stop offset=".851" stop-color="#00d070"/><stop offset=".863" stop-color="#03cc5e"/><stop offset=".866" stop-color="#04ca5a"/><stop offset=".868" stop-color="#b4e900"/><stop offset=".870" stop-color="#f29b00"/><stop offset=".874" stop-color="#f19300"/><stop offset=".876" stop-color="#f08400"/><stop offset=".878" stop-color="#f19200"/><stop offset=".884" stop-color="#f08f00"/><stop offset=".889" stop-color="#f06b00"/><stop offset=".895" stop-color="#f06000"/><stop offset=".909" stop-color="#f08600"/><stop offset=".951" stop-color="#f3d600"/><stop offset=".972" stop-color="#eaf000"/><stop offset=".999" stop-color="#e2f300"/></linearGradient><linearGradient id="g76" gradientUnits="userSpaceOnUse" x1="130" x2="1170"><stop offset=".001" stop-color="#2ac608"/><stop offset=".034" stop-color="#2dc704"/><stop offset=".051" stop-color="#23c411"/><stop offset=".074" stop-color="#05c850"/><stop offset=".087" stop-color="#01ce68"/><stop offset=".118" stop-color="#00d276"/><stop offset=".124" stop-color="#00d688"/><stop offset=".138" stop-color="#01cf6b"/><stop offset=".166" stop-color="#04ca5a"/><stop offset=".197" stop-color="#01cf6d"/><stop offset=".234" stop-color="#01cf6d"/><stop offset=".278" stop-color="#03cb5b"/><stop offset=".318" stop-color="#02cc62"/><stop offset=".370" stop-color="#00d276"/><stop offset=".393" stop-color="#00d37b"/><stop offset=".420" stop-color="#00d37d"/><stop offset=".451" stop-color="#01ce6a"/><stop offset=".511" stop-color="#00d173"/><stop offset=".547" stop-color="#00d072"/><stop offset=".591" stop-color="#00dfae"/><stop offset=".613" stop-color="#00d585"/><stop offset=".618" stop-color="#00d070"/><stop offset=".624" stop-color="#0cc337"/><stop offset=".632" stop-color="#28c50b"/><stop offset=".647" stop-color="#38ca00"/><stop offset=".676" stop-color="#2ac608"/><stop offset=".686" stop-color="#07c648"/><stop offset=".688" stop-color="#02cd63"/><stop offset=".693" stop-color="#00d480"/><stop offset=".697" stop-color="#00db9d"/><stop offset=".707" stop-color="#00e0b1"/><stop offset=".718" stop-color="#00da99"/><stop offset=".736" stop-color="#0ac43d"/><stop offset=".751" stop-color="#0ec234"/><stop offset=".770" stop-color="#06c84e"/><stop offset=".786" stop-color="#00d070"/><stop offset=".795" stop-color="#00e2b6"/><stop offset=".801" stop-color="#00eee3"/><stop offset=".811" stop-color="#06eaf0"/><stop offset=".828" stop-color="#11dff0"/><stop offset=".836" stop-color="#00f0f0"/><stop offset=".849" stop-color="#00d688"/><stop offset=".851" stop-color="#00d070"/><stop offset=".863" stop-color="#04ca5a"/><stop offset=".864" stop-color="#06c64a"/><stop offset=".866" stop-color="#06c64a"/><stop offset=".868" stop-color="#f3d600"/><stop offset=".870" stop-color="#f3d600"/><stop offset=".872" stop-color="#f7c000"/><stop offset=".882" stop-color="#f5b200"/><stop offset=".884" stop-color="#f6b700"/><stop offset=".889" stop-color="#f08b00"/><stop offset=".897" stop-color="#f07f00"/><stop offset=".957" stop-color="#f3d800"/><stop offset=".976" stop-color="#e3f300"/><stop offset=".997" stop-color="#e4f300"/><stop offset=".999" stop-color="#f0e000"/></linearGradient><linearGradient id="g77" gradientUnits="userSpaceOnUse" x1="130" x2="1170"><stop offset=".001" stop-color="#2ac608"/><stop offset=".028" stop-color="#32c900"/><stop offset=".053" stop-color="#20c316"/><stop offset=".086" stop-color="#05c955"/><stop offset=".109" stop-color="#00d070"/><stop offset=".132" stop-color="#01cf6d"/><stop offset=".157" stop-color="#04ca56"/><stop offset=".189" stop-color="#03cc60"/><stop offset=".207" stop-color="#00d070"/><stop offset=".234" stop-color="#01ce6a"/><stop offset=".270" stop-color="#04ca56"/><stop offset=".339" stop-color="#02ce66"/><stop offset=".378" stop-color="#00d070"/><stop offset=".397" stop-color="#00d27a"/><stop offset=".424" stop-color="#00d175"/><stop offset=".453" stop-color="#01ce68"/><stop offset=".505" stop-color="#00d173"/><stop offset=".545" stop-color="#01cf6d"/><stop offset=".574" stop-color="#00d68a"/><stop offset=".591" stop-color="#00dda2"/><stop offset=".611" stop-color="#00d688"/><stop offset=".618" stop-color="#00d070"/><stop offset=".622" stop-color="#08c440"/><stop offset=".632" stop-color="#2ac608"/><stop offset=".653" stop-color="#41cd00"/><stop offset=".680" stop-color="#2ac608"/><stop offset=".689" stop-color="#07c543"/><stop offset=".695" stop-color="#00d070"/><stop offset=".703" stop-color="#00d995"/><stop offset=".713" stop-color="#00da97"/><stop offset=".724" stop-color="#00d070"/><stop offset=".732" stop-color="#0ac43d"/><stop offset=".743" stop-color="#16c023"/><stop offset=".772" stop-color="#07c545"/><stop offset=".789" stop-color="#00d278"/><stop offset=".795" stop-color="#00dda5"/><stop offset=".811" stop-color="#00efea"/><stop offset=".830" stop-color="#15daf0"/><stop offset=".838" stop-color="#00f0f0"/><stop offset=".845" stop-color="#00dfab"/><stop offset=".849" stop-color="#00d78b"/><stop offset=".851" stop-color="#00d070"/><stop offset=".855" stop-color="#02cd63"/><stop offset=".863" stop-color="#0ac43c"/><stop offset=".864" stop-color="#0ac43c"/><stop offset=".866" stop-color="#13c12a"/><stop offset=".868" stop-color="#f3d600"/><stop offset=".872" stop-color="#f3d600"/><stop offset=".878" stop-color="#f6b900"/><stop offset=".887" stop-color="#f3a400"/><stop offset=".899" stop-color="#f19400"/><stop offset=".964" stop-color="#f2d900"/><stop offset=".976" stop-color="#e0f200"/><stop offset=".995" stop-color="#e7f400"/><stop offset=".997" stop-color="#f0e000"/><stop offset=".999" stop-color="#f0e000"/></linearGradient><linearGradient id="g78" gradientUnits="userSpaceOnUse" x1="130" x2="1170"><stop offset=".001" stop-color="#2ac608"/><stop offset=".022" stop-color="#3dcc00"/><stop offset=".051" stop-color="#22c313"/><stop offset=".091" stop-color="#06c84e"/><stop offset=".113" stop-color="#02cd63"/><stop offset=".138" stop-color="#03cb5b"/><stop offset=".172" stop-color="#05c852"/><stop offset=".197" stop-color="#02ce66"/><stop offset=".207" stop-color="#00d070"/><stop offset=".232" stop-color="#01cf6b"/><stop offset=".261" stop-color="#05c852"/><stop offset=".332" stop-color="#03cb5b"/><stop offset=".378" stop-color="#00d06e"/><stop offset=".418" stop-color="#00d276"/><stop offset=".449" stop-color="#02cd63"/><stop offset=".486" stop-color="#00d072"/><stop offset=".534" stop-color="#01ce6a"/><stop offset=".553" stop-color="#02cd63"/><stop offset=".574" stop-color="#00d175"/><stop offset=".586" stop-color="#00da96"/><stop offset=".603" stop-color="#00d994"/><stop offset=".618" stop-color="#00d070"/><stop offset=".622" stop-color="#09c43e"/><stop offset=".630" stop-color="#2ac608"/><stop offset=".651" stop-color="#4dd000"/><stop offset=".682" stop-color="#2bc607"/><stop offset=".686" stop-color="#25c40e"/><stop offset=".695" stop-color="#05c955"/><stop offset=".699" stop-color="#00d070"/><stop offset=".709" stop-color="#00d68a"/><stop offset=".722" stop-color="#01ce6a"/><stop offset=".730" stop-color="#0cc339"/><stop offset=".739" stop-color="#25c40f"/><stop offset=".772" stop-color="#0ac33b"/><stop offset=".791" stop-color="#00d276"/><stop offset=".799" stop-color="#00deaa"/><stop offset=".818" stop-color="#02eef0"/><stop offset=".828" stop-color="#18d7f0"/><stop offset=".838" stop-color="#00f0f0"/><stop offset=".847" stop-color="#00dca0"/><stop offset=".855" stop-color="#01ce6a"/><stop offset=".859" stop-color="#0cc337"/><stop offset=".864" stop-color="#1dc21a"/><stop offset=".866" stop-color="#1dc21a"/><stop offset=".868" stop-color="#efe200"/><stop offset=".876" stop-color="#f7ca00"/><stop offset=".880" stop-color="#f6b700"/><stop offset=".903" stop-color="#f3a400"/><stop offset=".970" stop-color="#f2d900"/><stop offset=".980" stop-color="#e6f300"/><stop offset=".989" stop-color="#e5f300"/><stop offset=".993" stop-color="#e9f200"/><stop offset=".995" stop-color="#f0e000"/><stop offset=".999" stop-color="#f2db00"/></linearGradient><linearGradient id="g79" gradientUnits="userSpaceOnUse" x1="130" x2="1170"><stop offset=".001" stop-color="#2fc802"/><stop offset=".018" stop-color="#49cf00"/><stop offset=".028" stop-color="#3dcc00"/><stop offset=".036" stop-color="#2ac608"/><stop offset=".097" stop-color="#07c648"/><stop offset=".120" stop-color="#04ca56"/><stop offset=".172" stop-color="#06c74b"/><stop offset=".199" stop-color="#02cd63"/><stop offset=".214" stop-color="#01cf6d"/><stop offset=".232" stop-color="#02ce66"/><stop offset=".255" stop-color="#06c84e"/><stop offset=".324" stop-color="#05c850"/><stop offset=".409" stop-color="#00d276"/><stop offset=".430" stop-color="#02ce66"/><stop offset=".453" stop-color="#03cc5e"/><stop offset=".474" stop-color="#00d072"/><stop offset=".532" stop-color="#01ce6a"/><stop offset=".555" stop-color="#06c74b"/><stop offset=".568" stop-color="#04ca56"/><stop offset=".588" stop-color="#00d992"/><stop offset=".603" stop-color="#00d992"/><stop offset=".618" stop-color="#00d070"/><stop offset=".622" stop-color="#0ac33b"/><stop offset=".630" stop-color="#2ac608"/><stop offset=".645" stop-color="#55d300"/><stop offset=".649" stop-color="#61d600"/><stop offset=".670" stop-color="#36ca00"/><stop offset=".688" stop-color="#26c50d"/><stop offset=".697" stop-color="#07c648"/><stop offset=".703" stop-color="#00d072"/><stop offset=".713" stop-color="#00d276"/><stop offset=".720" stop-color="#03cb5d"/><stop offset=".736" stop-color="#20c315"/><stop offset=".738" stop-color="#2ac608"/><stop offset=".753" stop-color="#23c411"/><stop offset=".782" stop-color="#06c74b"/><stop offset=".793" stop-color="#00d276"/><stop offset=".801" stop-color="#00dda4"/><stop offset=".822" stop-color="#02eef0"/><stop offset=".832" stop-color="#09e7f0"/><stop offset=".839" stop-color="#00efea"/><stop offset=".843" stop-color="#00e6bf"/><stop offset=".855" stop-color="#00d070"/><stop offset=".857" stop-color="#0cc338"/><stop offset=".859" stop-color="#20c316"/><stop offset=".863" stop-color="#2fc802"/><stop offset=".864" stop-color="#42cd00"/><stop offset=".866" stop-color="#87df00"/><stop offset=".868" stop-color="#bfeb00"/><stop offset=".870" stop-color="#e8f400"/><stop offset=".884" stop-color="#f7be00"/><stop offset=".914" stop-color="#f5af00"/><stop offset=".974" stop-color="#f6cf00"/><stop offset=".988" stop-color="#e7f400"/><stop offset=".989" stop-color="#e2f300"/><stop offset=".999" stop-color="#f4d500"/></linearGradient><linearGradient id="g80" gradientUnits="userSpaceOnUse" x1="130" x2="1170"><stop offset=".001" stop-color="#34c900"/><stop offset=".020" stop-color="#52d200"/><stop offset=".026" stop-color="#57d300"/><stop offset=".032" stop-color="#31c800"/><stop offset=".045" stop-color="#25c40e"/><stop offset=".111" stop-color="#07c648"/><stop offset=".180" stop-color="#07c648"/><stop offset=".214" stop-color="#02cc62"/><stop offset=".241" stop-color="#05c850"/><stop offset=".287" stop-color="#07c543"/><stop offset=".355" stop-color="#04ca58"/><stop offset=".391" stop-color="#00d072"/><stop offset=".422" stop-color="#01cf6d"/><stop offset=".441" stop-color="#04ca56"/><stop offset=".463" stop-color="#02ce66"/><stop offset=".472" stop-color="#00d070"/><stop offset=".532" stop-color="#01ce6a"/><stop offset=".551" stop-color="#0bc33a"/><stop offset=".566" stop-color="#0ac33b"/><stop offset=".574" stop-color="#04ca5a"/><stop offset=".588" stop-color="#00d88e"/><stop offset=".603" stop-color="#00d992"/><stop offset=".618" stop-color="#01ce68"/><stop offset=".622" stop-color="#0cc337"/><stop offset=".628" stop-color="#2ac608"/><stop offset=".639" stop-color="#43cd00"/><stop offset=".647" stop-color="#68d800"/><stop offset=".651" stop-color="#68d800"/><stop offset=".662" stop-color="#44ce00"/><stop offset=".688" stop-color="#2ac608"/><stop offset=".699" stop-color="#09c43e"/><stop offset=".703" stop-color="#02cc62"/><stop offset=".713" stop-color="#02cd65"/><stop offset=".734" stop-color="#1cc11b"/><stop offset=".739" stop-color="#2ac608"/><stop offset=".759" stop-color="#27c50c"/><stop offset=".786" stop-color="#05c850"/><stop offset=".805" stop-color="#00dea6"/><stop offset=".822" stop-color="#00eee0"/><stop offset=".828" stop-color="#02eef0"/><stop offset=".838" stop-color="#00f0f0"/><stop offset=".839" stop-color="#00efe6"/><stop offset=".843" stop-color="#00e4bc"/><stop offset=".855" stop-color="#00d070"/><stop offset=".857" stop-color="#0dc336"/><stop offset=".859" stop-color="#23c411"/><stop offset=".861" stop-color="#2ac608"/><stop offset=".866" stop-color="#87df00"/><stop offset=".868" stop-color="#93e200"/><stop offset=".870" stop-color="#c9ed00"/><stop offset=".874" stop-color="#eaf000"/><stop offset=".887" stop-color="#f7ca00"/><stop offset=".916" stop-color="#f6b600"/><stop offset=".974" stop-color="#f6b700"/><stop offset=".984" stop-color="#f7cc00"/><stop offset=".991" stop-color="#f2d900"/><stop offset=".999" stop-color="#f5d200"/></linearGradient><linearGradient id="g81" gradientUnits="userSpaceOnUse" x1="130" x2="1170"><stop offset=".001" stop-color="#37ca00"/><stop offset=".018" stop-color="#4dd000"/><stop offset=".024" stop-color="#5fd500"/><stop offset=".026" stop-color="#5fd500"/><stop offset=".032" stop-color="#2fc801"/><stop offset=".107" stop-color="#0ac43d"/><stop offset=".188" stop-color="#07c646"/><stop offset=".220" stop-color="#04ca56"/><stop offset=".272" stop-color="#09c43e"/><stop offset=".347" stop-color="#06c74b"/><stop offset=".376" stop-color="#02ce66"/><stop offset=".386" stop-color="#00d070"/><stop offset=".416" stop-color="#01cf6d"/><stop offset=".438" stop-color="#06c84e"/><stop offset=".459" stop-color="#04ca58"/><stop offset=".472" stop-color="#00d070"/><stop offset=".534" stop-color="#01ce6a"/><stop offset=".547" stop-color="#0ec233"/><stop offset=".561" stop-color="#16c023"/><stop offset=".570" stop-color="#0ec335"/><stop offset=".582" stop-color="#00d278"/><stop offset=".593" stop-color="#00da96"/><stop offset=".607" stop-color="#00d78d"/><stop offset=".616" stop-color="#00d070"/><stop offset=".622" stop-color="#0dc336"/><stop offset=".628" stop-color="#27c50c"/><stop offset=".637" stop-color="#3ccb00"/><stop offset=".649" stop-color="#5ed500"/><stop offset=".682" stop-color="#2ec703"/><stop offset=".689" stop-color="#2ac608"/><stop offset=".703" stop-color="#0ac33b"/><stop offset=".713" stop-color="#08c442"/><stop offset=".743" stop-color="#29c609"/><stop offset=".762" stop-color="#25c40e"/><stop offset=".787" stop-color="#06c84e"/><stop offset=".805" stop-color="#00db9c"/><stop offset=".826" stop-color="#00edda"/><stop offset=".830" stop-color="#00efe5"/><stop offset=".838" stop-color="#00eee0"/><stop offset=".845" stop-color="#00dea6"/><stop offset=".853" stop-color="#00d175"/><stop offset=".855" stop-color="#00d070"/><stop offset=".857" stop-color="#0bc33a"/><stop offset=".861" stop-color="#2ac608"/><stop offset=".863" stop-color="#4bd000"/><stop offset=".864" stop-color="#78dc00"/><stop offset=".866" stop-color="#beeb00"/><stop offset=".868" stop-color="#a1e500"/><stop offset=".870" stop-color="#d2ef00"/><stop offset=".874" stop-color="#e6f300"/><stop offset=".895" stop-color="#f5d000"/><stop offset=".922" stop-color="#f7be00"/><stop offset=".963" stop-color="#f4a700"/><stop offset=".980" stop-color="#f5ae00"/><stop offset=".995" stop-color="#f8c900"/><stop offset=".999" stop-color="#f7ca00"/></linearGradient><linearGradient id="g82" gradientUnits="userSpaceOnUse" x1="130" x2="1170"><stop offset=".001" stop-color="#36ca00"/><stop offset=".024" stop-color="#49cf00"/><stop offset=".030" stop-color="#31c800"/><stop offset=".039" stop-color="#28c50a"/><stop offset=".120" stop-color="#0bc33a"/><stop offset=".195" stop-color="#07c545"/><stop offset=".232" stop-color="#07c646"/><stop offset=".299" stop-color="#0ac33b"/><stop offset=".359" stop-color="#06c64a"/><stop offset=".376" stop-color="#02cc62"/><stop offset=".382" stop-color="#00d070"/><stop offset=".411" stop-color="#01cf6b"/><stop offset=".434" stop-color="#07c646"/><stop offset=".455" stop-color="#06c64a"/><stop offset=".474" stop-color="#00d070"/><stop offset=".505" stop-color="#01cf6b"/><stop offset=".518" stop-color="#01ce6a"/><stop offset=".536" stop-color="#00d070"/><stop offset=".541" stop-color="#09c43e"/><stop offset=".557" stop-color="#26c50e"/><stop offset=".568" stop-color="#22c312"/><stop offset=".576" stop-color="#04ca56"/><stop offset=".578" stop-color="#01cf6b"/><stop offset=".593" stop-color="#00db9b"/><stop offset=".605" stop-color="#00d993"/><stop offset=".616" stop-color="#00d070"/><stop offset=".622" stop-color="#0dc336"/><stop offset=".632" stop-color="#2dc704"/><stop offset=".651" stop-color="#59d400"/><stop offset=".684" stop-color="#2dc704"/><stop offset=".693" stop-color="#21c314"/><stop offset=".707" stop-color="#0fc232"/><stop offset=".724" stop-color="#14c129"/><stop offset=".749" stop-color="#2ac608"/><stop offset=".762" stop-color="#2ac608"/><stop offset=".786" stop-color="#09c43e"/><stop offset=".807" stop-color="#00da99"/><stop offset=".830" stop-color="#00e8c4"/><stop offset=".839" stop-color="#00e2b4"/><stop offset=".853" stop-color="#00d070"/><stop offset=".859" stop-color="#17c022"/><stop offset=".863" stop-color="#31c800"/><stop offset=".866" stop-color="#67d800"/><stop offset=".870" stop-color="#87df00"/><stop offset=".872" stop-color="#c9ed00"/><stop offset=".878" stop-color="#e3f300"/><stop offset=".901" stop-color="#f3d800"/><stop offset=".939" stop-color="#f6b700"/><stop offset=".941" stop-color="#f3a100"/><stop offset=".945" stop-color="#f29800"/><stop offset=".955" stop-color="#f39f00"/><stop offset=".974" stop-color="#f19500"/><stop offset=".999" stop-color="#f7bf00"/></linearGradient><linearGradient id="g83" gradientUnits="userSpaceOnUse" x1="130" x2="1170"><stop offset=".001" stop-color="#35c900"/><stop offset=".024" stop-color="#37ca00"/><stop offset=".034" stop-color="#29c609"/><stop offset=".130" stop-color="#0dc336"/><stop offset=".236" stop-color="#09c43e"/><stop offset=".341" stop-color="#0ac43c"/><stop offset=".370" stop-color="#06c74b"/><stop offset=".384" stop-color="#01cf6b"/><stop offset=".403" stop-color="#01ce6a"/><stop offset=".428" stop-color="#08c440"/><stop offset=".459" stop-color="#07c543"/><stop offset=".476" stop-color="#00d070"/><stop offset=".497" stop-color="#01ce6a"/><stop offset=".511" stop-color="#05c953"/><stop offset=".522" stop-color="#02cd63"/><stop offset=".528" stop-color="#00d070"/><stop offset=".537" stop-color="#01ce6a"/><stop offset=".539" stop-color="#06c64a"/><stop offset=".547" stop-color="#1fc216"/><stop offset=".557" stop-color="#2ac608"/><stop offset=".568" stop-color="#26c50e"/><stop offset=".574" stop-color="#08c442"/><stop offset=".578" stop-color="#00d070"/><stop offset=".597" stop-color="#00dfac"/><stop offset=".616" stop-color="#00d070"/><stop offset=".620" stop-color="#07c543"/><stop offset=".630" stop-color="#2ac608"/><stop offset=".651" stop-color="#5dd500"/><stop offset=".678" stop-color="#32c900"/><stop offset=".695" stop-color="#22c313"/><stop offset=".713" stop-color="#14c129"/><stop offset=".757" stop-color="#2ac608"/><stop offset=".780" stop-color="#12c12b"/><stop offset=".791" stop-color="#06c74b"/><stop offset=".797" stop-color="#00d070"/><stop offset=".816" stop-color="#00dda2"/><stop offset=".832" stop-color="#00e0af"/><stop offset=".843" stop-color="#00da96"/><stop offset=".853" stop-color="#02ce66"/><stop offset=".855" stop-color="#07c646"/><stop offset=".863" stop-color="#2ac608"/><stop offset=".864" stop-color="#30c800"/><stop offset=".870" stop-color="#7edd00"/><stop offset=".872" stop-color="#87df00"/><stop offset=".876" stop-color="#c2ec00"/><stop offset=".878" stop-color="#d7f000"/><stop offset=".887" stop-color="#eaee00"/><stop offset=".924" stop-color="#f6cd00"/><stop offset=".939" stop-color="#f5b000"/><stop offset=".941" stop-color="#f08c00"/><stop offset=".957" stop-color="#f08f00"/><stop offset=".972" stop-color="#f08000"/><stop offset=".991" stop-color="#f4aa00"/><stop offset=".999" stop-color="#f6b800"/></linearGradient><linearGradient id="g84" gradientUnits="userSpaceOnUse" x1="130" x2="1170"><stop offset=".001" stop-color="#32c900"/><stop offset=".026" stop-color="#2bc606"/><stop offset=".095" stop-color="#16c125"/><stop offset=".174" stop-color="#0dc336"/><stop offset=".245" stop-color="#0cc337"/><stop offset=".364" stop-color="#0ac43d"/><stop offset=".393" stop-color="#04ca5a"/><stop offset=".428" stop-color="#0cc339"/><stop offset=".464" stop-color="#08c440"/><stop offset=".484" stop-color="#02ce66"/><stop offset=".511" stop-color="#08c43f"/><stop offset=".524" stop-color="#06c74b"/><stop offset=".534" stop-color="#03cc60"/><stop offset=".537" stop-color="#04ca5a"/><stop offset=".539" stop-color="#0bc33a"/><stop offset=".545" stop-color="#26c50e"/><stop offset=".566" stop-color="#2ac608"/><stop offset=".574" stop-color="#06c84e"/><stop offset=".576" stop-color="#00d070"/><stop offset=".593" stop-color="#00dda5"/><stop offset=".597" stop-color="#00e0b0"/><stop offset=".601" stop-color="#00dda5"/><stop offset=".616" stop-color="#00d070"/><stop offset=".622" stop-color="#0cc338"/><stop offset=".632" stop-color="#2bc607"/><stop offset=".647" stop-color="#54d200"/><stop offset=".651" stop-color="#5fd500"/><stop offset=".670" stop-color="#39cb00"/><stop offset=".695" stop-color="#26c50e"/><stop offset=".716" stop-color="#18c020"/><stop offset=".759" stop-color="#29c609"/><stop offset=".789" stop-color="#0cc339"/><stop offset=".795" stop-color="#05c953"/><stop offset=".799" stop-color="#00d070"/><stop offset=".820" stop-color="#00db9b"/><stop offset=".836" stop-color="#00da9a"/><stop offset=".845" stop-color="#00d47e"/><stop offset=".849" stop-color="#00d070"/><stop offset=".857" stop-color="#10c230"/><stop offset=".864" stop-color="#2ac608"/><stop offset=".870" stop-color="#65d700"/><stop offset=".872" stop-color="#7fdd00"/><stop offset=".874" stop-color="#87df00"/><stop offset=".880" stop-color="#c9ed00"/><stop offset=".884" stop-color="#e0f200"/><stop offset=".899" stop-color="#e8f300"/><stop offset=".916" stop-color="#efe300"/><stop offset=".938" stop-color="#f5b300"/><stop offset=".943" stop-color="#f19500"/><stop offset=".961" stop-color="#f07a00"/><stop offset=".968" stop-color="#f06700"/><stop offset=".976" stop-color="#f06800"/><stop offset=".999" stop-color="#f5ae00"/></linearGradient><linearGradient id="g85" gradientUnits="userSpaceOnUse" x1="130" x2="1170"><stop offset=".001" stop-color="#2fc801"/><stop offset=".084" stop-color="#1fc217"/><stop offset=".139" stop-color="#11c22e"/><stop offset=".245" stop-color="#0ec233"/><stop offset=".370" stop-color="#0bc33a"/><stop offset=".407" stop-color="#0ac33b"/><stop offset=".455" stop-color="#0fc232"/><stop offset=".487" stop-color="#08c442"/><stop offset=".522" stop-color="#0ec234"/><stop offset=".536" stop-color="#0fc232"/><stop offset=".545" stop-color="#2ac608"/><stop offset=".564" stop-color="#26c50d"/><stop offset=".572" stop-color="#08c43f"/><stop offset=".576" stop-color="#00d070"/><stop offset=".597" stop-color="#00dda2"/><stop offset=".616" stop-color="#00d070"/><stop offset=".622" stop-color="#0bc33a"/><stop offset=".634" stop-color="#2dc704"/><stop offset=".653" stop-color="#4fd100"/><stop offset=".686" stop-color="#2ec703"/><stop offset=".720" stop-color="#1dc219"/><stop offset=".761" stop-color="#28c50b"/><stop offset=".789" stop-color="#11c22e"/><stop offset=".795" stop-color="#08c43f"/><stop offset=".801" stop-color="#00d070"/><stop offset=".826" stop-color="#00d890"/><stop offset=".839" stop-color="#00d583"/><stop offset=".847" stop-color="#00d070"/><stop offset=".855" stop-color="#0ec335"/><stop offset=".866" stop-color="#2ac608"/><stop offset=".872" stop-color="#65d700"/><stop offset=".874" stop-color="#7edd00"/><stop offset=".878" stop-color="#9ae300"/><stop offset=".886" stop-color="#d6f000"/><stop offset=".897" stop-color="#e2f300"/><stop offset=".909" stop-color="#def200"/><stop offset=".918" stop-color="#ebed00"/><stop offset=".936" stop-color="#f5b300"/><stop offset=".953" stop-color="#f08300"/><stop offset=".961" stop-color="#f06d00"/><stop offset=".968" stop-color="#f05e00"/><stop offset=".982" stop-color="#f06600"/><stop offset=".997" stop-color="#f08f00"/><stop offset=".999" stop-color="#f19100"/></linearGradient><linearGradient id="g86" gradientUnits="userSpaceOnUse" x1="130" x2="1170"><stop offset=".001" stop-color="#2dc704"/><stop offset=".080" stop-color="#25c40e"/><stop offset=".132" stop-color="#14c129"/><stop offset=".239" stop-color="#10c230"/><stop offset=".414" stop-color="#11c22e"/><stop offset=".466" stop-color="#10c230"/><stop offset=".501" stop-color="#12c22c"/><stop offset=".536" stop-color="#19c01f"/><stop offset=".543" stop-color="#2ac608"/><stop offset=".561" stop-color="#28c50b"/><stop offset=".570" stop-color="#0ac33b"/><stop offset=".574" stop-color="#01ce68"/><stop offset=".593" stop-color="#00d995"/><stop offset=".605" stop-color="#00d88e"/><stop offset=".616" stop-color="#00d070"/><stop offset=".624" stop-color="#0fc232"/><stop offset=".632" stop-color="#2ac608"/><stop offset=".655" stop-color="#41cd00"/><stop offset=".701" stop-color="#29c60a"/><stop offset=".730" stop-color="#23c411"/><stop offset=".762" stop-color="#28c50b"/><stop offset=".787" stop-color="#19c01f"/><stop offset=".799" stop-color="#08c43f"/><stop offset=".807" stop-color="#00d070"/><stop offset=".832" stop-color="#00d37d"/><stop offset=".843" stop-color="#01ce6a"/><stop offset=".853" stop-color="#0dc336"/><stop offset=".868" stop-color="#2ac608"/><stop offset=".874" stop-color="#60d600"/><stop offset=".876" stop-color="#7bdc00"/><stop offset=".891" stop-color="#d4f000"/><stop offset=".907" stop-color="#cfef00"/><stop offset=".920" stop-color="#e9f300"/><stop offset=".936" stop-color="#f5b300"/><stop offset=".953" stop-color="#f08100"/><stop offset=".963" stop-color="#f06000"/><stop offset=".980" stop-color="#f05c00"/><stop offset=".999" stop-color="#f07d00"/></linearGradient><linearGradient id="g87" gradientUnits="userSpaceOnUse" x1="130" x2="1170"><stop offset=".001" stop-color="#2bc606"/><stop offset=".086" stop-color="#26c50d"/><stop offset=".134" stop-color="#16c125"/><stop offset=".243" stop-color="#12c12b"/><stop offset=".430" stop-color="#16c023"/><stop offset=".491" stop-color="#17c022"/><stop offset=".528" stop-color="#23c412"/><stop offset=".539" stop-color="#26c50e"/><stop offset=".557" stop-color="#28c50b"/><stop offset=".570" stop-color="#07c545"/><stop offset=".574" stop-color="#00d070"/><stop offset=".597" stop-color="#00d891"/><stop offset=".613" stop-color="#00d27a"/><stop offset=".618" stop-color="#02cd63"/><stop offset=".624" stop-color="#0ec335"/><stop offset=".632" stop-color="#2ac608"/><stop offset=".661" stop-color="#37ca00"/><stop offset=".736" stop-color="#27c50c"/><stop offset=".784" stop-color="#28c50b"/><stop offset=".807" stop-color="#07c545"/><stop offset=".811" stop-color="#03cb5d"/><stop offset=".838" stop-color="#02cd63"/><stop offset=".849" stop-color="#0cc337"/><stop offset=".874" stop-color="#35c900"/><stop offset=".880" stop-color="#74db00"/><stop offset=".893" stop-color="#b0e800"/><stop offset=".911" stop-color="#c8ed00"/><stop offset=".924" stop-color="#ebed00"/><stop offset=".934" stop-color="#f6b700"/><stop offset=".961" stop-color="#f05e00"/><stop offset=".976" stop-color="#f05300"/><stop offset=".999" stop-color="#f06d00"/></linearGradient><linearGradient id="g88" gradientUnits="userSpaceOnUse" x1="130" x2="1170"><stop offset=".001" stop-color="#2ac608"/><stop offset=".089" stop-color="#28c50b"/><stop offset=".139" stop-color="#17c022"/><stop offset=".241" stop-color="#14c127"/><stop offset=".382" stop-color="#18c020"/><stop offset=".489" stop-color="#1fc216"/><stop offset=".532" stop-color="#29c60a"/><stop offset=".555" stop-color="#21c314"/><stop offset=".568" stop-color="#09c43e"/><stop offset=".574" stop-color="#00d070"/><stop offset=".599" stop-color="#00d78d"/><stop offset=".618" stop-color="#00d070"/><stop offset=".624" stop-color="#0cc339"/><stop offset=".634" stop-color="#2ac608"/><stop offset=".691" stop-color="#2fc801"/><stop offset=".736" stop-color="#29c60a"/><stop offset=".793" stop-color="#26c50d"/><stop offset=".814" stop-color="#10c22f"/><stop offset=".839" stop-color="#0cc339"/><stop offset=".874" stop-color="#2ac608"/><stop offset=".880" stop-color="#37ca00"/><stop offset=".886" stop-color="#70da00"/><stop offset=".895" stop-color="#8fe100"/><stop offset=".901" stop-color="#92e100"/><stop offset=".922" stop-color="#def200"/><stop offset=".926" stop-color="#eaef00"/><stop offset=".936" stop-color="#f6b700"/><stop offset=".961" stop-color="#f05700"/><stop offset=".970" stop-color="#f04900"/><stop offset=".991" stop-color="#f05c00"/><stop offset=".999" stop-color="#f06000"/></linearGradient><linearGradient id="g89" gradientUnits="userSpaceOnUse" x1="130" x2="1170"><stop offset=".001" stop-color="#2ac608"/><stop offset=".089" stop-color="#2ac608"/><stop offset=".145" stop-color="#19c01e"/><stop offset=".243" stop-color="#17c022"/><stop offset=".374" stop-color="#1bc11c"/><stop offset=".393" stop-color="#25c40f"/><stop offset=".482" stop-color="#24c410"/><stop offset=".507" stop-color="#29c60a"/><stop offset=".537" stop-color="#26c50d"/><stop offset=".561" stop-color="#13c12a"/><stop offset=".568" stop-color="#07c543"/><stop offset=".574" stop-color="#00d070"/><stop offset=".601" stop-color="#00d78b"/><stop offset=".618" stop-color="#00d070"/><stop offset=".626" stop-color="#0ec335"/><stop offset=".637" stop-color="#2ac608"/><stop offset=".703" stop-color="#2fc802"/><stop offset=".741" stop-color="#2bc606"/><stop offset=".805" stop-color="#26c50e"/><stop offset=".822" stop-color="#1fc217"/><stop offset=".843" stop-color="#15c126"/><stop offset=".880" stop-color="#2ac608"/><stop offset=".887" stop-color="#36ca00"/><stop offset=".889" stop-color="#3acb00"/><stop offset=".893" stop-color="#5cd500"/><stop offset=".905" stop-color="#8ce000"/><stop offset=".909" stop-color="#a0e400"/><stop offset=".922" stop-color="#d9f100"/><stop offset=".928" stop-color="#ebed00"/><stop offset=".938" stop-color="#f6b700"/><stop offset=".955" stop-color="#f06000"/><stop offset=".966" stop-color="#f03c00"/><stop offset=".991" stop-color="#f04400"/><stop offset=".993" stop-color="#f03c00"/><stop offset=".997" stop-color="#f04700"/><stop offset=".999" stop-color="#f05c00"/></linearGradient><linearGradient id="g90" gradientUnits="userSpaceOnUse" x1="130" x2="1170"><stop offset=".001" stop-color="#2ac608"/><stop offset=".061" stop-color="#2ec702"/><stop offset=".093" stop-color="#29c609"/><stop offset=".180" stop-color="#18c021"/><stop offset=".368" stop-color="#1dc219"/><stop offset=".397" stop-color="#2bc607"/><stop offset=".478" stop-color="#29c60a"/><stop offset=".534" stop-color="#2ac608"/><stop offset=".549" stop-color="#17c022"/><stop offset=".566" stop-color="#09c43e"/><stop offset=".574" stop-color="#00d070"/><stop offset=".603" stop-color="#00d78d"/><stop offset=".618" stop-color="#00d070"/><stop offset=".626" stop-color="#0bc33a"/><stop offset=".639" stop-color="#28c50b"/><stop offset=".703" stop-color="#32c900"/><stop offset=".738" stop-color="#2cc706"/><stop offset=".828" stop-color="#2ac608"/><stop offset=".847" stop-color="#1ec218"/><stop offset=".891" stop-color="#2ac608"/><stop offset=".895" stop-color="#41cd00"/><stop offset=".905" stop-color="#80dd00"/><stop offset=".918" stop-color="#c6ed00"/><stop offset=".928" stop-color="#e5f300"/><stop offset=".938" stop-color="#f6bb00"/><stop offset=".951" stop-color="#f07100"/><stop offset=".957" stop-color="#f05a00"/><stop offset=".966" stop-color="#f03d00"/><stop offset=".997" stop-color="#f03c00"/><stop offset=".999" stop-color="#f04400"/></linearGradient><linearGradient id="g91" gradientUnits="userSpaceOnUse" x1="130" x2="1170"><stop offset=".001" stop-color="#2ac608"/><stop offset=".055" stop-color="#2ec703"/><stop offset=".078" stop-color="#35c900"/><stop offset=".136" stop-color="#21c314"/><stop offset=".230" stop-color="#1ac11d"/><stop offset=".366" stop-color="#21c314"/><stop offset=".405" stop-color="#2dc704"/><stop offset=".530" stop-color="#2cc706"/><stop offset=".536" stop-color="#23c412"/><stop offset=".543" stop-color="#13c12a"/><stop offset=".562" stop-color="#0dc336"/><stop offset=".570" stop-color="#05c852"/><stop offset=".576" stop-color="#00d070"/><stop offset=".605" stop-color="#00d891"/><stop offset=".620" stop-color="#01cf6b"/><stop offset=".628" stop-color="#0cc337"/><stop offset=".643" stop-color="#24c410"/><stop offset=".689" stop-color="#38ca00"/><stop offset=".736" stop-color="#2fc802"/><stop offset=".784" stop-color="#2ec703"/><stop offset=".826" stop-color="#33c900"/><stop offset=".855" stop-color="#26c50d"/><stop offset=".895" stop-color="#2ac608"/><stop offset=".901" stop-color="#63d700"/><stop offset=".907" stop-color="#85de00"/><stop offset=".909" stop-color="#87df00"/><stop offset=".916" stop-color="#bceb00"/><stop offset=".930" stop-color="#eaee00"/><stop offset=".939" stop-color="#f6ba00"/><stop offset=".951" stop-color="#f06f00"/><stop offset=".955" stop-color="#f05c00"/><stop offset=".974" stop-color="#f33300"/><stop offset=".999" stop-color="#f13a00"/></linearGradient><linearGradient id="g92" gradientUnits="userSpaceOnUse" x1="130" x2="1170"><stop offset=".001" stop-color="#2dc704"/><stop offset=".049" stop-color="#2cc706"/><stop offset=".068" stop-color="#3dcc00"/><stop offset=".097" stop-color="#2ac608"/><stop offset=".222" stop-color="#1cc11a"/><stop offset=".291" stop-color="#1fc216"/><stop offset=".364" stop-color="#24c410"/><stop offset=".407" stop-color="#32c900"/><stop offset=".520" stop-color="#32c900"/><stop offset=".534" stop-color="#2ac608"/><stop offset=".539" stop-color="#09c43e"/><stop offset=".543" stop-color="#08c442"/><stop offset=".553" stop-color="#10c231"/><stop offset=".568" stop-color="#07c543"/><stop offset=".578" stop-color="#00d070"/><stop offset=".605" stop-color="#00da9a"/><stop offset=".620" stop-color="#00d070"/><stop offset=".628" stop-color="#0ac33b"/><stop offset=".647" stop-color="#25c40e"/><stop offset=".686" stop-color="#3acb00"/><stop offset=".762" stop-color="#2fc801"/><stop offset=".780" stop-color="#2dc704"/><stop offset=".826" stop-color="#41cd00"/><stop offset=".851" stop-color="#31c800"/><stop offset=".891" stop-color="#30c800"/><stop offset=".907" stop-color="#82de00"/><stop offset=".911" stop-color="#97e300"/><stop offset=".918" stop-color="#c5ec00"/><stop offset=".930" stop-color="#eaee00"/><stop offset=".941" stop-color="#f6b700"/><stop offset=".945" stop-color="#f19700"/><stop offset=".949" stop-color="#f08d00"/><stop offset=".951" stop-color="#f06600"/><stop offset=".976" stop-color="#f33100"/><stop offset=".999" stop-color="#f23600"/></linearGradient><linearGradient id="g93" gradientUnits="userSpaceOnUse" x1="130" x2="1170"><stop offset=".001" stop-color="#35c900"/><stop offset=".039" stop-color="#2ac608"/><stop offset=".047" stop-color="#33c900"/><stop offset=".059" stop-color="#45ce00"/><stop offset=".091" stop-color="#33c900"/><stop offset=".128" stop-color="#28c50b"/><stop offset=".226" stop-color="#20c316"/><stop offset=".272" stop-color="#23c411"/><stop offset=".361" stop-color="#26c50e"/><stop offset=".401" stop-color="#37ca00"/><stop offset=".516" stop-color="#39cb00"/><stop offset=".534" stop-color="#2ac608"/><stop offset=".537" stop-color="#11c22e"/><stop offset=".539" stop-color="#05c850"/><stop offset=".543" stop-color="#05c850"/><stop offset=".547" stop-color="#0bc33a"/><stop offset=".564" stop-color="#0cc338"/><stop offset=".574" stop-color="#05c852"/><stop offset=".582" stop-color="#00d072"/><stop offset=".599" stop-color="#00d995"/><stop offset=".605" stop-color="#00dda5"/><stop offset=".609" stop-color="#00db9b"/><stop offset=".622" stop-color="#02cd65"/><stop offset=".630" stop-color="#0cc338"/><stop offset=".651" stop-color="#28c50a"/><stop offset=".691" stop-color="#41cd00"/><stop offset=".764" stop-color="#35c900"/><stop offset=".778" stop-color="#30c800"/><stop offset=".830" stop-color="#51d100"/><stop offset=".859" stop-color="#5ed500"/><stop offset=".891" stop-color="#4dd000"/><stop offset=".909" stop-color="#90e100"/><stop offset=".920" stop-color="#d1ef00"/><stop offset=".928" stop-color="#e9f200"/><stop offset=".941" stop-color="#f6b700"/><stop offset=".945" stop-color="#f19500"/><stop offset=".949" stop-color="#f19500"/><stop offset=".951" stop-color="#f06000"/><stop offset=".980" stop-color="#f42f00"/><stop offset=".999" stop-color="#f23400"/></linearGradient><linearGradient id="g94" gradientUnits="userSpaceOnUse" x1="130" x2="1170"><stop offset=".001" stop-color="#3fcc00"/><stop offset=".037" stop-color="#2ac608"/><stop offset=".043" stop-color="#37ca00"/><stop offset=".051" stop-color="#53d200"/><stop offset=".095" stop-color="#34c900"/><stop offset=".126" stop-color="#2bc606"/><stop offset=".222" stop-color="#22c313"/><stop offset=".270" stop-color="#27c50c"/><stop offset=".357" stop-color="#27c50c"/><stop offset=".395" stop-color="#3bcb00"/><stop offset=".514" stop-color="#40cd00"/><stop offset=".534" stop-color="#2ac608"/><stop offset=".541" stop-color="#0fc232"/><stop offset=".568" stop-color="#0cc337"/><stop offset=".578" stop-color="#05c955"/><stop offset=".584" stop-color="#00d070"/><stop offset=".601" stop-color="#00da97"/><stop offset=".607" stop-color="#00dca0"/><stop offset=".622" stop-color="#01cf6d"/><stop offset=".630" stop-color="#0bc33a"/><stop offset=".651" stop-color="#2ac608"/><stop offset=".703" stop-color="#46ce00"/><stop offset=".780" stop-color="#3ccb00"/><stop offset=".838" stop-color="#6bd900"/><stop offset=".857" stop-color="#89df00"/><stop offset=".876" stop-color="#73db00"/><stop offset=".891" stop-color="#62d600"/><stop offset=".907" stop-color="#87df00"/><stop offset=".916" stop-color="#c5ec00"/><stop offset=".926" stop-color="#e9f200"/><stop offset=".941" stop-color="#f6b700"/><stop offset=".949" stop-color="#f07b00"/><stop offset=".951" stop-color="#f06000"/><stop offset=".982" stop-color="#f52b00"/><stop offset=".999" stop-color="#f23500"/></linearGradient><linearGradient id="g95" gradientUnits="userSpaceOnUse" x1="130" x2="1170"><stop offset=".001" stop-color="#4bd000"/><stop offset=".036" stop-color="#37ca00"/><stop offset=".043" stop-color="#51d100"/><stop offset=".047" stop-color="#6fda00"/><stop offset=".051" stop-color="#71da00"/><stop offset=".061" stop-color="#5ad400"/><stop offset=".113" stop-color="#2fc801"/><stop offset=".222" stop-color="#24c410"/><stop offset=".268" stop-color="#2ac608"/><stop offset=".357" stop-color="#29c60a"/><stop offset=".391" stop-color="#3fcc00"/><stop offset=".511" stop-color="#49cf00"/><stop offset=".532" stop-color="#2ec702"/><stop offset=".551" stop-color="#0cc337"/><stop offset=".566" stop-color="#11c22e"/><stop offset=".578" stop-color="#08c442"/><stop offset=".588" stop-color="#00d070"/><stop offset=".605" stop-color="#00d891"/><stop offset=".622" stop-color="#00d070"/><stop offset=".630" stop-color="#0ac43c"/><stop offset=".651" stop-color="#2bc607"/><stop offset=".701" stop-color="#4dd000"/><stop offset=".784" stop-color="#47cf00"/><stop offset=".828" stop-color="#6fda00"/><stop offset=".843" stop-color="#8ae000"/><stop offset=".866" stop-color="#9be300"/><stop offset=".893" stop-color="#74db00"/><stop offset=".905" stop-color="#87df00"/><stop offset=".920" stop-color="#e0f200"/><stop offset=".928" stop-color="#ede700"/><stop offset=".941" stop-color="#f6b700"/><stop offset=".949" stop-color="#f07a00"/><stop offset=".951" stop-color="#f06500"/><stop offset=".963" stop-color="#f04500"/><stop offset=".978" stop-color="#f23600"/><stop offset=".988" stop-color="#f23400"/><stop offset=".999" stop-color="#f13800"/></linearGradient><linearGradient id="g96" gradientUnits="userSpaceOnUse" x1="130" x2="1170"><stop offset=".001" stop-color="#59d400"/><stop offset=".034" stop-color="#46ce00"/><stop offset=".043" stop-color="#61d600"/><stop offset=".047" stop-color="#7ddd00"/><stop offset=".051" stop-color="#7ddd00"/><stop offset=".061" stop-color="#63d700"/><stop offset=".111" stop-color="#37ca00"/><stop offset=".155" stop-color="#2ec703"/><stop offset=".222" stop-color="#26c50d"/><stop offset=".266" stop-color="#2cc705"/><stop offset=".301" stop-color="#2bc607"/><stop offset=".359" stop-color="#2bc607"/><stop offset=".405" stop-color="#4bd000"/><stop offset=".514" stop-color="#4fd100"/><stop offset=".536" stop-color="#2cc706"/><stop offset=".547" stop-color="#14c127"/><stop offset=".549" stop-color="#0cc338"/><stop offset=".553" stop-color="#0cc338"/><stop offset=".559" stop-color="#16c024"/><stop offset=".574" stop-color="#11c22e"/><stop offset=".584" stop-color="#07c646"/><stop offset=".591" stop-color="#00d070"/><stop offset=".607" stop-color="#00d583"/><stop offset=".622" stop-color="#00d070"/><stop offset=".630" stop-color="#0ac43d"/><stop offset=".649" stop-color="#2ac608"/><stop offset=".688" stop-color="#50d100"/><stop offset=".787" stop-color="#52d200"/><stop offset=".822" stop-color="#73db00"/><stop offset=".864" stop-color="#b6e900"/><stop offset=".874" stop-color="#b0e800"/><stop offset=".891" stop-color="#81dd00"/><stop offset=".905" stop-color="#8be000"/><stop offset=".916" stop-color="#ceef00"/><stop offset=".924" stop-color="#e9f100"/><stop offset=".941" stop-color="#f6b900"/><stop offset=".945" stop-color="#f3a400"/><stop offset=".953" stop-color="#f06000"/><stop offset=".963" stop-color="#f04900"/><stop offset=".976" stop-color="#f04900"/><stop offset=".993" stop-color="#f13800"/><stop offset=".999" stop-color="#f03b00"/></linearGradient><linearGradient id="g97" gradientUnits="userSpaceOnUse" x1="130" x2="1170"><stop offset=".001" stop-color="#69d800"/><stop offset=".032" stop-color="#53d200"/><stop offset=".045" stop-color="#6cd900"/><stop offset=".053" stop-color="#72da00"/><stop offset=".086" stop-color="#4fd100"/><stop offset=".116" stop-color="#3ccb00"/><stop offset=".149" stop-color="#39cb00"/><stop offset=".195" stop-color="#27c50c"/><stop offset=".268" stop-color="#2ec702"/><stop offset=".297" stop-color="#2bc606"/><stop offset=".318" stop-color="#30c800"/><stop offset=".355" stop-color="#29c609"/><stop offset=".384" stop-color="#46ce00"/><stop offset=".443" stop-color="#59d400"/><stop offset=".518" stop-color="#54d200"/><stop offset=".543" stop-color="#2cc706"/><stop offset=".557" stop-color="#20c316"/><stop offset=".578" stop-color="#14c129"/><stop offset=".588" stop-color="#08c440"/><stop offset=".595" stop-color="#00d070"/><stop offset=".613" stop-color="#00d278"/><stop offset=".624" stop-color="#01cf6b"/><stop offset=".630" stop-color="#0ac43c"/><stop offset=".649" stop-color="#2bc606"/><stop offset=".697" stop-color="#5bd400"/><stop offset=".789" stop-color="#5ad400"/><stop offset=".818" stop-color="#76db00"/><stop offset=".870" stop-color="#d6f000"/><stop offset=".887" stop-color="#96e200"/><stop offset=".893" stop-color="#86df00"/><stop offset=".903" stop-color="#8de000"/><stop offset=".918" stop-color="#def200"/><stop offset=".924" stop-color="#eaef00"/><stop offset=".943" stop-color="#f6b800"/><stop offset=".947" stop-color="#f3a000"/><stop offset=".953" stop-color="#f06000"/><stop offset=".966" stop-color="#f05700"/><stop offset=".984" stop-color="#f05800"/><stop offset=".989" stop-color="#f23600"/><stop offset=".995" stop-color="#f03e00"/><stop offset=".999" stop-color="#f04600"/></linearGradient><linearGradient id="g98" gradientUnits="userSpaceOnUse" x1="130" x2="1170"><stop offset=".001" stop-color="#80dd00"/><stop offset=".024" stop-color="#60d600"/><stop offset=".043" stop-color="#69d800"/><stop offset=".070" stop-color="#74db00"/><stop offset=".078" stop-color="#5ed500"/><stop offset=".111" stop-color="#42cd00"/><stop offset=".147" stop-color="#45ce00"/><stop offset=".182" stop-color="#2bc606"/><stop offset=".232" stop-color="#2fc802"/><stop offset=".270" stop-color="#33c900"/><stop offset=".291" stop-color="#2ac608"/><stop offset=".312" stop-color="#3dcc00"/><stop offset=".339" stop-color="#29c609"/><stop offset=".362" stop-color="#33c900"/><stop offset=".397" stop-color="#56d300"/><stop offset=".445" stop-color="#61d600"/><stop offset=".472" stop-color="#60d600"/><stop offset=".518" stop-color="#60d600"/><stop offset=".553" stop-color="#2ec702"/><stop offset=".580" stop-color="#1ac11e"/><stop offset=".593" stop-color="#07c543"/><stop offset=".601" stop-color="#00d070"/><stop offset=".622" stop-color="#00d070"/><stop offset=".630" stop-color="#0cc339"/><stop offset=".647" stop-color="#2ac608"/><stop offset=".678" stop-color="#4ed100"/><stop offset=".693" stop-color="#66d700"/><stop offset=".745" stop-color="#5ed500"/><stop offset=".799" stop-color="#66d700"/><stop offset=".820" stop-color="#85de00"/><stop offset=".849" stop-color="#beeb00"/><stop offset=".863" stop-color="#ddf200"/><stop offset=".874" stop-color="#e0f200"/><stop offset=".895" stop-color="#90e100"/><stop offset=".909" stop-color="#baea00"/><stop offset=".922" stop-color="#e7f400"/><stop offset=".941" stop-color="#f6ba00"/><stop offset=".947" stop-color="#f5b100"/><stop offset=".955" stop-color="#f06a00"/><stop offset=".964" stop-color="#f05d00"/><stop offset=".982" stop-color="#f06c00"/><stop offset=".988" stop-color="#f06600"/><stop offset=".989" stop-color="#f05600"/><stop offset=".999" stop-color="#f05a00"/></linearGradient><linearGradient id="g99" gradientUnits="userSpaceOnUse" x1="130" x2="1170"><stop offset=".001" stop-color="#88df00"/><stop offset=".032" stop-color="#67d800"/><stop offset=".064" stop-color="#79dc00"/><stop offset=".070" stop-color="#87df00"/><stop offset=".072" stop-color="#87df00"/><stop offset=".076" stop-color="#5fd500"/><stop offset=".114" stop-color="#46ce00"/><stop offset=".143" stop-color="#55d300"/><stop offset=".176" stop-color="#30c800"/><stop offset=".209" stop-color="#30c800"/><stop offset=".272" stop-color="#3bcb00"/><stop offset=".289" stop-color="#2ac608"/><stop offset=".301" stop-color="#32c900"/><stop offset=".309" stop-color="#4ed100"/><stop offset=".330" stop-color="#2dc704"/><stop offset=".357" stop-color="#2dc704"/><stop offset=".386" stop-color="#55d300"/><stop offset=".424" stop-color="#63d700"/><stop offset=".449" stop-color="#62d600"/><stop offset=".476" stop-color="#6bd900"/><stop offset=".489" stop-color="#6ad800"/><stop offset=".509" stop-color="#69d800"/><stop offset=".516" stop-color="#72da00"/><stop offset=".530" stop-color="#54d200"/><stop offset=".566" stop-color="#36ca00"/><stop offset=".586" stop-color="#1dc219"/><stop offset=".599" stop-color="#07c545"/><stop offset=".603" stop-color="#02cd63"/><stop offset=".611" stop-color="#00d072"/><stop offset=".622" stop-color="#00d070"/><stop offset=".628" stop-color="#0ac43c"/><stop offset=".645" stop-color="#2ac608"/><stop offset=".682" stop-color="#58d300"/><stop offset=".691" stop-color="#72da00"/><stop offset=".718" stop-color="#62d600"/><stop offset=".799" stop-color="#6dd900"/><stop offset=".826" stop-color="#91e100"/><stop offset=".853" stop-color="#d6f000"/><stop offset=".868" stop-color="#e9f100"/><stop offset=".880" stop-color="#dbf100"/><stop offset=".891" stop-color="#b5e900"/><stop offset=".901" stop-color="#b2e900"/><stop offset=".922" stop-color="#e7f400"/><stop offset=".939" stop-color="#f6b700"/><stop offset=".945" stop-color="#f5ae00"/><stop offset=".949" stop-color="#f5b200"/><stop offset=".961" stop-color="#f06600"/><stop offset=".966" stop-color="#f06500"/><stop offset=".980" stop-color="#f08400"/><stop offset=".999" stop-color="#f08b00"/></linearGradient><linearGradient id="g100" gradientUnits="userSpaceOnUse" x1="130" x2="1170"><stop offset=".001" stop-color="#8ee000"/><stop offset=".037" stop-color="#6ed900"/><stop offset=".066" stop-color="#7edd00"/><stop offset=".072" stop-color="#82de00"/><stop offset=".078" stop-color="#64d700"/><stop offset=".109" stop-color="#4bd000"/><stop offset=".134" stop-color="#5bd400"/><stop offset=".143" stop-color="#66d700"/><stop offset=".164" stop-color="#3dcc00"/><stop offset=".197" stop-color="#35c900"/><stop offset=".216" stop-color="#46ce00"/><stop offset=".247" stop-color="#3ecc00"/><stop offset=".274" stop-color="#46ce00"/><stop offset=".291" stop-color="#2bc606"/><stop offset=".301" stop-color="#2cc705"/><stop offset=".305" stop-color="#4ed100"/><stop offset=".307" stop-color="#6dd900"/><stop offset=".311" stop-color="#6fda00"/><stop offset=".316" stop-color="#47cf00"/><stop offset=".328" stop-color="#2ec702"/><stop offset=".355" stop-color="#2bc606"/><stop offset=".380" stop-color="#59d400"/><stop offset=".420" stop-color="#6cd900"/><stop offset=".466" stop-color="#69d800"/><stop offset=".484" stop-color="#7ddd00"/><stop offset=".499" stop-color="#6ad800"/><stop offset=".518" stop-color="#6cd900"/><stop offset=".539" stop-color="#58d300"/><stop offset=".564" stop-color="#54d200"/><stop offset=".584" stop-color="#2cc705"/><stop offset=".597" stop-color="#14c127"/><stop offset=".607" stop-color="#05c852"/><stop offset=".613" stop-color="#00d070"/><stop offset=".620" stop-color="#00d070"/><stop offset=".622" stop-color="#02cd65"/><stop offset=".626" stop-color="#0ac43d"/><stop offset=".643" stop-color="#2bc607"/><stop offset=".680" stop-color="#56d300"/><stop offset=".693" stop-color="#71da00"/><stop offset=".747" stop-color="#68d800"/><stop offset=".809" stop-color="#79dc00"/><stop offset=".834" stop-color="#a9e600"/><stop offset=".843" stop-color="#beeb00"/><stop offset=".853" stop-color="#e0f200"/><stop offset=".863" stop-color="#ebed00"/><stop offset=".868" stop-color="#ede700"/><stop offset=".878" stop-color="#e2f300"/><stop offset=".895" stop-color="#c0eb00"/><stop offset=".912" stop-color="#d1ef00"/><stop offset=".924" stop-color="#eaee00"/><stop offset=".938" stop-color="#f6b900"/><stop offset=".941" stop-color="#f29d00"/><stop offset=".945" stop-color="#f29d00"/><stop offset=".951" stop-color="#f6b700"/><stop offset=".959" stop-color="#f08700"/><stop offset=".964" stop-color="#f07a00"/><stop offset=".997" stop-color="#f7c400"/><stop offset=".999" stop-color="#f8c500"/></linearGradient><linearGradient id="g101" gradientUnits="userSpaceOnUse" x1="130" x2="1170"><stop offset=".001" stop-color="#96e200"/><stop offset=".014" stop-color="#8de000"/><stop offset=".039" stop-color="#73db00"/><stop offset=".072" stop-color="#74db00"/><stop offset=".095" stop-color="#53d200"/><stop offset=".124" stop-color="#53d200"/><stop offset=".136" stop-color="#68d800"/><stop offset=".139" stop-color="#7ddd00"/><stop offset=".143" stop-color="#7ddd00"/><stop offset=".149" stop-color="#5ed500"/><stop offset=".170" stop-color="#3ccb00"/><stop offset=".197" stop-color="#3ecc00"/><stop offset=".212" stop-color="#61d600"/><stop offset=".232" stop-color="#43cd00"/><stop offset=".261" stop-color="#4cd000"/><stop offset=".274" stop-color="#5ad400"/><stop offset=".291" stop-color="#30c800"/><stop offset=".303" stop-color="#2ac608"/><stop offset=".305" stop-color="#37ca00"/><stop offset=".307" stop-color="#7ddd00"/><stop offset=".311" stop-color="#7ddd00"/><stop offset=".312" stop-color="#60d600"/><stop offset=".318" stop-color="#3ccb00"/><stop offset=".334" stop-color="#2bc607"/><stop offset=".355" stop-color="#30c800"/><stop offset=".380" stop-color="#62d600"/><stop offset=".416" stop-color="#79dc00"/><stop offset=".447" stop-color="#68d800"/><stop offset=".476" stop-color="#78dc00"/><stop offset=".487" stop-color="#77db00"/><stop offset=".539" stop-color="#65d700"/><stop offset=".561" stop-color="#7ddd00"/><stop offset=".578" stop-color="#4ed100"/><stop offset=".591" stop-color="#2cc706"/><stop offset=".613" stop-color="#07c543"/><stop offset=".620" stop-color="#07c543"/><stop offset=".641" stop-color="#2bc607"/><stop offset=".678" stop-color="#54d200"/><stop offset=".697" stop-color="#6fda00"/><stop offset=".762" stop-color="#70da00"/><stop offset=".807" stop-color="#7bdc00"/><stop offset=".832" stop-color="#a8e600"/><stop offset=".841" stop-color="#bceb00"/><stop offset=".849" stop-color="#e0f200"/><stop offset=".863" stop-color="#ebed00"/><stop offset=".870" stop-color="#ebed00"/><stop offset=".886" stop-color="#d7f000"/><stop offset=".907" stop-color="#ceef00"/><stop offset=".924" stop-color="#eaf000"/><stop offset=".938" stop-color="#f6b900"/><stop offset=".941" stop-color="#f3a200"/><stop offset=".951" stop-color="#f29d00"/><stop offset=".953" stop-color="#f4a800"/><stop offset=".955" stop-color="#f19500"/><stop offset=".970" stop-color="#f29a00"/><stop offset=".988" stop-color="#f4d300"/><stop offset=".999" stop-color="#e8f300"/></linearGradient><linearGradient id="g102" gradientUnits="userSpaceOnUse" x1="130" x2="1170"><stop offset=".001" stop-color="#a0e400"/><stop offset=".013" stop-color="#a9e600"/><stop offset=".022" stop-color="#88df00"/><stop offset=".049" stop-color="#74db00"/><stop offset=".074" stop-color="#6dd900"/><stop offset=".107" stop-color="#51d100"/><stop offset=".132" stop-color="#61d600"/><stop offset=".141" stop-color="#78dc00"/><stop offset=".159" stop-color="#4cd000"/><stop offset=".186" stop-color="#3ccb00"/><stop offset=".203" stop-color="#52d200"/><stop offset=".209" stop-color="#6bd900"/><stop offset=".211" stop-color="#7ddd00"/><stop offset=".214" stop-color="#7ddd00"/><stop offset=".220" stop-color="#5cd500"/><stop offset=".237" stop-color="#45ce00"/><stop offset=".261" stop-color="#52d200"/><stop offset=".268" stop-color="#66d700"/><stop offset=".270" stop-color="#72da00"/><stop offset=".274" stop-color="#72da00"/><stop offset=".280" stop-color="#51d100"/><stop offset=".295" stop-color="#30c800"/><stop offset=".307" stop-color="#2ac608"/><stop offset=".311" stop-color="#42cd00"/><stop offset=".328" stop-color="#2bc607"/><stop offset=".353" stop-color="#32c900"/><stop offset=".378" stop-color="#6ed900"/><stop offset=".399" stop-color="#74db00"/><stop offset=".416" stop-color="#87df00"/><stop offset=".430" stop-color="#6fda00"/><stop offset=".464" stop-color="#70da00"/><stop offset=".482" stop-color="#80dd00"/><stop offset=".512" stop-color="#6ed900"/><stop offset=".537" stop-color="#6fda00"/><stop offset=".562" stop-color="#91e100"/><stop offset=".572" stop-color="#81dd00"/><stop offset=".593" stop-color="#2fc801"/><stop offset=".607" stop-color="#1ac11e"/><stop offset=".618" stop-color="#11c22e"/><stop offset=".641" stop-color="#2cc706"/><stop offset=".678" stop-color="#55d300"/><stop offset=".707" stop-color="#77db00"/><stop offset=".753" stop-color="#71da00"/><stop offset=".784" stop-color="#7fdd00"/><stop offset=".807" stop-color="#7edd00"/><stop offset=".826" stop-color="#9ce400"/><stop offset=".847" stop-color="#d8f100"/><stop offset=".863" stop-color="#e9f100"/><stop offset=".911" stop-color="#d6f000"/><stop offset=".922" stop-color="#e0f200"/><stop offset=".930" stop-color="#f4d500"/><stop offset=".949" stop-color="#f19300"/><stop offset=".951" stop-color="#f08300"/><stop offset=".953" stop-color="#f08300"/><stop offset=".957" stop-color="#f4ad00"/><stop offset=".968" stop-color="#f4a700"/><stop offset=".982" stop-color="#f6cf00"/><stop offset=".988" stop-color="#eaf000"/><stop offset=".995" stop-color="#aee800"/><stop offset=".999" stop-color="#a6e600"/></linearGradient><linearGradient id="g103" gradientUnits="userSpaceOnUse" x1="130" x2="1170"><stop offset=".001" stop-color="#a5e500"/><stop offset=".013" stop-color="#aee800"/><stop offset=".026" stop-color="#87df00"/><stop offset=".061" stop-color="#73db00"/><stop offset=".111" stop-color="#53d200"/><stop offset=".143" stop-color="#6ad800"/><stop offset=".172" stop-color="#41cd00"/><stop offset=".195" stop-color="#47cf00"/><stop offset=".207" stop-color="#63d700"/><stop offset=".212" stop-color="#77db00"/><stop offset=".216" stop-color="#6dd900"/><stop offset=".230" stop-color="#4ed100"/><stop offset=".253" stop-color="#4cd000"/><stop offset=".268" stop-color="#66d700"/><stop offset=".274" stop-color="#6dd900"/><stop offset=".286" stop-color="#44ce00"/><stop offset=".307" stop-color="#2bc606"/><stop offset=".349" stop-color="#31c800"/><stop offset=".368" stop-color="#5ed500"/><stop offset=".374" stop-color="#7ddd00"/><stop offset=".391" stop-color="#73db00"/><stop offset=".412" stop-color="#87df00"/><stop offset=".441" stop-color="#6dd900"/><stop offset=".468" stop-color="#76db00"/><stop offset=".480" stop-color="#87df00"/><stop offset=".509" stop-color="#6fda00"/><stop offset=".536" stop-color="#75db00"/><stop offset=".557" stop-color="#94e200"/><stop offset=".562" stop-color="#9be300"/><stop offset=".578" stop-color="#81dd00"/><stop offset=".593" stop-color="#3acb00"/><stop offset=".611" stop-color="#20c315"/><stop offset=".624" stop-color="#1dc21a"/><stop offset=".639" stop-color="#2cc706"/><stop offset=".676" stop-color="#53d200"/><stop offset=".713" stop-color="#84de00"/><stop offset=".745" stop-color="#70da00"/><stop offset=".778" stop-color="#89df00"/><stop offset=".803" stop-color="#7edd00"/><stop offset=".822" stop-color="#96e200"/><stop offset=".851" stop-color="#e2f300"/><stop offset=".876" stop-color="#e4f300"/><stop offset=".914" stop-color="#daf100"/><stop offset=".922" stop-color="#e0f200"/><stop offset=".928" stop-color="#f1dd00"/><stop offset=".932" stop-color="#f8c800"/><stop offset=".938" stop-color="#f7c000"/><stop offset=".951" stop-color="#f29a00"/><stop offset=".955" stop-color="#f3a500"/><stop offset=".957" stop-color="#f5b400"/><stop offset=".970" stop-color="#f5b500"/><stop offset=".984" stop-color="#efe200"/><stop offset=".986" stop-color="#e8f300"/><stop offset=".989" stop-color="#b1e800"/><stop offset=".993" stop-color="#4acf00"/><stop offset=".997" stop-color="#42cd00"/><stop offset=".999" stop-color="#50d100"/></linearGradient><linearGradient id="g104" gradientUnits="userSpaceOnUse" x1="130" x2="1170"><stop offset=".001" stop-color="#a8e600"/><stop offset=".013" stop-color="#a9e600"/><stop offset=".030" stop-color="#86df00"/><stop offset=".111" stop-color="#53d200"/><stop offset=".145" stop-color="#63d700"/><stop offset=".176" stop-color="#41cd00"/><stop offset=".197" stop-color="#4dd000"/><stop offset=".212" stop-color="#6bd900"/><stop offset=".239" stop-color="#4acf00"/><stop offset=".263" stop-color="#59d400"/><stop offset=".274" stop-color="#61d600"/><stop offset=".299" stop-color="#30c800"/><stop offset=".339" stop-color="#2cc705"/><stop offset=".359" stop-color="#45ce00"/><stop offset=".376" stop-color="#7bdc00"/><stop offset=".395" stop-color="#7cdc00"/><stop offset=".411" stop-color="#87df00"/><stop offset=".445" stop-color="#6dd900"/><stop offset=".470" stop-color="#7cdc00"/><stop offset=".482" stop-color="#87df00"/><stop offset=".511" stop-color="#6fda00"/><stop offset=".534" stop-color="#78dc00"/><stop offset=".561" stop-color="#96e200"/><stop offset=".582" stop-color="#82de00"/><stop offset=".593" stop-color="#42cd00"/><stop offset=".605" stop-color="#2cc706"/><stop offset=".628" stop-color="#26c50d"/><stop offset=".662" stop-color="#40cd00"/><stop offset=".709" stop-color="#87df00"/><stop offset=".726" stop-color="#7fdd00"/><stop offset=".745" stop-color="#72da00"/><stop offset=".776" stop-color="#91e100"/><stop offset=".797" stop-color="#7edd00"/><stop offset=".820" stop-color="#94e200"/><stop offset=".851" stop-color="#e1f200"/><stop offset=".876" stop-color="#e3f300"/><stop offset=".918" stop-color="#def200"/><stop offset=".924" stop-color="#e9f100"/><stop offset=".936" stop-color="#f8c700"/><stop offset=".949" stop-color="#f4a700"/><stop offset=".972" stop-color="#f7c100"/><stop offset=".982" stop-color="#f2da00"/><stop offset=".984" stop-color="#f2da00"/><stop offset=".986" stop-color="#e5f300"/><stop offset=".989" stop-color="#96e200"/><stop offset=".993" stop-color="#2ac608"/><stop offset=".999" stop-color="#2ec702"/></linearGradient><linearGradient id="g105" gradientUnits="userSpaceOnUse" x1="130" x2="1170"><stop offset=".001" stop-color="#a8e600"/><stop offset=".016" stop-color="#9fe400"/><stop offset=".043" stop-color="#78dc00"/><stop offset=".087" stop-color="#5ed500"/><stop offset=".120" stop-color="#57d300"/><stop offset=".145" stop-color="#62d600"/><stop offset=".178" stop-color="#41cd00"/><stop offset=".199" stop-color="#51d100"/><stop offset=".214" stop-color="#67d800"/><stop offset=".241" stop-color="#4acf00"/><stop offset=".274" stop-color="#5fd500"/><stop offset=".301" stop-color="#2fc801"/><stop offset=".341" stop-color="#2ec703"/><stop offset=".361" stop-color="#4acf00"/><stop offset=".378" stop-color="#77db00"/><stop offset=".395" stop-color="#7edd00"/><stop offset=".405" stop-color="#87df00"/><stop offset=".422" stop-color="#7ddd00"/><stop offset=".451" stop-color="#6dd900"/><stop offset=".482" stop-color="#87df00"/><stop offset=".511" stop-color="#6fda00"/><stop offset=".534" stop-color="#7bdc00"/><stop offset=".539" stop-color="#87df00"/><stop offset=".564" stop-color="#92e100"/><stop offset=".584" stop-color="#87df00"/><stop offset=".588" stop-color="#61d600"/><stop offset=".597" stop-color="#37ca00"/><stop offset=".616" stop-color="#2ac608"/><stop offset=".655" stop-color="#37ca00"/><stop offset=".697" stop-color="#78dc00"/><stop offset=".703" stop-color="#87df00"/><stop offset=".726" stop-color="#81dd00"/><stop offset=".745" stop-color="#73db00"/><stop offset=".776" stop-color="#8fe100"/><stop offset=".799" stop-color="#7fdd00"/><stop offset=".822" stop-color="#98e300"/><stop offset=".851" stop-color="#e1f200"/><stop offset=".878" stop-color="#e2f300"/><stop offset=".920" stop-color="#dff200"/><stop offset=".926" stop-color="#ede900"/><stop offset=".941" stop-color="#f6b800"/><stop offset=".953" stop-color="#f4ab00"/><stop offset=".974" stop-color="#f8c900"/><stop offset=".982" stop-color="#f2da00"/><stop offset=".984" stop-color="#f2da00"/><stop offset=".986" stop-color="#e4f300"/><stop offset=".989" stop-color="#94e200"/><stop offset=".993" stop-color="#3fcc00"/><stop offset=".997" stop-color="#2dc704"/><stop offset=".999" stop-color="#2dc704"/></linearGradient><linearGradient id="g106" gradientUnits="userSpaceOnUse" x1="130" x2="1170"><stop offset=".001" stop-color="#a8e600"/><stop offset=".016" stop-color="#9fe400"/><stop offset=".043" stop-color="#78dc00"/><stop offset=".087" stop-color="#5ed500"/><stop offset=".120" stop-color="#57d300"/><stop offset=".145" stop-color="#62d600"/><stop offset=".178" stop-color="#41cd00"/><stop offset=".199" stop-color="#51d100"/><stop offset=".214" stop-color="#67d800"/><stop offset=".241" stop-color="#4acf00"/><stop offset=".274" stop-color="#5fd500"/><stop offset=".301" stop-color="#2fc801"/><stop offset=".341" stop-color="#2ec703"/><stop offset=".361" stop-color="#4acf00"/><stop offset=".378" stop-color="#77db00"/><stop offset=".395" stop-color="#7edd00"/><stop offset=".405" stop-color="#87df00"/><stop offset=".422" stop-color="#7ddd00"/><stop offset=".451" stop-color="#6dd900"/><stop offset=".482" stop-color="#87df00"/><stop offset=".511" stop-color="#6fda00"/><stop offset=".534" stop-color="#7bdc00"/><stop offset=".539" stop-color="#87df00"/><stop offset=".564" stop-color="#92e100"/><stop offset=".584" stop-color="#87df00"/><stop offset=".588" stop-color="#61d600"/><stop offset=".597" stop-color="#37ca00"/><stop offset=".616" stop-color="#2ac608"/><stop offset=".655" stop-color="#37ca00"/><stop offset=".697" stop-color="#78dc00"/><stop offset=".703" stop-color="#87df00"/><stop offset=".726" stop-color="#81dd00"/><stop offset=".745" stop-color="#73db00"/><stop offset=".776" stop-color="#8fe100"/><stop offset=".799" stop-color="#7fdd00"/><stop offset=".822" stop-color="#98e300"/><stop offset=".851" stop-color="#e1f200"/><stop offset=".878" stop-color="#e2f300"/><stop offset=".920" stop-color="#dff200"/><stop offset=".926" stop-color="#ede900"/><stop offset=".941" stop-color="#f6b800"/><stop offset=".953" stop-color="#f4ab00"/><stop offset=".974" stop-color="#f8c900"/><stop offset=".982" stop-color="#f2da00"/><stop offset=".984" stop-color="#f2da00"/><stop offset=".986" stop-color="#e4f300"/><stop offset=".989" stop-color="#94e200"/><stop offset=".993" stop-color="#3fcc00"/><stop offset=".997" stop-color="#2dc704"/><stop offset=".999" stop-color="#2dc704"/></linearGradient>
</defs>
<g clip-path="url(#plot)"><g filter="url(#vb)"><rect x="130" y="66.5" width="1040" height="4.6" fill="url(#g0)"/><rect x="130" y="70.5" width="1040" height="4.6" fill="url(#g1)"/><rect x="130" y="74.5" width="1040" height="4.6" fill="url(#g2)"/><rect x="130" y="78.5" width="1040" height="4.6" fill="url(#g3)"/><rect x="130" y="82.5" width="1040" height="4.6" fill="url(#g4)"/><rect x="130" y="86.5" width="1040" height="4.6" fill="url(#g5)"/><rect x="130" y="90.5" width="1040" height="4.6" fill="url(#g6)"/><rect x="130" y="94.5" width="1040" height="4.6" fill="url(#g7)"/><rect x="130" y="98.5" width="1040" height="4.6" fill="url(#g8)"/><rect x="130" y="102.5" width="1040" height="4.6" fill="url(#g9)"/><rect x="130" y="106.5" width="1040" height="4.6" fill="url(#g10)"/><rect x="130" y="110.5" width="1040" height="4.6" fill="url(#g11)"/><rect x="130" y="114.5" width="1040" height="4.6" fill="url(#g12)"/><rect x="130" y="118.5" width="1040" height="4.6" fill="url(#g13)"/><rect x="130" y="122.5" width="1040" height="4.6" fill="url(#g14)"/><rect x="130" y="126.5" width="1040" height="4.6" fill="url(#g15)"/><rect x="130" y="130.5" width="1040" height="4.6" fill="url(#g16)"/><rect x="130" y="134.5" width="1040" height="4.6" fill="url(#g17)"/><rect x="130" y="138.5" width="1040" height="4.6" fill="url(#g18)"/><rect x="130" y="142.5" width="1040" height="4.6" fill="url(#g19)"/><rect x="130" y="146.5" width="1040" height="4.6" fill="url(#g20)"/><rect x="130" y="150.5" width="1040" height="4.6" fill="url(#g21)"/><rect x="130" y="154.5" width="1040" height="4.6" fill="url(#g22)"/><rect x="130" y="158.5" width="1040" height="4.6" fill="url(#g23)"/><rect x="130" y="162.5" width="1040" height="4.6" fill="url(#g24)"/><rect x="130" y="166.5" width="1040" height="4.6" fill="url(#g25)"/><rect x="130" y="170.5" width="1040" height="4.6" fill="url(#g26)"/><rect x="130" y="174.5" width="1040" height="4.6" fill="url(#g27)"/><rect x="130" y="178.5" width="1040" height="4.6" fill="url(#g28)"/><rect x="130" y="182.5" width="1040" height="4.6" fill="url(#g29)"/><rect x="130" y="186.5" width="1040" height="4.6" fill="url(#g30)"/><rect x="130" y="190.5" width="1040" height="4.6" fill="url(#g31)"/><rect x="130" y="194.5" width="1040" height="4.6" fill="url(#g32)"/><rect x="130" y="198.5" width="1040" height="4.6" fill="url(#g33)"/><rect x="130" y="202.5" width="1040" height="4.6" fill="url(#g34)"/><rect x="130" y="206.5" width="1040" height="4.6" fill="url(#g35)"/><rect x="130" y="210.5" width="1040" height="4.6" fill="url(#g36)"/><rect x="130" y="214.5" width="1040" height="4.6" fill="url(#g37)"/><rect x="130" y="218.5" width="1040" height="4.6" fill="url(#g38)"/><rect x="130" y="222.5" width="1040" height="4.6" fill="url(#g39)"/><rect x="130" y="226.5" width="1040" height="4.6" fill="url(#g40)"/><rect x="130" y="230.5" width="1040" height="4.6" fill="url(#g41)"/><rect x="130" y="234.5" width="1040" height="4.6" fill="url(#g42)"/><rect x="130" y="238.5" width="1040" height="4.6" fill="url(#g43)"/><rect x="130" y="242.5" width="1040" height="4.6" fill="url(#g44)"/><rect x="130" y="246.5" width="1040" height="4.6" fill="url(#g45)"/><rect x="130" y="250.5" width="1040" height="4.6" fill="url(#g46)"/><rect x="130" y="254.5" width="1040" height="4.6" fill="url(#g47)"/><rect x="130" y="258.5" width="1040" height="4.6" fill="url(#g48)"/><rect x="130" y="262.5" width="1040" height="4.6" fill="url(#g49)"/><rect x="130" y="266.5" width="1040" height="4.6" fill="url(#g50)"/><rect x="130" y="270.5" width="1040" height="4.6" fill="url(#g51)"/><rect x="130" y="274.5" width="1040" height="4.6" fill="url(#g52)"/><rect x="130" y="278.5" width="1040" height="4.6" fill="url(#g53)"/><rect x="130" y="282.5" width="1040" height="4.6" fill="url(#g54)"/><rect x="130" y="286.5" width="1040" height="4.6" fill="url(#g55)"/><rect x="130" y="290.5" width="1040" height="4.6" fill="url(#g56)"/><rect x="130" y="294.5" width="1040" height="4.6" fill="url(#g57)"/><rect x="130" y="298.5" width="1040" height="4.6" fill="url(#g58)"/><rect x="130" y="302.5" width="1040" height="4.6" fill="url(#g59)"/><rect x="130" y="306.5" width="1040" height="4.6" fill="url(#g60)"/><rect x="130" y="310.5" width="1040" height="4.6" fill="url(#g61)"/><rect x="130" y="314.5" width="1040" height="4.6" fill="url(#g62)"/><rect x="130" y="318.5" width="1040" height="4.6" fill="url(#g63)"/><rect x="130" y="322.5" width="1040" height="4.6" fill="url(#g64)"/><rect x="130" y="326.5" width="1040" height="4.6" fill="url(#g65)"/><rect x="130" y="330.5" width="1040" height="4.6" fill="url(#g66)"/><rect x="130" y="334.5" width="1040" height="4.6" fill="url(#g67)"/><rect x="130" y="338.5" width="1040" height="4.6" fill="url(#g68)"/><rect x="130" y="342.5" width="1040" height="4.6" fill="url(#g69)"/><rect x="130" y="346.5" width="1040" height="4.6" fill="url(#g70)"/><rect x="130" y="350.5" width="1040" height="4.6" fill="url(#g71)"/><rect x="130" y="354.5" width="1040" height="4.6" fill="url(#g72)"/><rect x="130" y="358.5" width="1040" height="4.6" fill="url(#g73)"/><rect x="130" y="362.5" width="1040" height="4.6" fill="url(#g74)"/><rect x="130" y="366.5" width="1040" height="4.6" fill="url(#g75)"/><rect x="130" y="370.5" width="1040" height="4.6" fill="url(#g76)"/><rect x="130" y="374.5" width="1040" height="4.6" fill="url(#g77)"/><rect x="130" y="378.5" width="1040" height="4.6" fill="url(#g78)"/><rect x="130" y="382.5" width="1040" height="4.6" fill="url(#g79)"/><rect x="130" y="386.5" width="1040" height="4.6" fill="url(#g80)"/><rect x="130" y="390.5" width="1040" height="4.6" fill="url(#g81)"/><rect x="130" y="394.5" width="1040" height="4.6" fill="url(#g82)"/><rect x="130" y="398.5" width="1040" height="4.6" fill="url(#g83)"/><rect x="130" y="402.5" width="1040" height="4.6" fill="url(#g84)"/><rect x="130" y="406.5" width="1040" height="4.6" fill="url(#g85)"/><rect x="130" y="410.5" width="1040" height="4.6" fill="url(#g86)"/><rect x="130" y="414.5" width="1040" height="4.6" fill="url(#g87)"/><rect x="130" y="418.5" width="1040" height="4.6" fill="url(#g88)"/><rect x="130" y="422.5" width="1040" height="4.6" fill="url(#g89)"/><rect x="130" y="426.5" width="1040" height="4.6" fill="url(#g90)"/><rect x="130" y="430.5" width="1040" height="4.6" fill="url(#g91)"/><rect x="130" y="434.5" width="1040" height="4.6" fill="url(#g92)"/><rect x="130" y="438.5" width="1040" height="4.6" fill="url(#g93)"/><rect x="130" y="442.5" width="1040" height="4.6" fill="url(#g94)"/><rect x="130" y="446.5" width="1040" height="4.6" fill="url(#g95)"/><rect x="130" y="450.5" width="1040" height="4.6" fill="url(#g96)"/><rect x="130" y="454.5" width="1040" height="4.6" fill="url(#g97)"/><rect x="130" y="458.5" width="1040" height="4.6" fill="url(#g98)"/><rect x="130" y="462.5" width="1040" height="4.6" fill="url(#g99)"/><rect x="130" y="466.5" width="1040" height="4.6" fill="url(#g100)"/><rect x="130" y="470.5" width="1040" height="4.6" fill="url(#g101)"/><rect x="130" y="474.5" width="1040" height="4.6" fill="url(#g102)"/><rect x="130" y="478.5" width="1040" height="4.6" fill="url(#g103)"/><rect x="130" y="482.5" width="1040" height="4.6" fill="url(#g104)"/><rect x="130" y="486.5" width="1040" height="4.6" fill="url(#g105)"/><rect x="130" y="490.5" width="1040" height="4.6" fill="url(#g106)"/></g></g>
<g clip-path="url(#plot)"><path d="M433.8 70.4 434.6 71.0 436.2 72.1 438.6 73.9 441.8 76.2 445.1 77.4 448.3 77.5 451.5 76.6 454.8 74.5 457.2 73.0 458.8 72.0 459.6 71.5M468.2 71.0 469.3 71.6 471.5 72.6 474.7 74.3 479.0 76.4 483.0 77.5 486.8 77.4 490.3 76.2 493.5 73.9 496.0 72.1 497.6 71.0 498.4 70.4M416.5 70.4 416.4 71.1 416.1 72.6 415.7 74.8 415.2 77.8 415.2 80.8 415.7 83.9 416.8 87.1 418.4 90.3 420.4 92.6 422.9 93.9 425.7 94.3 428.9 93.8 432.4 93.2 436.2 92.5 440.2 91.8 444.5 91.0 448.4 90.8 451.9 91.4 455.0 92.6 457.7 94.5 460.3 96.6 462.7 98.9 465.0 101.3 467.2 104.0 469.4 106.3 471.9 108.2 474.4 109.7 477.1 110.8 479.5 112.2 481.7 114.1 483.6 116.4 485.2 119.1 486.9 120.4 488.8 120.3 490.8 118.7 493.0 115.7 495.4 113.2 498.1 111.0 501.1 109.3 504.3 107.9 507.3 107.1 510.0 106.7 512.4 106.7 514.5 107.3 516.0 108.3 516.8 110.0 517.0 112.1 516.4 114.8 515.6 117.4 514.5 119.8 513.2 122.1 511.6 124.2 510.6 126.7 510.4 129.3 510.8 132.3 511.8 135.5 513.1 138.1 514.4 140.0 515.9 141.2 517.5 141.7 519.2 141.3 521.1 140.0 523.1 137.7 525.3 134.5 527.7 130.7 530.4 126.4 533.4 121.5 536.6 116.2 539.8 111.2 543.1 106.6 546.3 102.4 549.5 98.7 552.8 95.2 556.0 92.1 559.2 89.4 562.5 86.9 565.4 84.7 568.1 82.5 570.5 80.5 572.7 78.6 574.6 76.8 576.2 75.2 577.5 73.7 578.6 72.4 579.4 71.4 580.0 70.7 580.2 70.4M598.5 70.4 597.9 71.7 596.7 74.2 594.9 78.1 592.5 83.2 590.0 88.2 587.4 93.2 584.8 98.1 582.1 103.0 579.8 107.5 577.7 111.8 576.1 115.9 574.7 119.7 574.0 122.9 574.0 125.6 574.7 127.7 576.1 129.3 578.4 130.8 581.8 132.0 586.1 133.0 591.5 133.8 596.9 134.4 602.3 134.8 607.7 135.0 613.1 135.0 618.5 134.7 623.8 134.0 629.2 133.0 634.6 131.6 640.0 129.8 645.5 127.5 651.0 124.8 656.5 121.5 661.1 118.5 664.7 115.7 667.3 113.1 669.0 110.6 670.6 108.2 672.3 105.8 673.9 103.4 675.5 100.9 677.2 98.8 679.1 96.9 681.2 95.3 683.3 93.9 685.2 92.2 686.8 90.0 688.2 87.5 689.2 84.5 690.4 81.8 691.8 79.2 693.3 76.8 694.9 74.7 696.2 73.0 697.3 71.8 698.1 71.1 698.7 70.8 699.1 70.6 699.3 70.5 699.5 70.4M719.9 70.4 720.1 70.9 720.3 71.8 720.7 73.2 721.3 75.1 721.7 77.0 722.1 79.1 722.5 81.2 722.7 83.3 723.4 84.9 724.3 85.8 725.6 86.1 727.2 85.9 728.8 85.4 730.4 84.7 732.0 83.8 733.7 82.8 735.5 81.6 737.7 80.2 740.1 78.7 742.8 77.1 745.1 75.6 747.0 74.3 748.5 73.1 749.5 72.0 750.3 71.2 750.9 70.7 751.2 70.4M796.4 83.3 796.2 83.6 795.8 84.3 795.2 85.3 794.4 86.7 793.8 88.5 793.6 90.8 793.6 93.5 793.8 96.8 794.7 99.9 796.2 102.8 798.3 105.7 801.0 108.3 803.0 111.4 804.5 114.9 805.4 118.8 805.7 123.2 806.2 127.1 807.0 130.8 808.1 134.1 809.4 137.0 811.1 139.8 813.1 142.5 815.5 145.1 818.2 147.5 820.9 149.7 823.6 151.6 826.3 153.2 829.0 154.5 831.2 155.6 833.1 156.4 834.6 156.9 835.7 157.2 836.5 157.4 837.0 157.5 837.3 157.6M130.4 73.6 130.9 74.5 131.8 76.2 133.2 78.9 135.1 82.4 137.0 85.2 139.1 87.3 141.2 88.8 143.3 89.6 145.6 89.8 148.0 89.4 150.6 88.3 153.3 86.5 156.0 85.1 158.7 83.9 161.3 82.9 164.0 82.2 166.7 81.4 169.4 80.5 172.1 79.5 174.8 78.5 177.0 77.2 178.8 75.9 180.1 74.4 180.9 72.8 181.5 71.6 181.9 70.8 182.1 70.4M169.2 70.4 169.0 70.8 168.7 71.6 168.3 72.8 167.8 74.4 167.5 76.4 167.5 78.7 167.8 81.3 168.3 84.2 169.1 87.0 170.0 89.5 171.2 91.8 172.5 93.8 174.1 95.4 175.8 96.6 177.8 97.4 179.9 97.8 182.2 98.0 184.6 97.9 187.2 97.6 189.9 97.0 192.2 96.3 194.1 95.4 195.5 94.2 196.6 92.9 197.4 91.0 197.9 88.8 198.1 86.0 198.0 82.8 197.8 79.9 197.7 77.3 197.6 75.1 197.4 73.2 197.3 71.8 197.2 70.9 197.2 70.4M312.4 70.4 312.7 71.1 313.4 72.4 314.4 74.4 315.7 77.1 317.0 79.3 318.0 81.1 319.0 82.4 319.8 83.2 320.7 83.4 321.8 83.0 323.0 82.0 324.4 80.3 325.6 78.7 326.6 76.9 327.6 75.1 328.4 73.2 329.0 71.8 329.4 70.9 329.6 70.4M356.5 70.4 356.9 70.9 357.5 71.8 358.6 73.2 359.9 75.1 361.1 77.4 362.2 80.1 363.1 83.2 363.9 86.7 365.3 90.0 367.2 93.3 369.6 96.4 372.6 99.3 375.7 102.0 379.1 104.2 382.6 106.2 386.4 107.8 389.4 109.0 391.7 109.8 393.2 110.2 393.9 110.2 395.3 110.8 397.2 111.8 399.8 113.5 403.1 115.6 406.3 117.8 409.5 119.9 412.8 122.1 416.0 124.2 419.2 126.1 422.5 127.7 425.7 129.1 428.9 130.2 431.8 131.5 434.4 133.1 436.6 135.0 438.5 137.2 440.2 139.4 441.8 141.9 443.3 144.4 444.7 147.1 446.4 149.9 448.4 152.9 450.7 156.0 453.4 159.2 456.0 162.2 458.4 164.9 460.7 167.3 462.8 169.5 465.3 171.6 468.0 173.8 470.9 175.9 474.2 178.1 477.2 179.0 480.2 178.7 483.0 177.3 485.7 174.6 488.3 172.3 490.7 170.4 493.0 168.9 495.2 167.8 497.8 167.3 501.1 167.3 504.8 167.8 509.2 168.9 513.2 170.2 517.0 171.7 520.5 173.4 523.7 175.2 527.2 175.9 531.0 175.4 535.0 173.6 539.3 170.7 543.5 168.2 547.5 166.4 551.4 165.0 555.2 164.2 558.4 163.8 561.1 163.8 563.3 164.2 564.9 165.0 566.3 166.4 567.5 168.2 568.5 170.7 569.3 173.6 570.4 175.7 571.7 176.7 573.4 176.9 575.2 176.1 577.3 174.9 579.6 173.4 582.1 171.6 584.8 169.5 587.6 167.6 590.6 166.2 593.7 165.0 596.9 164.2 600.4 163.7 604.2 163.6 608.2 163.8 612.5 164.3 616.8 165.1 621.1 166.0 625.5 167.2 629.8 168.5 634.1 168.7 638.4 167.8 642.7 165.7 647.0 162.5 651.0 159.4 654.8 156.6 658.3 154.0 661.5 151.6 663.9 149.7 665.3 148.3 665.9 147.5 665.5 147.2 666.1 146.9 667.5 146.5 669.8 146.0 673.1 145.5 676.7 145.2 680.7 145.0 685.2 145.1 690.0 145.4 695.0 145.9 700.1 146.7 705.4 147.8 710.8 149.1 715.9 150.7 720.7 152.4 725.3 154.4 729.6 156.5 733.8 158.5 737.8 160.2 741.7 161.8 745.5 163.1 749.4 163.9 753.4 164.2 757.6 163.9 761.9 163.1 766.2 161.9 770.5 160.3 774.8 158.3 779.2 155.9 783.2 154.1 787.0 153.0 790.5 152.6 793.7 152.9 796.9 153.8 800.1 155.3 803.4 157.3 806.6 160.0 809.7 162.9 812.7 165.8 815.5 168.9 818.2 172.2 820.6 175.4 822.8 178.6 824.6 181.8 826.3 185.1 827.6 188.0 828.7 190.7 829.5 193.1 830.0 195.3 830.8 197.3 831.9 199.0 833.3 200.6 834.9 201.9 836.5 202.8 838.1 203.2 839.7 203.1 841.3 202.6 843.0 201.7 844.6 200.5 846.2 198.9 847.8 197.1 849.6 195.2 851.4 193.5 853.5 191.8 855.6 190.2 858.0 188.6 860.7 187.0 863.7 185.3 866.9 183.7 869.3 182.5 871.0 181.7 871.8 181.3M856.7 215.8 856.1 216.3 854.8 217.2 852.9 218.7 850.3 220.6 848.3 222.5 846.9 224.4 846.0 226.3 845.7 228.3 845.9 230.5 846.7 233.1 848.1 236.0 850.0 239.3 852.3 242.4 854.8 245.5 857.7 248.4 861.0 251.3 864.0 254.1 866.9 256.7 869.7 259.1 872.3 261.3 874.6 263.7 876.5 266.1 878.1 268.6 879.4 271.2 880.5 273.8 881.4 276.2 882.1 278.7 882.7 281.1 883.7 283.4 885.2 285.5 887.2 287.5 889.6 289.4 892.1 290.5 894.5 290.9 896.9 290.6 899.4 289.5 901.6 287.9 903.6 285.8 905.5 283.1 907.2 279.9 908.4 277.0 909.3 274.4 909.7 272.2 909.7 270.2 909.1 268.0 908.0 265.6 906.3 262.9 904.1 260.1 902.0 257.5 900.0 255.4 898.3 253.8 896.6 252.5 895.4 251.5 894.6 250.8 894.2 250.5M130.4 113.5 131.0 113.4 132.2 113.3 134.0 113.2 136.4 113.1 139.0 112.9 141.7 112.9 144.5 112.8 147.5 112.8 150.0 113.2 152.2 114.0 153.9 115.2 155.3 116.9 157.2 118.3 159.8 119.6 163.0 120.7 166.7 121.7 170.5 122.0 174.3 121.7 178.0 120.7 181.8 119.1 185.4 118.3 188.7 118.3 191.9 119.1 194.9 120.7 197.8 122.3 200.8 124.0 203.7 125.6 206.7 127.2 209.1 128.7 211.0 130.2 212.4 131.6 213.2 133.0 214.2 134.1 215.4 134.9 216.8 135.4 218.4 135.7 220.4 135.5 222.7 134.8 225.3 133.7 228.2 132.0 231.5 130.8 235.2 129.9 239.2 129.5 243.5 129.3 247.5 129.5 251.3 130.0 254.8 130.8 258.0 131.9 260.3 131.8 261.7 130.5 262.2 128.0 261.8 124.3 261.8 120.9 262.4 117.5 263.4 114.4 264.9 111.4 266.8 108.4 269.2 105.3 272.0 102.2 275.2 98.9 278.3 96.4 281.1 94.6 283.7 93.5 286.1 93.1 288.4 93.5 290.6 94.6 292.6 96.4 294.5 98.9 296.3 101.3 298.0 103.7 299.7 105.9 301.3 108.1 303.4 110.0 305.8 111.8 308.6 113.3 311.8 114.7 315.2 116.2 318.7 117.8 322.3 119.5 326.1 121.4 330.0 123.0 334.1 124.4 338.2 125.4 342.5 126.2 346.7 127.3 350.7 128.5 354.6 130.0 358.4 131.8 361.9 133.5 365.1 135.3 368.1 137.0 370.8 138.8 373.6 140.3 376.6 141.5 379.7 142.5 382.9 143.2 385.8 144.7 388.3 147.0 390.5 150.1 392.3 154.0 394.2 157.4 396.2 160.4 398.2 163.0 400.4 165.2 403.1 167.4 406.3 169.9 410.1 172.4 414.4 175.1 418.7 177.7 423.0 180.1 427.3 182.4 431.6 184.5 435.8 186.7 439.8 188.8 443.7 191.0 447.5 193.1 451.1 195.3 454.6 197.5 458.0 199.6 461.2 201.8 464.6 203.8 468.1 205.7 471.7 207.4 475.5 209.0 479.1 211.2 482.6 213.9 486.0 217.1 489.2 220.9 492.3 223.0 495.3 223.6 498.1 222.5 500.8 219.8 503.4 217.4 505.8 215.2 508.1 213.3 510.2 211.7 512.2 210.8 513.9 210.5 515.5 210.9 516.8 212.0 517.9 213.6 518.7 215.8 519.2 218.5 519.5 221.7 520.3 224.6 521.5 227.3 523.1 229.8 525.3 231.9 527.2 234.3 528.8 237.0 530.1 240.0 531.2 243.2 531.9 246.6 532.2 250.1 532.0 253.7 531.5 257.5 531.5 260.7 532.0 263.4 533.1 265.6 534.7 267.2 536.7 268.3 539.2 268.8 542.0 268.8 545.2 268.3 548.5 267.7 551.7 267.0 554.9 266.2 558.1 265.4 561.2 265.2 564.2 265.4 567.0 266.2 569.7 267.6 572.7 268.5 575.9 268.9 579.4 268.8 583.2 268.3 587.0 267.5 590.7 266.4 594.5 265.0 598.3 263.4 601.8 261.4 605.0 259.0 608.0 256.1 610.6 252.9 613.5 249.7 616.4 246.5 619.5 243.2 622.8 240.0 626.1 237.0 629.6 234.3 633.3 231.9 637.0 229.8 640.5 227.7 643.8 225.9 646.7 224.1 649.4 222.5 652.2 220.9 654.9 219.3 657.8 217.7 660.7 216.0 663.2 215.2 665.5 215.2 667.4 216.0 669.0 217.7 670.9 219.7 673.1 222.1 675.5 224.9 678.2 228.2 680.9 231.9 683.6 236.2 686.3 241.1 689.0 246.5 691.5 251.4 693.9 256.0 696.2 260.2 698.4 264.0 700.4 266.7 702.3 268.3 704.0 268.8 705.7 268.3 707.5 267.1 709.7 265.2 712.1 262.6 714.8 259.4 717.8 256.7 721.0 254.5 724.5 252.9 728.3 251.8 731.9 251.0 735.4 250.5 738.8 250.2 742.0 250.2 745.0 249.6 747.7 248.2 750.1 246.2 752.2 243.5 754.0 240.5 755.5 237.3 756.7 233.8 757.5 230.0 757.7 226.5 757.3 223.3 756.3 220.3 754.7 217.7 753.1 215.1 751.6 212.7 750.2 210.4 748.9 208.2 747.9 206.5 747.2 205.1 746.8 204.2 746.8 203.7 747.4 202.6 748.5 201.0 750.1 198.8 752.2 196.1 754.5 193.7 756.9 191.5 759.5 189.7 762.2 188.0 764.7 187.2 767.2 187.2 769.5 188.0 771.6 189.7 773.4 191.7 774.7 194.1 775.7 196.9 776.2 200.2 776.5 203.2 776.7 206.0 776.6 208.7 776.3 211.2 776.2 213.4 776.2 215.3 776.3 216.8 776.6 218.1 777.3 219.2 778.5 220.0 780.2 220.5 782.4 220.7 784.8 220.5 787.5 219.7 790.5 218.3 793.7 216.4 796.8 215.2 799.7 214.5 802.6 214.4 805.3 215.0 808.0 215.9 810.6 217.2 813.3 219.0 816.0 221.2 819.0 223.6 822.2 226.3 825.7 229.2 829.5 232.5 832.5 235.6 834.6 238.5 836.0 241.3 836.5 244.0 836.8 246.9 836.8 249.8 836.5 252.9 836.0 256.2 836.1 259.0 836.9 261.4 838.4 263.4 840.5 265.0 843.1 266.4 846.1 267.5 849.4 268.3 853.2 268.8 856.6 269.6 859.5 270.7 862.1 272.0 864.2 273.7 866.1 275.8 867.7 278.5 869.1 281.7 870.1 285.5 871.5 289.3 873.1 293.0 875.0 296.8 877.1 300.6 879.4 303.8 881.9 306.5 884.4 308.7 887.1 310.3 889.8 311.2 892.5 311.5 895.2 311.1 897.9 310.0 900.6 308.9 903.3 307.8 906.0 306.8 908.6 305.7 911.3 305.3 914.0 305.6 916.7 306.5 919.4 308.1 922.5 309.9 926.0 312.0 929.8 314.3 934.0 316.8 937.6 319.4 940.6 322.3 942.8 325.4 944.5 328.6 946.5 331.7 948.9 334.7 951.8 337.4 955.1 340.1 957.5 342.0 959.2 343.3 960.0 344.0M262.8 133.5 262.6 134.0 262.2 135.0 261.6 136.5 260.8 138.5 259.7 140.3 258.4 142.1 256.8 143.6 254.9 145.1 253.1 146.1 251.3 146.6 249.5 146.7 247.8 146.3 246.4 145.8 245.5 145.1 244.9 144.2 244.8 143.1 244.7 142.3 244.6 141.7 244.5 141.5M662.3 196.9 663.4 195.8 664.7 194.8 666.3 193.7 668.2 192.6 670.4 191.5 672.5 190.3 674.7 189.0 676.8 187.5 679.0 185.9 681.3 184.1 683.7 182.2 686.3 180.2 689.0 178.1 691.9 176.4 695.2 175.2 698.7 174.4 702.4 174.2 706.1 174.2 709.6 174.4 712.9 175.0 716.2 175.8 719.0 176.9 721.4 178.4 723.4 180.2 725.0 182.4 726.4 184.8 727.5 187.5 728.3 190.5 728.8 193.7 729.3 196.5 729.7 198.9 730.0 201.0 730.3 202.6 730.3 204.2 730.0 205.8 729.5 207.4 728.7 209.0 727.4 210.7 725.6 212.5 723.4 214.3 720.7 216.2 718.2 217.2 715.7 217.5 713.5 217.0 711.3 215.6 709.0 214.1 706.6 212.3 704.0 210.4 701.3 208.2 698.1 206.6 694.3 205.5 690.0 205.0 685.2 205.0 680.7 204.9 676.7 204.6 673.1 204.2 669.8 203.6 667.2 203.0 665.0 202.2 663.4 201.2 662.3 200.1 661.8 199.1 661.8 198.0 662.3 196.9M375.9 211.1 378.1 210.8 380.0 211.0 381.6 211.7 382.9 212.8 384.0 214.4 384.5 215.9 384.3 217.2 383.6 218.5 382.2 219.5 380.8 220.1 379.3 220.3 377.8 219.9 376.2 219.1 374.9 218.1 374.0 216.9 373.4 215.5 373.1 213.9 373.4 212.6 374.4 211.7 375.9 211.1M841.7 309.9 843.0 309.1 844.8 308.6 846.9 308.3 849.5 308.2 852.5 308.3 855.0 308.6 857.0 309.1 858.5 309.8 859.5 310.7 859.7 311.6 859.1 312.5 857.6 313.5 855.4 314.5 853.1 315.2 850.7 315.7 848.2 315.8 845.8 315.7 843.7 315.3 842.2 314.7 841.1 313.8 840.6 312.7 840.5 311.7 840.8 310.7 841.7 309.9M859.4 214.4 860.0 214.0 861.1 213.2 862.8 212.0 865.0 210.3 867.6 208.9 870.5 207.7 873.7 206.7 877.3 205.9 880.2 205.2 882.4 204.5 884.1 204.0 885.0 203.5 885.8 203.2 886.3 202.9 886.5 202.8M949.2 283.7 948.9 284.4 948.2 285.8 947.1 287.9 945.8 290.6 944.6 293.8 943.7 297.2 943.0 301.0 942.5 305.2 942.5 308.9 943.0 312.1 943.9 314.8 945.3 317.2 947.0 319.7 949.1 322.4 951.6 325.4 954.3 328.7 956.9 331.5 959.2 334.1 961.2 336.3 963.1 338.1 964.8 340.1 966.4 342.2 967.9 344.4 969.3 346.7 970.7 348.6 972.1 350.2 973.5 351.5 974.8 352.4 976.2 352.9 977.6 352.9 979.0 352.4 980.4 351.5 981.8 350.3 983.2 349.0 984.6 347.4 985.9 345.5 987.0 344.2 987.7 343.3 988.0 342.8M130.0 202.3 130.6 203.1 131.8 204.6 133.7 206.9 136.1 210.0 138.3 211.7 140.1 212.0 141.7 210.9 142.9 208.5 144.6 205.9 146.8 203.1 149.4 200.2 152.5 197.1 155.6 195.3 158.6 194.6 161.7 195.2 164.8 197.1 167.7 199.3 170.5 201.9 173.1 204.9 175.5 208.3 178.7 210.3 182.7 210.9 187.5 210.2 193.1 208.0 198.2 207.2 202.8 207.6 207.0 209.4 210.6 212.5 213.7 215.6 216.2 218.9 218.0 222.2 219.3 225.5 220.6 228.0 222.2 229.5 223.9 230.2 225.7 229.8 227.4 228.9 229.0 227.2 230.3 224.8 231.6 221.7 233.1 218.9 234.9 216.3 237.1 213.9 239.5 211.7 242.3 209.9 245.4 208.3 248.8 207.1 252.5 206.2 255.5 205.3 258.0 204.3 259.9 203.4 261.1 202.5 261.8 201.4 261.8 200.2 261.1 198.8 259.9 197.2 258.6 195.8 257.4 194.4 256.2 193.1 254.9 191.8 255.4 190.0 257.7 187.5 261.6 184.3 267.3 180.5 272.1 178.4 276.2 178.0 279.4 179.3 281.8 182.2 284.2 185.5 286.7 189.0 289.1 192.7 291.5 196.8 293.2 200.5 294.1 203.9 294.3 206.9 293.8 209.6 293.1 212.4 292.3 215.4 291.4 218.5 290.3 221.7 289.6 224.6 289.4 227.3 289.5 229.8 290.0 231.9 291.5 233.8 293.9 235.4 297.3 236.8 301.6 237.8 305.3 239.1 308.4 240.4 310.9 241.9 312.8 243.5 314.3 245.6 315.3 248.3 316.0 251.6 316.3 255.3 316.6 259.2 317.0 263.3 317.5 267.5 318.0 271.8 319.2 275.5 321.1 278.8 323.7 281.5 326.9 283.6 330.0 285.5 333.0 287.1 335.8 288.5 338.5 289.5 341.1 289.9 343.5 289.7 345.8 288.7 347.9 287.1 349.7 285.4 351.0 283.5 352.0 281.5 352.5 279.3 353.2 277.6 354.0 276.2 354.9 275.3 356.0 274.7 357.5 275.0 359.4 276.1 361.6 278.0 364.3 280.6 367.0 283.3 369.7 286.0 372.4 288.7 375.1 291.4 377.0 294.2 378.1 297.2 378.3 300.3 377.8 303.5 377.1 306.4 376.3 308.8 375.4 310.8 374.3 312.4 373.9 313.9 374.2 315.2 375.1 316.5 376.7 317.5 378.6 317.7 380.8 316.9 383.2 315.1 385.9 312.4 388.9 309.7 392.2 307.0 395.9 304.3 399.8 301.6 403.7 299.1 407.6 296.7 411.4 294.4 415.2 292.2 419.1 290.5 423.1 289.1 427.3 288.2 431.6 287.7 435.9 287.3 440.2 287.2 444.5 287.2 448.8 287.5 452.5 287.5 455.4 287.2 457.7 286.7 459.3 285.9 460.8 284.8 462.2 283.3 463.4 281.5 464.5 279.3 465.8 277.8 467.4 276.8 469.3 276.5 471.5 276.7 473.5 277.4 475.4 278.5 477.1 280.0 478.7 281.9 480.5 283.5 482.4 285.0 484.4 286.3 486.5 287.4 488.6 288.9 490.4 290.7 492.2 293.0 493.8 295.7 495.4 298.4 497.0 301.1 498.7 303.8 500.3 306.5 502.3 308.9 504.7 310.9 507.5 312.6 510.8 313.9 514.1 315.0 517.4 315.8 520.9 316.3 524.4 316.6 527.7 316.3 531.0 315.3 534.1 313.8 537.0 311.6 539.6 309.5 541.9 307.3 543.9 305.2 545.5 303.0 547.1 301.7 548.7 301.1 550.3 301.4 552.0 302.5 553.8 303.7 556.0 305.0 558.4 306.5 561.1 308.1 563.7 309.2 566.1 309.7 568.4 309.7 570.5 309.2 572.8 309.2 575.2 309.7 577.8 310.8 580.5 312.4 583.3 313.8 586.3 314.8 589.4 315.7 592.6 316.2 595.7 316.2 598.7 315.7 601.5 314.6 604.2 313.0 606.7 311.1 609.2 308.9 611.5 306.5 613.6 303.8 615.9 300.7 618.3 297.2 620.9 293.3 623.6 289.0 626.1 285.0 628.6 281.2 630.8 277.7 633.0 274.5 635.1 271.8 637.3 269.8 639.5 268.4 641.6 267.6 643.9 267.3 646.3 267.6 648.9 268.4 651.6 269.7 654.3 271.2 657.0 272.6 659.6 274.2 662.3 275.8 664.3 277.0 665.4 277.8 665.9 278.2 665.5 278.2 665.9 278.6 667.1 279.4 669.0 280.7 671.7 282.3 674.8 284.2 678.3 286.3 682.2 288.7 686.5 291.4 690.7 294.0 694.7 296.4 698.7 298.7 702.4 300.8 706.1 302.9 709.6 304.7 712.9 306.5 716.2 308.1 718.7 310.3 720.6 313.0 721.8 316.2 722.3 320.0 722.7 323.6 723.0 327.1 723.2 330.5 723.2 333.7 723.6 336.9 724.4 340.1 725.6 343.4 727.2 346.6 728.8 349.2 730.4 351.1 732.0 352.3 733.7 352.8 735.5 353.1 737.7 353.1 740.1 352.8 742.8 352.3 745.2 351.5 747.4 350.4 749.3 349.0 750.9 347.4 752.5 345.5 754.1 343.4 755.7 341.0 757.3 338.3 758.8 335.4 760.0 332.5 761.0 329.4 761.8 326.2 762.2 322.9 762.2 319.7 761.8 316.5 761.0 313.2 760.1 310.0 759.2 306.8 758.2 303.5 757.1 300.3 756.7 296.7 756.9 292.8 757.9 288.6 759.5 284.0 761.7 280.1 764.3 276.9 767.6 274.3 771.3 272.4 774.7 270.9 777.7 269.7 780.2 268.8 782.4 268.3 785.2 267.4 788.7 266.2 792.9 264.6 797.7 262.7 802.0 261.5 805.8 261.0 809.0 261.1 811.7 261.9 814.1 263.2 816.3 265.0 818.2 267.2 819.8 269.9 821.1 273.0 822.2 276.5 823.0 280.4 823.6 284.7 823.9 288.9 824.0 292.9 824.0 296.8 823.7 300.6 823.4 304.6 823.0 308.9 822.6 313.5 822.1 318.4 822.7 323.4 824.2 328.6 826.8 334.0 830.4 339.6 833.8 344.6 836.8 349.2 839.7 353.3 842.3 356.9 845.2 359.8 848.2 362.1 851.6 363.8 855.2 364.7 858.6 365.3 861.9 365.5 865.0 365.2 868.0 364.6 870.4 363.5 872.4 362.1 873.9 360.2 874.8 357.9 875.3 355.4 875.3 352.6 874.8 349.6 873.9 346.3 873.1 343.0 872.6 339.5 872.4 336.0 872.4 332.4 872.7 329.3 873.4 326.8 874.4 324.8 875.6 323.3 877.3 322.3 879.2 321.8 881.5 321.9 884.2 322.4 887.0 323.3 889.9 324.7 893.0 326.5 896.3 328.8 899.5 330.2 902.6 330.7 905.6 330.2 908.5 329.0 911.2 328.3 913.6 328.3 915.9 329.0 917.8 330.2 920.1 331.8 922.7 333.6 925.7 335.6 928.9 337.9 932.2 340.1 935.4 342.0 938.7 343.8 942.0 345.5 945.1 347.4 948.0 349.7 950.8 352.3 953.5 355.3 955.6 357.8 957.2 359.9 958.4 361.6 959.0 362.9 959.7 364.3 960.4 365.6 961.1 366.9 961.9 368.3 963.2 369.7 965.2 371.1 967.7 372.5 970.9 373.9 973.7 375.5 976.3 377.2 978.6 379.1 980.6 381.1 982.7 383.1 985.0 385.1 987.5 387.1 990.0 389.1 992.3 390.6 994.3 391.6 996.1 392.1 997.5 392.1 998.8 391.8 999.9 391.2 1000.8 390.4 1001.4 389.2 1001.9 387.7 1002.0 385.9 1001.9 383.6 1001.4 381.1 1001.0 378.6 1000.5 376.3 999.9 374.2 999.4 372.2 999.0 370.1 998.9 368.0 998.9 365.7 999.2 363.5 999.7 361.3 1000.2 359.3 1000.9 357.4 1001.6 355.7 1002.7 353.9 1004.0 352.1 1005.6 350.2 1007.4 348.3 1008.8 346.9 1009.7 346.0 1010.2 345.5M426.8 205.5 427.8 204.5 429.0 203.9 430.2 203.9 431.5 204.5 432.8 205.5 433.8 206.7 434.3 208.1 434.4 209.6 434.2 211.2 433.6 212.4 432.6 213.2 431.3 213.6 429.7 213.6 428.4 213.2 427.3 212.4 426.5 211.2 426.0 209.6 425.8 208.1 426.1 206.7 426.8 205.5M170.0 262.3 172.7 261.8 175.1 261.8 177.2 262.3 179.1 263.4 180.7 265.0 181.8 266.5 182.3 267.9 182.3 269.1 181.8 270.2 180.6 271.1 178.7 271.9 176.2 272.6 172.9 273.1 170.3 273.1 168.3 272.6 166.9 271.5 166.1 269.9 165.5 268.4 165.2 267.1 165.2 265.8 165.5 264.8 166.4 263.8 167.9 263.0 170.0 262.3M130.4 248.1 131.3 248.2 133.0 248.5 135.6 248.9 139.1 249.4 142.6 249.8 145.9 249.9 149.2 249.8 152.5 249.6 155.6 249.3 158.5 249.0 161.3 248.7 164.0 248.5 166.7 248.7 169.4 249.4 172.1 250.5 174.8 252.1 177.5 253.7 180.2 255.3 182.9 257.0 185.6 258.6 187.9 260.1 189.7 261.4 191.2 262.6 192.3 263.7 193.0 264.8 193.2 265.8 193.1 266.9 192.6 268.0 192.5 269.1 192.9 270.2 193.8 271.2 195.1 272.3 196.7 272.8 198.6 272.8 200.8 272.3 203.2 271.2 205.8 270.2 208.7 269.1 211.7 268.0 214.9 266.9 218.0 265.9 221.0 265.0 223.8 264.1 226.5 263.3 229.1 263.0 231.5 263.3 233.8 264.1 235.9 265.4 237.3 266.7 237.8 267.9 237.5 269.1 236.5 270.2 234.8 271.2 232.7 272.3 230.0 273.4 226.8 274.5 223.5 275.7 220.3 277.0 217.1 278.5 213.8 280.1 211.6 281.9 210.2 283.7 209.8 285.8 210.3 287.9 211.3 290.1 212.6 292.2 214.4 294.4 216.5 296.5 218.6 298.6 220.4 300.4 222.2 302.2 223.8 303.8 225.2 305.7 226.2 307.8 227.0 310.3 227.6 313.0 228.9 315.1 231.1 316.7 234.0 317.8 237.8 318.3 241.3 319.2 244.5 320.2 247.5 321.6 250.2 323.2 253.0 324.5 256.0 325.6 259.1 326.4 262.3 327.0 265.5 327.6 268.8 328.4 272.0 329.4 275.2 330.5 278.7 331.6 282.5 332.8 286.5 334.1 290.8 335.4 295.1 336.5 299.5 337.3 303.8 337.9 308.1 338.1 312.8 338.4 317.9 338.7 323.4 338.9 329.3 339.2 334.2 339.6 338.0 340.1 340.6 340.8 342.3 341.6 343.6 342.4 344.7 343.0 345.5 343.6 346.0 344.2 345.9 345.4 345.1 347.3 343.6 349.8 341.5 353.1 339.8 356.4 338.6 359.9 337.8 363.6 337.6 367.3 337.6 370.8 337.8 373.9 338.4 376.6 339.2 379.1 340.6 380.9 342.6 382.3 345.2 383.1 348.5 383.4 351.8 383.6 355.3 383.7 359.0 383.8 362.7 383.8 365.6 382.7 367.6 380.5 368.8 377.3 369.1 373.0 369.6 369.4 370.4 366.4 371.5 364.1 372.8 362.5 374.6 360.9 376.9 359.5 379.7 358.1 382.9 356.7 386.0 355.8 389.0 355.4 391.8 355.5 394.5 356.0 397.0 356.8 399.2 357.7 401.2 358.9 403.1 360.2 404.6 360.7 405.9 360.3 407.0 359.0 407.8 356.8 408.9 354.7 410.2 352.5 411.8 350.4 413.7 348.2 416.1 346.3 418.9 344.5 422.2 343.0 426.0 341.6 429.7 340.8 433.5 340.6 437.3 340.8 441.0 341.6 444.2 342.6 446.6 343.9 448.5 345.3 449.7 346.9 450.4 348.5 450.6 350.1 450.5 351.7 449.8 353.3 448.8 355.0 447.4 356.6 445.6 358.2 443.5 359.8 442.1 361.4 441.6 363.0 441.8 364.7 442.9 366.3 444.4 366.9 446.3 366.7 448.6 365.5 451.3 363.3 454.1 361.4 457.1 359.8 460.2 358.5 463.4 357.4 466.6 356.3 469.8 355.2 473.1 354.2 476.3 353.1 478.9 352.5 480.9 352.5 482.4 353.1 483.2 354.2 483.3 355.9 482.8 358.3 481.6 361.4 479.7 365.2 479.1 368.1 479.7 370.1 481.7 371.2 484.9 371.5 488.2 372.1 491.4 372.9 494.6 373.9 497.8 375.3 500.9 376.4 503.9 377.4 506.7 378.1 509.4 378.7 512.1 378.7 514.8 378.3 517.5 377.4 520.2 376.1 522.8 375.2 525.4 374.6 527.9 374.5 530.3 374.7 532.2 375.4 533.5 376.3 534.3 377.6 534.6 379.2 534.3 380.9 533.3 382.8 531.8 384.8 529.6 387.0 527.9 389.2 526.5 391.3 525.6 393.5 525.0 395.6 525.3 397.4 526.4 398.7 528.3 399.7 531.0 400.2 533.9 400.5 537.1 400.5 540.6 400.2 544.4 399.7 548.3 398.6 552.4 397.0 556.5 394.8 560.8 392.1 564.7 389.3 568.2 386.3 571.3 383.2 574.0 380.0 577.0 376.8 580.2 373.5 583.7 370.3 587.5 367.1 591.0 364.2 594.2 361.6 597.2 359.4 599.9 357.5 602.3 356.0 604.5 354.8 606.3 353.9 608.0 353.3 609.4 353.3 610.6 353.7 611.6 354.6 612.4 355.9 613.0 357.7 613.4 360.0 613.6 362.8 613.6 366.0 613.7 369.5 614.0 373.3 614.4 377.3 615.0 381.6 615.7 385.5 616.6 389.0 617.8 392.1 619.1 394.8 620.8 397.1 622.8 399.0 625.2 400.5 627.9 401.5 630.6 402.2 633.3 402.5 636.0 402.3 638.6 401.8 641.6 400.9 644.8 399.7 648.3 398.2 652.1 396.3 655.5 394.8 658.6 393.7 661.4 393.1 663.8 392.8 666.3 393.2 668.8 394.3 671.4 396.0 674.0 398.4 676.6 400.3 679.3 401.7 682.0 402.5 684.7 402.7 686.5 402.5 687.6 401.9 687.9 400.7 687.3 399.1 686.4 397.5 685.1 395.9 683.3 394.3 681.2 392.7 679.3 390.8 677.7 388.6 676.3 386.2 675.2 383.5 674.6 380.8 674.3 378.1 674.4 375.4 675.0 372.7 676.0 370.3 677.7 368.2 679.8 366.3 682.5 364.7 685.1 363.7 687.5 363.4 689.8 363.8 691.9 364.9 693.8 366.4 695.4 368.3 696.8 370.6 697.8 373.3 699.5 375.4 701.6 377.0 704.3 378.1 707.5 378.7 710.8 379.1 714.0 379.3 717.2 379.5 720.5 379.5 723.4 380.2 726.1 381.7 728.5 383.9 730.7 386.9 732.0 390.0 732.6 393.2 732.3 396.6 731.2 400.1 730.2 403.8 729.3 407.7 728.4 411.8 727.6 416.1 727.2 420.1 727.2 423.9 727.6 427.4 728.4 430.6 729.8 434.0 731.8 437.5 734.5 441.1 737.7 444.9 740.9 448.4 744.2 451.6 747.4 454.6 750.6 457.3 753.8 459.8 757.1 462.2 760.3 464.5 763.5 466.7 766.4 468.2 769.0 469.2 771.2 469.5 773.1 469.2 774.6 468.3 775.9 466.7 776.7 464.4 777.3 461.4 777.5 458.0 777.3 454.1 776.9 449.7 776.1 444.9 775.2 439.5 774.2 433.6 773.2 427.1 772.2 420.1 771.5 412.8 771.2 405.3 771.3 397.5 771.9 389.4 772.5 381.3 773.2 373.3 773.9 365.2 774.7 357.1 775.4 350.4 775.9 345.0 776.3 341.0 776.6 338.2 777.3 335.6 778.5 332.9 780.2 330.2 782.4 327.5 784.3 325.3 785.9 323.6 787.3 322.4 788.3 321.6 789.8 321.1 791.7 320.9 793.9 321.0 796.6 321.3 799.1 322.2 801.5 323.7 803.9 325.7 806.2 328.3 808.6 331.2 811.2 334.5 814.0 338.1 817.0 342.0 819.7 345.6 822.1 348.9 824.3 351.8 826.3 354.5 828.6 357.1 831.2 359.7 834.1 362.3 837.4 364.9 840.7 367.4 843.9 369.9 847.2 372.3 850.5 374.5 853.4 376.8 855.8 379.2 857.8 381.5 859.5 383.7 861.3 385.5 863.2 386.6 865.4 387.2 867.6 387.2 870.0 386.6 872.5 385.5 875.0 383.7 877.6 381.5 880.0 378.9 882.3 376.1 884.5 373.1 886.4 369.8 888.2 366.4 889.9 362.8 891.4 359.0 892.6 355.1 894.0 352.1 895.5 350.2 897.1 349.2 898.7 349.2 900.5 349.7 902.5 350.7 904.6 352.2 906.9 354.1 909.2 355.9 911.7 357.3 914.2 358.6 916.9 359.5 919.6 360.4 922.6 361.2 925.7 362.0 928.9 362.6 932.0 363.4 935.0 364.4 937.7 365.6 940.4 366.9 942.8 368.6 945.1 370.7 947.3 373.2 949.2 376.2 951.0 379.2 952.6 382.5 954.1 385.8 955.3 389.2 956.6 392.7 958.0 396.1 959.4 399.6 960.8 403.0 962.6 406.0 964.6 408.6 966.9 410.8 969.4 412.5 972.2 413.9 975.0 414.9 978.0 415.5 981.2 415.8 984.5 415.9 987.9 415.9 991.5 415.8 995.2 415.5 998.6 414.9 1001.6 414.1 1004.2 412.9 1006.6 411.5 1008.7 409.7 1010.7 407.5 1012.6 405.0 1014.3 402.2 1015.7 399.5 1016.9 396.9 1017.8 394.4 1018.3 392.1 1018.7 389.9 1018.8 387.8 1018.8 385.7 1018.4 383.7 1018.0 381.8 1017.4 380.1 1016.7 378.5 1015.9 377.1 1015.3 375.4 1015.0 373.5 1015.0 371.4 1015.3 369.1 1015.6 366.9 1016.0 364.8 1016.4 362.8 1016.8 360.9 1017.2 359.4 1017.4 358.5 1017.5 358.0M130.4 345.0 130.9 345.3 131.8 345.8 133.2 346.6 135.1 347.7 136.9 349.5 138.7 352.1 140.5 355.4 142.2 359.4 143.1 363.0 143.1 366.3 142.2 369.1 140.5 371.5 138.7 373.7 136.9 375.6 135.1 377.2 133.2 378.5 131.8 379.5 130.9 380.2 130.4 380.5M130.4 420.4 131.8 420.0 134.6 419.2 138.9 418.0 144.5 416.3 149.4 414.1 153.6 411.1 157.0 407.5 159.7 403.2 161.9 399.2 163.5 395.7 164.6 392.7 165.1 390.0 166.1 387.3 167.4 384.6 169.2 381.9 171.3 379.2 173.5 376.5 175.6 373.8 177.8 371.1 179.9 368.4 181.6 366.1 182.8 364.2 183.6 362.8 183.8 361.7 183.3 360.7 181.9 359.7 179.8 358.9 176.8 358.1 173.7 357.2 170.3 356.4 166.7 355.6 163.0 354.8 159.6 353.7 156.6 352.2 154.1 350.4 151.9 348.2 149.6 346.2 147.2 344.3 144.7 342.6 142.0 341.0 139.5 339.9 137.2 339.3 135.1 339.3 133.2 339.9 131.8 340.3 130.9 340.6 130.4 340.7M130.4 433.3 131.3 433.6 133.0 434.1 135.6 434.9 139.1 436.0 142.4 437.2 145.5 438.6 148.4 440.0 151.1 441.7 154.1 442.9 157.3 443.9 160.8 444.5 164.6 444.7 168.1 444.3 171.3 443.3 174.3 441.5 177.0 439.1 179.5 436.6 181.9 434.0 184.2 431.4 186.4 428.7 188.6 425.9 190.9 422.9 193.2 419.8 195.7 416.6 198.2 414.5 200.9 413.4 203.7 413.4 206.7 414.5 209.5 415.6 212.0 416.8 214.4 418.1 216.5 419.4 218.7 421.1 220.8 422.9 223.0 425.1 225.2 427.5 227.3 430.1 229.5 433.0 231.6 436.0 233.8 439.2 236.5 441.7 239.7 443.3 243.5 444.1 247.8 444.1 252.3 444.1 257.2 444.1 262.3 444.1 267.7 444.1 272.5 444.3 276.8 444.9 280.6 445.7 283.8 446.8 287.1 447.8 290.3 448.9 293.5 450.0 296.8 451.1 300.0 452.2 303.2 453.2 306.5 454.3 309.7 455.4 313.1 456.5 316.6 457.7 320.2 459.0 324.0 460.4 327.5 461.4 330.7 462.2 333.6 462.8 336.3 463.1 339.4 463.1 342.9 462.8 346.8 462.2 351.1 461.4 355.5 460.5 359.8 459.4 364.1 458.2 368.4 456.9 372.4 455.3 376.2 453.6 379.7 451.6 382.9 449.5 386.1 447.7 389.4 446.4 392.6 445.4 395.8 444.9 398.6 444.5 400.8 444.4 402.6 444.5 403.9 444.7 405.1 445.3 406.3 446.1 407.4 447.2 408.5 448.5 409.7 450.1 411.0 451.8 412.5 453.8 414.1 455.9 416.1 457.9 418.6 459.8 421.4 461.6 424.6 463.2 427.8 464.6 431.1 465.8 434.3 466.8 437.5 467.6 440.5 468.8 443.2 470.5 445.6 472.5 447.8 474.9 450.2 476.9 452.9 478.3 455.8 479.3 459.1 479.9 462.3 480.0 465.5 479.7 468.8 479.1 472.0 478.0 475.2 477.1 478.5 476.2 481.7 475.6 484.9 475.0 487.9 474.2 490.6 473.1 493.0 471.8 495.2 470.2 497.0 467.8 498.7 464.5 500.0 460.5 501.1 455.7 502.4 451.6 504.0 448.4 505.9 446.0 508.1 444.3 510.5 442.7 513.2 441.1 516.2 439.5 519.4 437.9 522.5 436.1 525.4 434.0 528.3 431.8 531.0 429.4 533.6 427.8 536.3 427.0 539.0 427.0 541.7 427.8 545.1 428.5 549.1 429.0 553.8 429.4 559.2 429.7 564.6 429.9 570.0 430.2 575.4 430.5 580.8 430.7 586.1 430.9 591.5 431.1 596.9 431.2 602.3 431.2 607.7 430.9 613.1 430.5 618.5 429.9 623.8 429.1 628.7 428.2 633.0 427.1 636.8 425.9 640.0 424.6 643.2 423.7 646.5 423.5 649.7 423.7 652.9 424.6 656.1 424.8 659.4 424.4 662.6 423.3 665.8 421.7 668.7 420.4 671.2 419.5 673.4 418.9 675.2 418.6 677.1 418.8 679.1 419.5 681.2 420.7 683.3 422.3 684.8 424.3 685.6 426.7 685.7 429.5 685.2 432.8 684.8 435.9 684.5 438.8 684.4 441.7 684.4 444.3 684.8 446.8 685.6 448.9 686.8 450.8 688.4 452.4 690.7 453.9 693.7 455.2 697.3 456.5 701.6 457.5 705.9 458.6 710.2 459.7 714.5 460.8 718.8 461.8 723.2 463.1 727.5 464.4 731.8 465.9 736.1 467.5 740.1 469.2 743.9 471.1 747.4 473.1 750.6 475.3 753.7 477.3 756.7 479.2 759.5 481.0 762.2 482.6 764.9 484.0 767.6 485.2 770.3 486.2 773.0 487.0 775.0 487.6 776.3 488.0 777.0 488.2M783.5 488.2 784.1 487.4 785.5 485.6 787.5 483.0 790.2 479.5 792.7 476.0 795.2 472.7 797.5 469.4 799.6 466.2 801.4 462.8 802.7 459.3 803.6 455.7 804.2 451.9 805.3 448.5 806.9 445.6 809.0 443.0 811.7 440.8 814.1 439.0 816.3 437.3 818.2 436.0 819.8 434.9 820.3 433.6 819.8 432.0 818.2 430.1 815.5 427.9 812.4 426.4 808.9 425.6 805.0 425.5 800.7 426.0 797.1 425.9 794.1 425.1 791.8 423.6 790.2 421.5 788.8 418.8 787.8 415.5 787.0 411.8 786.4 407.5 785.9 403.4 785.3 399.7 784.8 396.2 784.3 392.9 784.3 389.2 784.8 385.0 785.9 380.4 787.5 375.2 788.9 370.1 790.1 365.1 791.0 360.2 791.6 355.2 792.5 351.5 793.7 348.9 795.1 347.4 796.7 347.1 798.6 347.2 800.7 347.7 803.1 348.6 805.7 349.9 808.5 351.6 811.4 353.9 814.5 356.7 817.8 360.0 820.9 362.9 823.9 365.6 826.6 367.9 829.3 369.8 831.8 371.8 834.2 373.8 836.6 375.7 838.9 377.7 840.8 379.8 842.5 382.1 843.8 384.5 844.7 387.2 845.6 389.7 846.2 392.1 846.7 394.4 847.0 396.7 847.6 398.9 848.3 401.2 849.3 403.6 850.5 406.0 852.1 408.3 854.1 410.6 856.4 412.8 859.1 415.0 861.7 416.7 864.1 418.1 866.4 419.0 868.5 419.6 870.7 420.7 872.8 422.3 875.0 424.4 877.1 427.1 879.6 429.0 882.3 430.1 885.2 430.3 888.5 429.8 891.6 428.6 894.5 426.7 897.3 424.2 900.0 420.9 902.6 418.4 905.0 416.5 907.3 415.3 909.5 414.7 911.6 414.9 913.8 415.7 915.9 417.2 918.1 419.3 920.1 421.7 922.0 424.4 923.7 427.4 925.3 430.6 927.1 433.3 929.0 435.5 931.0 437.1 933.1 438.2 935.0 438.4 936.6 437.9 938.0 436.5 939.1 434.4 940.0 432.0 940.8 429.3 941.5 426.3 942.0 423.1 942.3 420.5 942.2 418.7 941.8 417.5 941.1 417.0 941.1 416.8 941.9 417.0 943.4 417.5 945.8 418.4 948.3 419.4 951.2 420.6 954.4 421.8 957.8 423.3 961.8 424.4 966.4 425.3 971.6 425.9 977.3 426.1 982.3 426.7 986.6 427.4 990.2 428.3 993.1 429.4 996.0 430.5 998.8 431.7 1001.7 432.8 1004.6 434.0 1008.2 434.8 1012.5 435.4 1017.5 435.7 1023.2 435.7 1028.9 435.7 1034.7 435.7 1040.4 435.7 1046.2 435.7 1050.8 435.5 1054.4 435.1 1056.9 434.4 1058.4 433.6 1059.1 432.6 1059.1 431.4 1058.4 430.2 1056.9 428.7 1055.1 427.4 1053.0 426.1 1050.5 424.9 1047.6 423.7 1044.9 422.4 1042.3 421.0 1039.8 419.4 1037.5 417.7 1035.6 416.0 1034.0 414.2 1032.8 412.5 1032.0 410.8 1031.1 408.8 1030.1 406.5 1029.0 403.9 1027.8 401.0 1026.8 398.2 1026.0 395.5 1025.2 392.8 1024.7 390.3 1024.2 388.3 1023.9 387.0 1023.8 386.4M694.6 412.0 695.7 409.3 697.2 406.9 699.1 404.6 701.3 402.5 704.0 400.6 706.9 399.1 709.8 398.0 712.9 397.4 716.2 397.1 718.4 397.4 719.8 398.4 720.2 399.9 719.7 402.1 718.6 404.4 717.0 406.8 714.8 409.3 712.1 412.0 709.3 414.3 706.3 416.0 703.2 417.3 700.0 418.1 697.4 418.5 695.6 418.5 694.3 418.1 693.8 417.3 693.7 416.0 693.9 414.3 694.6 412.0M898.6 383.2 899.9 382.2 901.3 381.7 902.8 381.8 904.3 382.6 906.0 383.9 907.8 385.2 910.0 386.4 912.4 387.5 915.1 388.6 917.3 389.8 919.1 391.2 920.4 392.7 921.2 394.3 921.6 395.9 921.6 397.5 921.2 399.1 920.4 400.7 919.3 401.7 918.1 401.9 916.7 401.5 915.1 400.5 913.5 399.2 911.9 397.9 910.3 396.4 908.6 394.8 907.0 393.3 905.2 392.0 903.4 390.8 901.5 389.7 900.0 388.7 898.8 387.7 897.9 386.9 897.3 386.1 897.3 385.2 897.7 384.2 898.6 383.2M130.4 461.3 130.9 461.7 131.8 462.5 133.2 463.7 135.1 465.3 137.0 466.8 139.1 468.2 141.2 469.4 143.3 470.5 145.5 471.5 147.6 472.6 149.8 473.7 151.9 474.8 153.9 476.1 155.6 477.7 157.2 479.6 158.5 481.8 159.7 483.6 160.6 485.1 161.3 486.2 161.9 487.0 162.3 487.6 162.6 488.0 162.7 488.2M545.8 488.2 546.3 487.7 547.4 486.6 549.0 485.0 551.1 482.8 553.2 481.8 555.1 481.8 556.8 482.8 558.4 485.0 559.6 486.6 560.4 487.7 560.8 488.2M624.4 488.2 624.6 487.7 625.0 486.6 625.6 485.0 626.4 482.8 627.3 481.6 628.2 481.2 629.2 481.6 630.3 483.0 631.0 484.2 631.4 485.3 631.5 486.2 631.2 487.0 631.0 487.6 630.9 488.0 630.8 488.2M688.7 488.2 689.4 487.6 690.7 486.4 692.7 484.6 695.4 482.2 698.2 480.1 701.2 478.3 704.3 476.9 707.5 475.8 710.6 475.2 713.6 474.9 716.4 475.0 719.1 475.6 721.7 476.4 724.1 477.5 726.4 478.8 728.5 480.4 730.4 482.0 732.0 483.4 733.4 484.9 734.5 486.2 735.3 487.2 735.8 487.9 736.1 488.2M858.8 488.2 859.6 487.8 861.3 487.0 863.7 485.8 866.9 484.2 869.9 483.2 872.6 482.8 875.0 483.0 877.1 483.8 878.9 484.6 880.2 485.4 881.2 486.2 881.7 487.0 882.1 487.6 882.4 488.0 882.5 488.2M921.3 488.2 922.2 487.6 924.1 486.4 927.0 484.6 930.7 482.2 934.1 480.4 937.0 479.3 939.6 478.9 941.8 479.2 943.4 479.4 944.5 479.5 945.0 479.6M973.2 487.6 973.9 485.9 975.3 482.4 977.4 477.2 980.1 470.3 983.3 464.4 986.7 459.5 990.5 455.7 994.7 453.0 998.8 450.6 1003.0 448.6 1007.1 447.1 1011.3 445.9 1015.5 445.1 1019.9 444.7 1024.4 444.6 1029.1 444.8 1033.5 445.4 1037.6 446.2 1041.6 447.3 1045.2 448.6 1048.7 450.2 1051.9 452.1 1054.9 454.1 1057.7 456.4 1060.2 457.8 1062.5 458.3 1064.6 457.8 1066.4 456.5 1068.2 454.3 1069.8 451.3 1071.3 447.5 1072.7 442.8 1073.6 438.8 1074.1 435.3 1074.2 432.4 1073.7 430.1 1073.0 428.1 1071.9 426.3 1070.5 424.9 1068.8 423.7 1066.6 422.7 1064.1 421.9 1061.1 421.1 1057.6 420.6 1054.5 419.7 1051.6 418.5 1049.1 417.1 1046.8 415.4 1044.7 413.5 1042.8 411.5 1041.1 409.4 1039.7 407.1 1038.4 404.8 1037.2 402.5 1036.2 400.1 1035.4 397.9 1034.5 395.6 1033.7 393.5 1032.8 391.4 1032.0 389.4 1031.3 387.9 1030.9 386.9 1030.7 386.4M952.2 234.5 952.7 234.3 953.8 234.1 955.4 233.6 957.6 233.0 960.2 232.3 963.3 231.4 966.8 230.5 970.8 229.4 974.4 228.8 977.6 228.6 980.5 228.9 982.9 229.7 985.4 230.3 987.8 230.7 990.3 231.1 992.8 231.2 995.3 231.2 997.7 230.9 1000.2 230.3 1002.6 229.6 1004.5 229.0 1005.7 228.6 1006.3 228.4M978.0 259.2 978.7 258.7 980.1 257.8 982.2 256.4 984.9 254.6 987.6 253.0 990.2 251.6 992.8 250.4 995.2 249.5 997.5 248.9 999.7 248.8 1001.7 249.0 1003.5 249.6 1005.1 250.5 1006.3 251.7 1007.2 253.3 1007.9 255.1 1008.2 256.9 1008.2 258.6 1007.9 260.2 1007.2 261.8 1007.4 263.1 1008.3 264.1 1010.0 264.8 1012.5 265.2 1014.8 265.4 1017.0 265.4 1018.9 265.2 1020.8 264.8 1022.7 264.0 1024.7 262.8 1026.8 261.3 1028.9 259.5 1030.6 258.1 1031.7 257.2 1032.2 256.7M1058.1 294.8 1058.2 295.5 1058.5 296.9 1058.8 298.9 1059.3 301.7 1060.2 304.2 1061.6 306.5 1063.4 308.6 1065.8 310.4 1068.2 311.5 1070.7 311.7 1073.4 311.1 1076.1 309.8 1078.2 308.3 1079.6 306.7 1080.3 304.9 1080.3 303.1 1080.3 301.7 1080.3 300.8 1080.3 300.3M1111.7 350.1 1111.9 349.8 1112.4 349.1 1113.1 348.0 1114.0 346.7 1115.3 345.8 1116.9 345.3 1118.9 345.3 1121.1 345.8 1123.4 346.6 1125.8 347.8 1128.0 349.2 1130.3 351.1 1132.4 353.4 1134.3 356.1 1135.9 359.4 1137.3 363.1 1138.9 366.5 1140.8 369.8 1142.9 372.8 1145.1 375.5 1147.6 378.0 1150.1 380.0 1152.8 381.8 1155.5 383.1 1157.6 384.2 1159.0 384.9 1159.7 385.2M1012.0 487.6 1012.1 486.6 1012.3 484.5 1012.7 481.4 1013.1 477.2 1013.9 473.6 1015.1 470.6 1016.6 468.2 1018.4 466.4 1020.6 464.6 1023.2 463.0 1026.0 461.5 1029.3 460.2 1032.3 459.5 1035.0 459.5 1037.6 460.2 1039.9 461.5 1041.9 463.3 1043.5 465.3 1044.8 467.8 1045.7 470.5 1046.3 473.4 1046.5 476.4 1046.4 479.5 1045.9 482.8 1045.6 485.2 1045.3 486.8 1045.2 487.6M1031.8 391.0 1032.5 391.4 1034.0 392.3 1036.1 393.6 1039.0 395.3 1041.6 397.1 1043.9 399.0 1045.9 400.9 1047.6 402.9 1049.5 404.8 1051.5 406.5 1053.7 408.0 1056.0 409.5 1058.3 410.2 1060.7 410.1 1063.1 409.3 1065.5 407.8 1068.3 407.0 1071.4 407.1 1074.8 407.9 1078.4 409.5 1081.8 411.5 1084.8 413.9 1087.4 416.7 1089.8 420.0 1091.6 423.1 1093.0 426.1 1093.9 429.0 1094.4 431.7 1094.3 434.5 1093.6 437.3 1092.3 440.1 1090.5 442.8 1089.0 445.6 1087.8 448.4 1087.0 451.2 1086.5 453.9 1086.3 456.8 1086.3 459.8 1086.5 462.9 1087.0 466.2 1087.5 469.6 1087.9 473.3 1088.4 477.2 1088.8 481.4 1089.2 484.5 1089.4 486.6 1089.5 487.6M1017.1 285.4 1018.0 284.0 1018.9 282.9 1019.9 282.1 1020.8 281.6 1021.7 281.3 1022.8 281.3 1024.1 281.5 1025.6 282.0 1027.2 282.7 1028.5 283.5 1029.4 284.4 1030.0 285.4 1030.2 286.4 1030.1 287.5 1029.8 288.7 1029.1 289.8 1028.2 291.1 1027.0 292.0 1025.6 292.6 1024.0 292.9 1022.2 292.9 1020.6 292.6 1019.2 291.9 1018.0 290.8 1017.1 289.5 1016.6 288.1 1016.6 286.7 1017.1 285.4M1048.9 372.3 1048.6 372.8 1047.9 373.7 1046.8 375.1 1045.5 376.9 1045.1 378.7 1045.8 380.3 1047.6 381.8 1050.3 383.1 1053.3 384.3 1056.6 385.2 1060.0 385.9 1063.7 386.4 1067.4 387.0 1071.1 387.7 1074.8 388.5 1078.4 389.4 1082.0 389.8 1085.5 389.5 1088.8 388.7 1092.1 387.3 1094.8 385.6 1097.1 383.5 1099.0 381.0 1100.4 378.3 1101.3 375.1 1101.8 371.7 1101.8 367.9 1101.3 363.7 1100.6 359.6 1099.7 355.4 1098.5 351.3 1097.2 347.1 1095.7 343.2 1094.1 339.5 1092.3 336.1 1090.5 332.8 1088.6 330.2 1086.8 328.1 1084.9 326.6 1083.1 325.7 1080.3 324.9 1076.6 324.2 1072.0 323.6 1066.4 323.2 1061.3 323.1 1056.7 323.3 1052.6 323.9 1048.9 324.8 1045.5 325.9 1042.4 327.2 1039.5 328.8 1036.9 330.5 1034.9 331.7 1033.7 332.6 1033.0 333.0M1132.0 487.6 1131.5 487.0 1130.6 485.9 1129.2 484.1 1127.4 481.9 1125.4 479.2 1123.3 476.2 1121.1 472.9 1118.9 469.1 1116.7 465.5 1114.6 461.8 1112.6 458.1 1110.8 454.4 1109.5 450.8 1108.8 447.3 1108.7 444.0 1109.1 440.7 1109.0 437.4 1108.3 433.9 1107.1 430.4 1105.2 426.7 1103.8 423.1 1102.6 419.7 1101.8 416.3 1101.3 413.1 1101.5 409.7 1102.4 406.3 1104.0 402.7 1106.3 399.0 1109.0 396.0 1112.0 393.6 1115.3 391.8 1119.0 390.6 1122.8 389.7 1126.4 388.9 1130.1 388.4 1133.9 388.0 1137.4 388.0 1140.9 388.2 1144.2 388.7 1147.5 389.6 1150.4 390.6 1153.1 391.8 1155.6 393.1 1157.7 394.7 1159.9 396.2 1162.1 397.7 1164.4 399.2 1166.6 400.8 1168.3 401.9 1169.4 402.6 1170.0 403.0M1054.2 339.9 1056.6 339.2 1058.9 339.2 1061.1 339.9 1063.4 341.3 1065.8 343.4 1067.6 345.4 1069.0 347.3 1069.9 349.2 1070.4 351.1 1070.5 352.9 1070.3 354.7 1069.7 356.6 1068.8 358.4 1067.6 360.3 1066.2 362.1 1064.6 364.0 1062.8 365.8 1061.0 367.1 1059.4 367.8 1057.9 367.9 1056.6 367.5 1055.2 366.3 1053.8 364.5 1052.4 361.9 1051.0 358.7 1049.8 355.9 1048.9 353.6 1048.2 351.7 1047.8 350.4 1047.7 348.9 1047.9 347.3 1048.5 345.5 1049.4 343.7 1050.7 342.1 1052.3 340.9 1054.2 339.9M1170.0 461.8 1168.8 461.6 1166.3 461.1 1162.7 460.4 1157.8 459.5 1153.5 458.8 1149.6 458.3 1146.3 458.1 1143.6 458.1 1141.0 458.6 1138.7 459.5 1136.6 460.9 1134.8 462.7 1132.7 463.5 1130.4 463.3 1127.8 462.0 1125.1 459.7 1122.9 456.9 1121.3 453.7 1120.2 450.0 1119.8 445.8 1119.8 441.6 1120.2 437.2 1121.2 432.7 1122.5 428.1 1124.3 423.6 1126.3 419.2 1128.8 414.9 1131.5 410.8 1134.1 407.6 1136.4 405.5 1138.5 404.5 1140.3 404.5 1142.3 405.0 1144.4 405.9 1146.5 407.3 1148.8 409.1 1151.2 411.0 1153.4 412.8 1155.8 414.7 1158.1 416.5 1160.3 418.4 1162.5 420.2 1164.7 422.1 1166.8 423.9 1168.4 425.3 1169.5 426.2 1170.0 426.7M863.3 112.6 864.1 112.2 865.7 111.4 868.1 110.2 871.4 108.6 874.8 107.2 878.3 105.9 882.0 104.7 885.9 103.8 889.4 103.4 892.7 103.8 895.6 104.7 898.1 106.4 900.4 108.7 902.3 111.8 903.9 115.5 905.2 120.0 906.6 124.6 908.1 129.1 909.6 133.6 911.2 138.1 913.3 142.4 915.9 146.4 919.0 150.2 922.5 153.8 926.2 157.0 929.9 159.9 933.7 162.5 937.6 164.8 941.0 167.1 943.9 169.6 946.3 172.1 948.2 174.6 950.1 177.4 951.8 180.3 953.5 183.3 955.2 186.6 956.5 189.8 957.4 193.0 958.1 196.3 958.4 199.5 958.3 202.8 957.8 206.0 956.9 209.2 955.7 212.5 954.4 215.5 953.1 218.4 951.8 221.2 950.4 223.7 949.2 226.3 947.9 228.9 946.6 231.5 945.3 234.1 944.4 236.1 943.7 237.3 943.4 238.0M902.0 157.9 903.0 158.5 904.9 159.8 907.8 161.8 911.7 164.3 915.6 166.6 919.4 168.5 923.3 170.2 927.2 171.5 930.7 173.1 933.7 175.0 936.4 177.3 938.7 179.8 940.6 182.7 942.0 186.0 943.1 189.5 943.7 193.4 944.1 197.3 944.1 201.1 943.7 205.0 943.1 208.9 942.4 212.4 941.8 215.7 941.1 218.6 940.5 221.1 940.0 223.1 939.7 224.4 939.5 225.0M903.3 166.9 904.2 167.6 906.0 169.1 908.6 171.2 912.2 174.1 915.6 176.7 919.0 179.0 922.3 180.9 925.6 182.6 928.5 184.5 931.1 186.8 933.3 189.4 935.3 192.2 936.7 195.1 937.5 197.8 937.7 200.5 937.4 203.1 936.7 205.3 935.8 207.1 934.5 208.4 932.8 209.4 931.6 210.1 930.8 210.6 930.4 210.8M867.1 81.6 867.0 82.5 866.9 84.3 866.6 86.9 866.3 90.5 865.8 93.8 865.2 96.9 864.4 99.7 863.4 102.3 862.7 104.2 862.2 105.6 862.0 106.2M207.5 357.7 210.0 356.4 212.6 355.7 215.4 355.4 218.3 355.5 221.4 356.2 224.0 357.1 226.1 358.3 227.8 359.9 229.1 361.7 229.5 363.5 229.2 365.2 228.1 366.8 226.3 368.3 224.1 369.4 221.7 370.0 218.9 370.1 215.8 369.9 213.0 369.2 210.6 368.3 208.4 367.1 206.6 365.5 205.2 364.1 204.3 362.9 203.8 361.8 203.8 360.9 204.4 359.9 205.7 358.8 207.5 357.7M246.0 343.4 247.8 342.5 249.5 342.3 251.1 342.7 252.4 343.9 253.7 345.7 254.3 347.3 254.3 348.7 253.7 349.9 252.4 350.8 251.1 351.3 249.8 351.5 248.3 351.3 246.8 350.6 245.6 349.9 244.6 348.9 244.0 347.9 243.7 346.6 243.9 345.5 244.7 344.4 246.0 343.4M277.1 355.7 278.3 354.8 279.5 354.4 280.6 354.5 281.6 355.2 282.4 356.5 282.8 357.6 282.7 358.7 282.0 359.7 280.7 360.6 279.6 361.0 278.5 360.8 277.5 360.2 276.6 358.9 276.2 357.8 276.4 356.7 277.1 355.7M242.2 371.5 245.5 369.7 249.0 368.1 252.5 366.7 256.1 365.5 259.8 364.6 263.1 364.3 265.9 364.6 268.2 365.5 270.0 367.1 271.0 368.7 271.0 370.4 270.0 372.2 268.2 374.0 265.9 375.3 263.1 376.1 259.8 376.3 256.1 376.0 252.8 375.9 249.7 376.1 246.9 376.4 244.5 377.1 242.4 377.3 240.7 377.1 239.4 376.6 238.5 375.7 238.6 374.5 239.9 373.1 242.2 371.5M239.5 399.6 242.0 398.3 244.5 397.6 247.2 397.3 249.9 397.4 252.6 398.0 254.7 398.8 256.1 399.7 256.8 400.7 256.8 402.0 256.1 403.0 254.7 404.0 252.6 404.7 249.9 405.4 247.2 405.7 244.8 405.7 242.5 405.4 240.3 404.7 238.6 404.1 237.4 403.5 236.6 402.9 236.3 402.3 236.7 401.5 237.7 400.6 239.5 399.6M745.2 96.1 746.5 95.4 747.6 95.3 748.7 95.6 749.7 96.4 750.6 97.6 751.1 98.8 751.1 99.9 750.6 100.9 749.7 101.8 748.7 102.4 747.6 102.5 746.5 102.3 745.2 101.6 744.3 100.9 743.7 100.2 743.4 99.3 743.4 98.4 743.7 97.5 744.3 96.8 745.2 96.1M689.6 115.6 691.4 114.1 693.2 113.1 694.9 112.6 696.5 112.7 698.0 113.3 699.1 114.1 699.7 115.2 699.8 116.5 699.6 118.1 698.8 119.2 697.6 120.0 695.9 120.4 693.7 120.4 691.9 120.2 690.3 119.9 689.1 119.5 688.2 118.8 688.0 118.0 688.4 116.9 689.6 115.6M727.7 115.3 729.5 114.4 731.5 113.8 733.7 113.7 736.0 113.9 738.5 114.6 740.5 115.4 742.0 116.5 743.1 117.8 743.7 119.3 743.7 120.8 743.1 122.1 741.8 123.4 740.0 124.7 738.0 125.4 735.8 125.7 733.5 125.6 731.1 125.0 729.1 124.1 727.5 122.9 726.5 121.3 725.8 119.5 725.8 117.9 726.4 116.5 727.7 115.3M757.5 145.3 758.8 144.7 759.8 144.5 760.8 144.6 761.5 145.2 762.2 146.1 762.3 147.0 762.0 147.7 761.3 148.4 760.0 149.0 759.0 149.2 758.0 149.1 757.3 148.5 756.6 147.6 756.5 146.7 756.8 146.0 757.5 145.3M640.2 179.8 641.1 179.1 641.8 179.3 642.3 180.2 642.5 181.9 642.5 184.4 642.3 186.4 641.8 187.9 641.1 189.0 640.2 189.6 639.4 189.7 638.8 189.4 638.3 188.7 638.0 187.4 637.8 186.2 637.8 185.0 638.0 183.8 638.3 182.5 638.8 181.5 639.4 180.5 640.2 179.8M639.7 307.4 641.6 306.7 643.5 306.6 645.5 306.9 647.6 307.7 649.7 308.9 651.3 310.3 652.2 311.9 652.5 313.6 652.2 315.4 651.3 317.0 649.9 318.4 648.0 319.6 645.6 320.4 643.4 320.8 641.6 320.7 640.1 320.0 638.8 318.7 637.9 317.3 637.3 315.6 637.0 313.7 637.0 311.5 637.5 309.8 638.4 308.4 639.7 307.4M661.9 333.6 663.7 332.3 665.6 331.7 667.4 331.5 669.2 331.9 671.1 332.8 672.3 333.9 672.9 335.1 672.9 336.5 672.3 338.0 671.3 339.2 669.9 340.1 668.2 340.8 666.0 341.0 664.2 340.9 662.6 340.3 661.4 339.2 660.5 337.7 660.3 336.2 660.7 334.9 661.9 333.6M463.2 296.6 464.8 295.4 466.3 294.6 467.9 294.3 469.4 294.4 470.9 295.1 471.7 295.9 471.9 297.0 471.4 298.3 470.1 299.9 468.8 301.1 467.5 302.0 466.0 302.6 464.5 302.9 463.3 302.9 462.3 302.4 461.7 301.6 461.4 300.3 461.5 299.1 462.1 297.9 463.2 296.6M506.0 233.1 508.2 232.2 510.2 232.0 512.2 232.6 514.2 234.0 516.0 236.2 517.1 238.2 517.4 240.2 516.9 242.2 515.7 244.0 514.2 245.3 512.5 245.9 510.6 245.9 508.4 245.2 506.7 244.2 505.3 242.6 504.3 240.6 503.7 238.2 503.8 236.1 504.6 234.4 506.0 233.1" stroke="#142424" stroke-opacity="0.85" stroke-width="1.35" fill="none" stroke-linejoin="round"/></g>
<g clip-path="url(#plot)" font-family="Liberation Serif" font-style="italic" font-weight="bold" font-size="9" text-anchor="middle" fill="#1a2020"><text transform="translate(200.4 85.5) rotate(60)" x="0" y="3">17</text><text transform="translate(253.1 138.2) rotate(-60)" x="0" y="3">18</text><text transform="translate(575.9 76.8) rotate(-45)" x="0" y="3">16</text><text transform="translate(466.1 171.6) rotate(30)" x="0" y="3">17</text><text transform="translate(693.0 75.8) rotate(-60)" x="0" y="3">16</text><text transform="translate(740.4 77.9) rotate(-30)" x="0" y="3">16</text><text transform="translate(823.3 151.2) rotate(30)" x="0" y="3">16</text><text transform="translate(826.5 192.1) rotate(80)" x="0" y="3">17</text><text transform="translate(854.5 188.8) rotate(-30)" x="0" y="3">17</text><text transform="translate(684.4 182.4) rotate(-45)" x="0" y="3">18</text><text transform="translate(747.9 202.8) rotate(-70)" x="0" y="3">18</text><text transform="translate(287.6 222.2) rotate(90)" x="0" y="3">19</text><text transform="translate(185.3 255.6) rotate(-30)" x="0" y="3">20</text><text transform="translate(529.6 236.2) rotate(60)" x="0" y="3">18</text><text transform="translate(544.7 303.0) rotate(-60)" x="0" y="3">19</text><text transform="translate(796.4 262.1) rotate(-20)" x="0" y="3">19</text><text transform="translate(897.6 254.5) rotate(80)" x="0" y="3">17</text><text transform="translate(254.2 369.8) rotate(-20)" x="0" y="3">20</text><text transform="translate(380.2 356.8) rotate(-30)" x="0" y="3">20</text><text transform="translate(140.1 417.2) rotate(-20)" x="0" y="3">21</text><text transform="translate(156.2 478.5) rotate(60)" x="0" y="3">22</text><text transform="translate(616.8 390.2) rotate(60)" x="0" y="3">20</text><text transform="translate(407.9 448.4) rotate(30)" x="0" y="3">21</text><text transform="translate(699.5 407.5) rotate(-60)" x="0" y="3">21</text><text transform="translate(771.6 409.6) rotate(-80)" x="0" y="3">20</text><text transform="translate(803.9 452.7) rotate(-70)" x="0" y="3">21</text><text transform="translate(757.6 480.7) rotate(30)" x="0" y="3">21</text><text transform="translate(715.6 475.3) rotate(30)" x="0" y="3">22</text><text transform="translate(910.5 394.5) rotate(60)" x="0" y="3">21</text><text transform="translate(948.3 286.5) rotate(-60)" x="0" y="3">18</text><text transform="translate(979.7 347.4) rotate(-45)" x="0" y="3">18</text><text transform="translate(1000.0 366.8) rotate(-70)" x="0" y="3">19</text><text transform="translate(1019.4 387.1) rotate(80)" x="0" y="3">20</text><text transform="translate(1049.8 348.3) rotate(-60)" x="0" y="3">25</text><text transform="translate(1062.8 387.1) rotate(0)" x="0" y="3">24</text><text transform="translate(1143.1 377.8) rotate(-30)" x="0" y="3">23</text><text transform="translate(1027.7 402.7) rotate(70)" x="0" y="3">21</text><text transform="translate(1043.4 396.2) rotate(45)" x="0" y="3">22</text><text transform="translate(1158.8 400.8) rotate(30)" x="0" y="3">24</text><text transform="translate(1162.4 422.1) rotate(60)" x="0" y="3">25</text><text transform="translate(1046.1 474.7) rotate(70)" x="0" y="3">23</text><text transform="translate(1154.1 474.7) rotate(70)" x="0" y="3">24</text><text transform="translate(912.9 172.6) rotate(45)" x="0" y="3">19</text><text transform="translate(930.2 173.2) rotate(30)" x="0" y="3">20</text><text transform="translate(954.8 189.2) rotate(70)" x="0" y="3">21</text><text transform="translate(996.5 231.5) rotate(0)" x="0" y="3">22</text><text transform="translate(1028.5 260.4) rotate(-45)" x="0" y="3">23</text><text transform="translate(872.8 90.8) rotate(-45)" x="0" y="3">22</text><text transform="translate(872.8 107.5) rotate(-30)" x="0" y="3">21</text></g>
<path d="M199.3 70.5V488.0M268.7 70.5V488.0M338.0 70.5V488.0M407.3 70.5V488.0M476.7 70.5V488.0M546.0 70.5V488.0M615.3 70.5V488.0M684.7 70.5V488.0M754.0 70.5V488.0M823.3 70.5V488.0M892.7 70.5V488.0M962.0 70.5V488.0M1031.3 70.5V488.0M1100.7 70.5V488.0M130.0 140.1H1170.0M130.0 209.7H1170.0M130.0 279.2H1170.0M130.0 348.8H1170.0M130.0 418.4H1170.0" stroke="#303030" stroke-width="1" stroke-dasharray="1 2" fill="none" opacity="0.6"/>
<path d="M789.5 70.5 789.5 73.5 793.0 73.5 793.0 77.0 796.6 77.0 796.6 84.0 800.0 84.0 800.0 94.0 804.0 94.0 810.6 98.0 810.6 108.0 814.0 108.0 814.0 113.0 820.7 113.0 818.0 119.0 824.0 128.5 828.6 134.4 834.4 148.7 844.4 153.0 848.7 157.3 857.3 163.1 865.9 176.0 871.0 177.4 883.2 185.3 883.2 195.0 883.9 201.5 886.5 204.0 880.0 209.2 880.0 214.4 871.0 217.0 856.8 215.7 856.8 219.5 859.4 222.1 860.7 226.0 865.8 227.3 867.1 229.9 873.6 232.5 874.9 236.3 883.9 240.2 889.1 244.1 896.8 248.0 904.6 250.5 913.6 251.8 917.5 254.4 922.7 258.3 929.1 262.2 935.6 267.3 943.3 269.9 949.8 272.5 954.8 280.0 958.5 290.0 958.5 302.2 951.1 316.9 950.2 319.7 962.2 322.5 971.4 326.2 984.3 335.4 995.4 344.6 1006.5 353.8 1017.5 364.9 1023.1 372.3 1028.6 383.4 1032.3 386.1 1034.1 386.1 1036.0 379.7 1047.1 372.3 1043.4 359.4 1032.3 357.5 1032.3 342.8 1026.8 339.1 1010.2 342.8 1000.9 339.1 1004.6 331.7 1002.8 316.9 995.4 311.4 991.7 300.3 986.2 294.8 981.0 287.0 979.2 283.8 979.2 273.9 976.8 267.8 973.1 262.8 970.6 254.2 963.2 250.5 955.8 246.8 955.8 241.9 949.7 239.5 949.7 229.6 942.3 223.5 933.8 216.3 928.9 206.5 925.2 201.5 926.5 194.2 917.8 190.5 917.8 186.8 908.0 180.6 900.6 173.2 900.6 167.1 906.8 163.4 906.8 158.5 900.6 157.2 890.8 158.5 883.4 151.1 874.8 144.9 869.8 140.0 866.0 137.6 866.0 129.0 862.3 121.6 862.3 105.6 855.5 104.4 855.5 84.7 859.8 81.0 866.0 80.4 879.5 84.7 896.8 84.7 900.5 94.5 910.3 94.5 921.4 98.8 921.4 104.4 917.7 106.8 917.7 114.2 927.5 122.8 927.5 131.5 931.2 138.8 935.1 146.2 941.2 151.1 942.5 164.6 944.9 165.8 944.9 172.0 948.6 176.9 956.0 179.4 962.2 186.8 970.8 194.2 978.2 200.3 985.5 206.0 990.0 209.0 1003.8 212.4 1006.3 217.3 1006.3 223.5 1003.8 225.9 1010.0 233.3 1016.2 237.0 1030.9 241.9 1030.9 254.2 1046.9 254.2 1055.5 262.8 1055.5 266.5 1049.4 271.5 1048.2 278.8 1050.8 287.4 1058.1 291.1 1080.3 300.3 1087.7 304.0 1093.2 313.2 1098.8 322.5 1106.1 328.0 1117.2 337.2 1128.3 344.6 1135.7 353.8 1143.1 361.2 1152.3 370.5 1161.5 381.5 1170.0 385.2 1170.0 70.5Z" fill="#fdfdfb"/>
<defs><clipPath id="landclip"><path d="M789.5 70.5 789.5 73.5 793.0 73.5 793.0 77.0 796.6 77.0 796.6 84.0 800.0 84.0 800.0 94.0 804.0 94.0 810.6 98.0 810.6 108.0 814.0 108.0 814.0 113.0 820.7 113.0 818.0 119.0 824.0 128.5 828.6 134.4 834.4 148.7 844.4 153.0 848.7 157.3 857.3 163.1 865.9 176.0 871.0 177.4 883.2 185.3 883.2 195.0 883.9 201.5 886.5 204.0 880.0 209.2 880.0 214.4 871.0 217.0 856.8 215.7 856.8 219.5 859.4 222.1 860.7 226.0 865.8 227.3 867.1 229.9 873.6 232.5 874.9 236.3 883.9 240.2 889.1 244.1 896.8 248.0 904.6 250.5 913.6 251.8 917.5 254.4 922.7 258.3 929.1 262.2 935.6 267.3 943.3 269.9 949.8 272.5 954.8 280.0 958.5 290.0 958.5 302.2 951.1 316.9 950.2 319.7 962.2 322.5 971.4 326.2 984.3 335.4 995.4 344.6 1006.5 353.8 1017.5 364.9 1023.1 372.3 1028.6 383.4 1032.3 386.1 1034.1 386.1 1036.0 379.7 1047.1 372.3 1043.4 359.4 1032.3 357.5 1032.3 342.8 1026.8 339.1 1010.2 342.8 1000.9 339.1 1004.6 331.7 1002.8 316.9 995.4 311.4 991.7 300.3 986.2 294.8 981.0 287.0 979.2 283.8 979.2 273.9 976.8 267.8 973.1 262.8 970.6 254.2 963.2 250.5 955.8 246.8 955.8 241.9 949.7 239.5 949.7 229.6 942.3 223.5 933.8 216.3 928.9 206.5 925.2 201.5 926.5 194.2 917.8 190.5 917.8 186.8 908.0 180.6 900.6 173.2 900.6 167.1 906.8 163.4 906.8 158.5 900.6 157.2 890.8 158.5 883.4 151.1 874.8 144.9 869.8 140.0 866.0 137.6 866.0 129.0 862.3 121.6 862.3 105.6 855.5 104.4 855.5 84.7 859.8 81.0 866.0 80.4 879.5 84.7 896.8 84.7 900.5 94.5 910.3 94.5 921.4 98.8 921.4 104.4 917.7 106.8 917.7 114.2 927.5 122.8 927.5 131.5 931.2 138.8 935.1 146.2 941.2 151.1 942.5 164.6 944.9 165.8 944.9 172.0 948.6 176.9 956.0 179.4 962.2 186.8 970.8 194.2 978.2 200.3 985.5 206.0 990.0 209.0 1003.8 212.4 1006.3 217.3 1006.3 223.5 1003.8 225.9 1010.0 233.3 1016.2 237.0 1030.9 241.9 1030.9 254.2 1046.9 254.2 1055.5 262.8 1055.5 266.5 1049.4 271.5 1048.2 278.8 1050.8 287.4 1058.1 291.1 1080.3 300.3 1087.7 304.0 1093.2 313.2 1098.8 322.5 1106.1 328.0 1117.2 337.2 1128.3 344.6 1135.7 353.8 1143.1 361.2 1152.3 370.5 1161.5 381.5 1170.0 385.2 1170.0 70.5Z"/></clipPath></defs>
<path clip-path="url(#landclip)" d="M199.3 70.5V488.0M268.7 70.5V488.0M338.0 70.5V488.0M407.3 70.5V488.0M476.7 70.5V488.0M546.0 70.5V488.0M615.3 70.5V488.0M684.7 70.5V488.0M754.0 70.5V488.0M823.3 70.5V488.0M892.7 70.5V488.0M962.0 70.5V488.0M1031.3 70.5V488.0M1100.7 70.5V488.0M130.0 140.1H1170.0M130.0 209.7H1170.0M130.0 279.2H1170.0M130.0 348.8H1170.0M130.0 418.4H1170.0" stroke="#909090" stroke-width="1" stroke-dasharray="1 2" fill="none" opacity="0.6"/>
<path d="M797.6 70.5 800.0 75.0 803.6 83.6 812.1 94.1 812.6 103.2 823.2 112.2 823.2 128.3 832.9 130.8 835.1 148.7 844.4 153.0 857.3 160.2 868.8 171.7 883.2 184.6 893.0 195.0 893.0 207.9 877.5 217.0 859.4 214.4 876.2 227.3 883.9 238.9 902.0 249.2 920.1 251.8 933.0 262.2 951.1 272.5 958.5 291.1 951.1 318.8 969.5 326.2 995.4 342.8 1019.4 364.9 1026.8 374.1 1031.0 385.2M1031.0 385.2 1027.2 377.2 1020.3 366.9 1013.4 360.0 1010.0 352.0 1010.2 339.1 1004.6 329.8 1002.8 316.9 997.2 304.0 995.4 294.8 992.8 290.0 986.6 278.8 981.7 266.5 978.0 259.2 962.0 244.4 950.9 228.4 939.8 216.1 930.4 195.0 920.0 183.0 912.9 175.7 903.1 164.6 898.2 159.7 892.0 153.5 882.2 146.2 874.8 140.0 869.7 133.9 870.9 126.5 872.2 116.7M866.6 77.3 897.4 83.5 910.3 92.1 923.8 97.6 924.5 111.8 933.7 131.5 934.9 138.8 942.3 150.0 946.2 154.8 956.0 173.2 964.6 180.6 976.9 194.2 990.5 208.3 1010.2 211.4 1011.2 228.4 1028.5 240.7 1038.3 251.8 1048.2 255.5 1058.0 266.5 1051.8 278.8 1052.6 287.4 1087.7 304.0 1102.5 324.3 1135.7 353.8 1170.0 388.0M922.9 70.5 993.9 91.6 1093.0 91.6 1093.0 77.9 1149.0 77.0 1155.0 78.5 1159.0 82.0 1162.0 87.0 1165.0 89.5 1170.0 90.5M1064.8 70.5 1064.8 91.6M1148.7 70.5 1148.7 77.0" stroke="#3a3a3a" stroke-width="1.3" fill="none" stroke-linejoin="round"/>
<rect x="130.0" y="70.5" width="1040.0" height="417.5" fill="none" stroke="#282828" stroke-width="1.6"/>
<path d="M130.0 70.5v-5M130.0 488.0v5M199.3 70.5v-5M199.3 488.0v5M268.7 70.5v-5M268.7 488.0v5M338.0 70.5v-5M338.0 488.0v5M407.3 70.5v-5M407.3 488.0v5M476.7 70.5v-5M476.7 488.0v5M546.0 70.5v-5M546.0 488.0v5M615.3 70.5v-5M615.3 488.0v5M684.7 70.5v-5M684.7 488.0v5M754.0 70.5v-5M754.0 488.0v5M823.3 70.5v-5M823.3 488.0v5M892.7 70.5v-5M892.7 488.0v5M962.0 70.5v-5M962.0 488.0v5M1031.3 70.5v-5M1031.3 488.0v5M1100.7 70.5v-5M1100.7 488.0v5M1170.0 70.5v-5M1170.0 488.0v5M130.0 488.0h-10M1170.0 488.0h10M130.0 418.4h-10M1170.0 418.4h10M130.0 348.8h-10M1170.0 348.8h10M130.0 279.2h-10M1170.0 279.2h10M130.0 209.7h-10M1170.0 209.7h10M130.0 140.1h-10M1170.0 140.1h10M130.0 70.5h-10M1170.0 70.5h10" stroke="#707070" stroke-width="1.6" fill="none"/>
<text x="424.5" y="32.3" font-family="Liberation Serif" font-weight="bold" font-style="italic" stroke="#111" stroke-width="0.15" font-size="14.5" textLength="442.5" lengthAdjust="spacing" fill="#111">NOAA/NESDIS GEO&#8722;POLAR BLENDED 11km SST ANALYSIS</text>
<text x="529" y="44.3" font-family="Liberation Serif" font-weight="bold" font-style="italic" stroke="#111" stroke-width="0.15" font-size="14.5" textLength="233.5" lengthAdjust="spacing" fill="#111">FOR THE GULF OF CALIFORNIA</text>
<text x="101.7" y="492.2" font-family="Liberation Serif" font-weight="bold" font-style="italic" stroke="#111" stroke-width="0.15" font-size="12.5" textLength="14" lengthAdjust="spacingAndGlyphs" fill="#111">20</text>
<text x="101.7" y="422.6" font-family="Liberation Serif" font-weight="bold" font-style="italic" stroke="#111" stroke-width="0.15" font-size="12.5" textLength="14" lengthAdjust="spacingAndGlyphs" fill="#111">22</text>
<text x="101.7" y="353.0" font-family="Liberation Serif" font-weight="bold" font-style="italic" stroke="#111" stroke-width="0.15" font-size="12.5" textLength="14" lengthAdjust="spacingAndGlyphs" fill="#111">24</text>
<text x="101.7" y="283.4" font-family="Liberation Serif" font-weight="bold" font-style="italic" stroke="#111" stroke-width="0.15" font-size="12.5" textLength="14" lengthAdjust="spacingAndGlyphs" fill="#111">26</text>
<text x="101.7" y="213.9" font-family="Liberation Serif" font-weight="bold" font-style="italic" stroke="#111" stroke-width="0.15" font-size="12.5" textLength="14" lengthAdjust="spacingAndGlyphs" fill="#111">28</text>
<text x="101.7" y="144.3" font-family="Liberation Serif" font-weight="bold" font-style="italic" stroke="#111" stroke-width="0.15" font-size="12.5" textLength="14" lengthAdjust="spacingAndGlyphs" fill="#111">30</text>
<text x="101.7" y="74.7" font-family="Liberation Serif" font-weight="bold" font-style="italic" stroke="#111" stroke-width="0.15" font-size="12.5" textLength="14" lengthAdjust="spacingAndGlyphs" fill="#111">32</text>
<text x="115.0" y="507.5" font-family="Liberation Serif" font-weight="bold" font-style="italic" stroke="#111" stroke-width="0.15" font-size="12.5" textLength="30" lengthAdjust="spacingAndGlyphs" fill="#111">&#8722;136</text>
<text x="184.3" y="507.5" font-family="Liberation Serif" font-weight="bold" font-style="italic" stroke="#111" stroke-width="0.15" font-size="12.5" textLength="30" lengthAdjust="spacingAndGlyphs" fill="#111">&#8722;134</text>
<text x="253.7" y="507.5" font-family="Liberation Serif" font-weight="bold" font-style="italic" stroke="#111" stroke-width="0.15" font-size="12.5" textLength="30" lengthAdjust="spacingAndGlyphs" fill="#111">&#8722;132</text>
<text x="323.0" y="507.5" font-family="Liberation Serif" font-weight="bold" font-style="italic" stroke="#111" stroke-width="0.15" font-size="12.5" textLength="30" lengthAdjust="spacingAndGlyphs" fill="#111">&#8722;130</text>
<text x="392.3" y="507.5" font-family="Liberation Serif" font-weight="bold" font-style="italic" stroke="#111" stroke-width="0.15" font-size="12.5" textLength="30" lengthAdjust="spacingAndGlyphs" fill="#111">&#8722;128</text>
<text x="461.7" y="507.5" font-family="Liberation Serif" font-weight="bold" font-style="italic" stroke="#111" stroke-width="0.15" font-size="12.5" textLength="30" lengthAdjust="spacingAndGlyphs" fill="#111">&#8722;126</text>
<text x="531.0" y="507.5" font-family="Liberation Serif" font-weight="bold" font-style="italic" stroke="#111" stroke-width="0.15" font-size="12.5" textLength="30" lengthAdjust="spacingAndGlyphs" fill="#111">&#8722;124</text>
<text x="600.3" y="507.5" font-family="Liberation Serif" font-weight="bold" font-style="italic" stroke="#111" stroke-width="0.15" font-size="12.5" textLength="30" lengthAdjust="spacingAndGlyphs" fill="#111">&#8722;122</text>
<text x="669.7" y="507.5" font-family="Liberation Serif" font-weight="bold" font-style="italic" stroke="#111" stroke-width="0.15" font-size="12.5" textLength="30" lengthAdjust="spacingAndGlyphs" fill="#111">&#8722;120</text>
<text x="739.0" y="507.5" font-family="Liberation Serif" font-weight="bold" font-style="italic" stroke="#111" stroke-width="0.15" font-size="12.5" textLength="30" lengthAdjust="spacingAndGlyphs" fill="#111">&#8722;118</text>
<text x="808.3" y="507.5" font-family="Liberation Serif" font-weight="bold" font-style="italic" stroke="#111" stroke-width="0.15" font-size="12.5" textLength="30" lengthAdjust="spacingAndGlyphs" fill="#111">&#8722;116</text>
<text x="877.7" y="507.5" font-family="Liberation Serif" font-weight="bold" font-style="italic" stroke="#111" stroke-width="0.15" font-size="12.5" textLength="30" lengthAdjust="spacingAndGlyphs" fill="#111">&#8722;114</text>
<text x="947.0" y="507.5" font-family="Liberation Serif" font-weight="bold" font-style="italic" stroke="#111" stroke-width="0.15" font-size="12.5" textLength="30" lengthAdjust="spacingAndGlyphs" fill="#111">&#8722;112</text>
<text x="1016.3" y="507.5" font-family="Liberation Serif" font-weight="bold" font-style="italic" stroke="#111" stroke-width="0.15" font-size="12.5" textLength="30" lengthAdjust="spacingAndGlyphs" fill="#111">&#8722;110</text>
<text x="1085.7" y="507.5" font-family="Liberation Serif" font-weight="bold" font-style="italic" stroke="#111" stroke-width="0.15" font-size="12.5" textLength="30" lengthAdjust="spacingAndGlyphs" fill="#111">&#8722;108</text>
<text x="1155.0" y="507.5" font-family="Liberation Serif" font-weight="bold" font-style="italic" stroke="#111" stroke-width="0.15" font-size="12.5" textLength="30" lengthAdjust="spacingAndGlyphs" fill="#111">&#8722;106</text>
<text x="607.5" y="530.5" font-family="Liberation Serif" font-style="italic" stroke="#111" stroke-width="0.45" font-size="12.5" textLength="90" lengthAdjust="spacing" fill="#111">25 APRIL 2012</text>
<text transform="translate(479 586.8) scale(1.18 1)" x="0" y="0" font-family="Liberation Serif" font-style="italic" stroke="#111" stroke-width="0.4" font-size="15" textLength="289.8" lengthAdjust="spacing" fill="#111">sea surface temperature in degrees Celsius</text>
<defs><linearGradient id="cb" x1="0" x2="1" y1="0" y2="0"><stop offset="0.0000" stop-color="#b000b0"/><stop offset="0.0619" stop-color="#9c00cc"/><stop offset="0.1239" stop-color="#8400e8"/><stop offset="0.1858" stop-color="#7010f0"/><stop offset="0.2212" stop-color="#5a40f0"/><stop offset="0.2478" stop-color="#4a68f0"/><stop offset="0.3097" stop-color="#3898f0"/><stop offset="0.3451" stop-color="#18d0f0"/><stop offset="0.3717" stop-color="#00f0f0"/><stop offset="0.4071" stop-color="#00f0c0"/><stop offset="0.4336" stop-color="#00e090"/><stop offset="0.4956" stop-color="#00c840"/><stop offset="0.5310" stop-color="#10c010"/><stop offset="0.5752" stop-color="#20c800"/><stop offset="0.6283" stop-color="#68d800"/><stop offset="0.6903" stop-color="#b0e800"/><stop offset="0.7522" stop-color="#e8f400"/><stop offset="0.7788" stop-color="#f0e000"/><stop offset="0.8142" stop-color="#f8c800"/><stop offset="0.8761" stop-color="#f09800"/><stop offset="0.9204" stop-color="#f07000"/><stop offset="0.9558" stop-color="#f04000"/><stop offset="1.0000" stop-color="#f82000"/></linearGradient></defs>
<rect x="259.8" y="592.3" width="780.8" height="21.0" fill="url(#cb)" stroke="#202020" stroke-width="1.5"/>
<path d="M308.6 592.3v3M308.6 613.3v-3M357.4 592.3v3M357.4 613.3v-3M406.2 592.3v3M406.2 613.3v-3M455.0 592.3v3M455.0 613.3v-3M503.8 592.3v3M503.8 613.3v-3M552.6 592.3v3M552.6 613.3v-3M601.4 592.3v3M601.4 613.3v-3M650.2 592.3v3M650.2 613.3v-3M699.0 592.3v3M699.0 613.3v-3M747.8 592.3v3M747.8 613.3v-3M796.6 592.3v3M796.6 613.3v-3M845.4 592.3v3M845.4 613.3v-3M894.2 592.3v3M894.2 613.3v-3M943.0 592.3v3M943.0 613.3v-3M991.8 592.3v3M991.8 613.3v-3" stroke="#202020" stroke-width="1.5"/>
<text x="247.8" y="629" font-family="Liberation Serif" font-weight="bold" font-style="italic" stroke="#111" stroke-width="0.15" font-size="12" textLength="24" lengthAdjust="spacingAndGlyphs" fill="#111">14.6</text>
<text x="345.4" y="629" font-family="Liberation Serif" font-weight="bold" font-style="italic" stroke="#111" stroke-width="0.15" font-size="12" textLength="24" lengthAdjust="spacingAndGlyphs" fill="#111">16.0</text>
<text x="443.0" y="629" font-family="Liberation Serif" font-weight="bold" font-style="italic" stroke="#111" stroke-width="0.15" font-size="12" textLength="24" lengthAdjust="spacingAndGlyphs" fill="#111">17.4</text>
<text x="540.6" y="629" font-family="Liberation Serif" font-weight="bold" font-style="italic" stroke="#111" stroke-width="0.15" font-size="12" textLength="24" lengthAdjust="spacingAndGlyphs" fill="#111">18.8</text>
<text x="638.2" y="629" font-family="Liberation Serif" font-weight="bold" font-style="italic" stroke="#111" stroke-width="0.15" font-size="12" textLength="24" lengthAdjust="spacingAndGlyphs" fill="#111">20.2</text>
<text x="735.8" y="629" font-family="Liberation Serif" font-weight="bold" font-style="italic" stroke="#111" stroke-width="0.15" font-size="12" textLength="24" lengthAdjust="spacingAndGlyphs" fill="#111">21.7</text>
<text x="833.4" y="629" font-family="Liberation Serif" font-weight="bold" font-style="italic" stroke="#111" stroke-width="0.15" font-size="12" textLength="24" lengthAdjust="spacingAndGlyphs" fill="#111">23.1</text>
<text x="931.0" y="629" font-family="Liberation Serif" font-weight="bold" font-style="italic" stroke="#111" stroke-width="0.15" font-size="12" textLength="24" lengthAdjust="spacingAndGlyphs" fill="#111">24.5</text>
<text x="1028.6" y="629" font-family="Liberation Serif" font-weight="bold" font-style="italic" stroke="#111" stroke-width="0.15" font-size="12" textLength="24" lengthAdjust="spacingAndGlyphs" fill="#111">25.9</text>
</svg></body></html>
